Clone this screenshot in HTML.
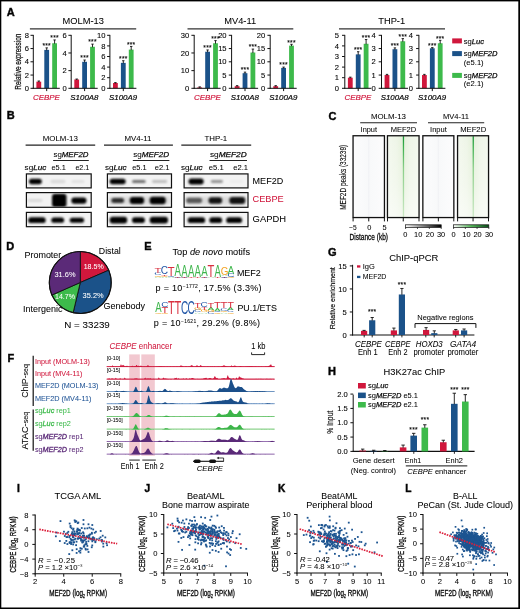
<!DOCTYPE html>
<html><head><meta charset="utf-8"><style>
html,body{margin:0;padding:0;background:#fff;}
body{width:520px;height:609px;overflow:hidden;position:relative;}
svg{position:absolute;left:0;top:0;font-family:"Liberation Sans",sans-serif;filter:blur(0.3px);}
</style></head><body>
<svg width="520" height="609" viewBox="0 0 520 609">
<defs>
<filter id="b1" x="-50%" y="-50%" width="200%" height="200%"><feGaussianBlur stdDeviation="0.9"/></filter>
<filter id="b2" x="-50%" y="-50%" width="200%" height="200%"><feGaussianBlur stdDeviation="1.4"/></filter>
</defs>
<rect x="0" y="0" width="520" height="609" fill="#fff"/>
<text x="6.80" y="16.30" font-size="11" stroke="#111" stroke-width="0.45" font-weight="bold">A</text>
<text stroke="#111" stroke-width="0.25" transform="translate(21.00,61.70) rotate(-90)" x="0" y="0" font-size="8.4" text-anchor="middle" fill="#111" textLength="56.00" lengthAdjust="spacingAndGlyphs">Relative expression</text>
<text x="83.20" y="23.70" font-size="9.3" stroke="#111" stroke-width="0.05" text-anchor="middle">MOLM-13</text>
<line x1="29.90" y1="28.90" x2="136.20" y2="28.90" stroke="#333" stroke-width="1.1" />
<rect x="36.40" y="81.67" width="4.80" height="6.62" fill="#d0173c" />
<line x1="38.80" y1="81.01" x2="38.80" y2="82.17" stroke="#111" stroke-width="0.9" />
<line x1="37.60" y1="81.01" x2="40.00" y2="81.01" stroke="#111" stroke-width="0.9" />
<rect x="44.30" y="49.88" width="4.80" height="38.42" fill="#1b5289" />
<line x1="46.70" y1="47.89" x2="46.70" y2="50.38" stroke="#111" stroke-width="0.9" />
<line x1="45.50" y1="47.89" x2="47.90" y2="47.89" stroke="#111" stroke-width="0.9" />
<text x="46.70" y="48.19" font-size="6.6" stroke="#111" stroke-width="0.12" text-anchor="middle" letter-spacing="0.25">***</text>
<rect x="52.20" y="43.25" width="4.80" height="45.05" fill="#3dba4b" />
<line x1="54.60" y1="39.94" x2="54.60" y2="43.75" stroke="#111" stroke-width="0.9" />
<line x1="53.40" y1="39.94" x2="55.80" y2="39.94" stroke="#111" stroke-width="0.9" />
<text x="54.60" y="40.24" font-size="6.6" stroke="#111" stroke-width="0.12" text-anchor="middle" letter-spacing="0.25">***</text>
<line x1="33.30" y1="34.90" x2="33.30" y2="88.80" stroke="#111" stroke-width="1.0" />
<line x1="32.80" y1="88.30" x2="59.80" y2="88.30" stroke="#111" stroke-width="1.0" />
<line x1="46.70" y1="88.30" x2="46.70" y2="91.10" stroke="#111" stroke-width="1.0" />
<line x1="30.50" y1="88.30" x2="33.30" y2="88.30" stroke="#111" stroke-width="1.0" />
<text x="28.90" y="90.95" font-size="7.6" stroke="#111" stroke-width="0.1" text-anchor="end">0</text>
<line x1="30.50" y1="75.05" x2="33.30" y2="75.05" stroke="#111" stroke-width="1.0" />
<text x="28.90" y="77.70" font-size="7.6" stroke="#111" stroke-width="0.1" text-anchor="end">2</text>
<line x1="30.50" y1="61.80" x2="33.30" y2="61.80" stroke="#111" stroke-width="1.0" />
<text x="28.90" y="64.45" font-size="7.6" stroke="#111" stroke-width="0.1" text-anchor="end">4</text>
<line x1="30.50" y1="48.55" x2="33.30" y2="48.55" stroke="#111" stroke-width="1.0" />
<text x="28.90" y="51.20" font-size="7.6" stroke="#111" stroke-width="0.1" text-anchor="end">6</text>
<line x1="30.50" y1="35.30" x2="33.30" y2="35.30" stroke="#111" stroke-width="1.0" />
<text x="28.90" y="37.95" font-size="7.6" stroke="#111" stroke-width="0.1" text-anchor="end">8</text>
<text x="46.50" y="99.70" font-size="7.9" fill="#d0173c" stroke="#d0173c" stroke-width="0.2" text-anchor="middle" font-style="italic">CEBPE</text>
<rect x="74.30" y="79.47" width="4.80" height="8.83" fill="#d0173c" />
<line x1="76.70" y1="79.02" x2="76.70" y2="79.97" stroke="#111" stroke-width="0.9" />
<line x1="75.50" y1="79.02" x2="77.90" y2="79.02" stroke="#111" stroke-width="0.9" />
<rect x="82.20" y="61.80" width="4.80" height="26.50" fill="#1b5289" />
<line x1="84.60" y1="60.03" x2="84.60" y2="62.30" stroke="#111" stroke-width="0.9" />
<line x1="83.40" y1="60.03" x2="85.80" y2="60.03" stroke="#111" stroke-width="0.9" />
<text x="84.60" y="60.33" font-size="6.6" stroke="#111" stroke-width="0.12" text-anchor="middle" letter-spacing="0.25">***</text>
<rect x="90.10" y="46.78" width="4.80" height="41.52" fill="#3dba4b" />
<line x1="92.50" y1="44.13" x2="92.50" y2="47.28" stroke="#111" stroke-width="0.9" />
<line x1="91.30" y1="44.13" x2="93.70" y2="44.13" stroke="#111" stroke-width="0.9" />
<text x="92.50" y="44.43" font-size="6.6" stroke="#111" stroke-width="0.12" text-anchor="middle" letter-spacing="0.25">***</text>
<line x1="71.20" y1="34.90" x2="71.20" y2="88.80" stroke="#111" stroke-width="1.0" />
<line x1="70.70" y1="88.30" x2="97.70" y2="88.30" stroke="#111" stroke-width="1.0" />
<line x1="84.60" y1="88.30" x2="84.60" y2="91.10" stroke="#111" stroke-width="1.0" />
<line x1="68.40" y1="88.30" x2="71.20" y2="88.30" stroke="#111" stroke-width="1.0" />
<text x="66.80" y="90.95" font-size="7.6" stroke="#111" stroke-width="0.1" text-anchor="end">0</text>
<line x1="68.40" y1="70.63" x2="71.20" y2="70.63" stroke="#111" stroke-width="1.0" />
<text x="66.80" y="73.28" font-size="7.6" stroke="#111" stroke-width="0.1" text-anchor="end">2</text>
<line x1="68.40" y1="52.97" x2="71.20" y2="52.97" stroke="#111" stroke-width="1.0" />
<text x="66.80" y="55.62" font-size="7.6" stroke="#111" stroke-width="0.1" text-anchor="end">4</text>
<line x1="68.40" y1="35.30" x2="71.20" y2="35.30" stroke="#111" stroke-width="1.0" />
<text x="66.80" y="37.95" font-size="7.6" stroke="#111" stroke-width="0.1" text-anchor="end">6</text>
<text x="84.40" y="99.70" font-size="7.9" stroke="#111" stroke-width="0.2" text-anchor="middle" font-style="italic">S100A8</text>
<rect x="113.00" y="83.00" width="4.80" height="5.30" fill="#d0173c" />
<line x1="115.40" y1="82.58" x2="115.40" y2="83.50" stroke="#111" stroke-width="0.9" />
<line x1="114.20" y1="82.58" x2="116.60" y2="82.58" stroke="#111" stroke-width="0.9" />
<rect x="120.90" y="62.86" width="4.80" height="25.44" fill="#1b5289" />
<line x1="123.30" y1="60.74" x2="123.30" y2="63.36" stroke="#111" stroke-width="0.9" />
<line x1="122.10" y1="60.74" x2="124.50" y2="60.74" stroke="#111" stroke-width="0.9" />
<text x="123.30" y="61.04" font-size="6.6" stroke="#111" stroke-width="0.12" text-anchor="middle" letter-spacing="0.25">***</text>
<rect x="128.80" y="49.61" width="4.80" height="38.69" fill="#3dba4b" />
<line x1="131.20" y1="46.43" x2="131.20" y2="50.11" stroke="#111" stroke-width="0.9" />
<line x1="130.00" y1="46.43" x2="132.40" y2="46.43" stroke="#111" stroke-width="0.9" />
<text x="131.20" y="46.73" font-size="6.6" stroke="#111" stroke-width="0.12" text-anchor="middle" letter-spacing="0.25">***</text>
<line x1="109.90" y1="34.90" x2="109.90" y2="88.80" stroke="#111" stroke-width="1.0" />
<line x1="109.40" y1="88.30" x2="136.40" y2="88.30" stroke="#111" stroke-width="1.0" />
<line x1="123.30" y1="88.30" x2="123.30" y2="91.10" stroke="#111" stroke-width="1.0" />
<line x1="107.10" y1="88.30" x2="109.90" y2="88.30" stroke="#111" stroke-width="1.0" />
<text x="105.50" y="90.95" font-size="7.6" stroke="#111" stroke-width="0.1" text-anchor="end">0</text>
<line x1="107.10" y1="77.70" x2="109.90" y2="77.70" stroke="#111" stroke-width="1.0" />
<text x="105.50" y="80.35" font-size="7.6" stroke="#111" stroke-width="0.1" text-anchor="end">2</text>
<line x1="107.10" y1="67.10" x2="109.90" y2="67.10" stroke="#111" stroke-width="1.0" />
<text x="105.50" y="69.75" font-size="7.6" stroke="#111" stroke-width="0.1" text-anchor="end">4</text>
<line x1="107.10" y1="56.50" x2="109.90" y2="56.50" stroke="#111" stroke-width="1.0" />
<text x="105.50" y="59.15" font-size="7.6" stroke="#111" stroke-width="0.1" text-anchor="end">6</text>
<line x1="107.10" y1="45.90" x2="109.90" y2="45.90" stroke="#111" stroke-width="1.0" />
<text x="105.50" y="48.55" font-size="7.6" stroke="#111" stroke-width="0.1" text-anchor="end">8</text>
<line x1="107.10" y1="35.30" x2="109.90" y2="35.30" stroke="#111" stroke-width="1.0" />
<text x="105.50" y="37.95" font-size="7.6" stroke="#111" stroke-width="0.1" text-anchor="end">10</text>
<text x="123.10" y="99.70" font-size="7.9" stroke="#111" stroke-width="0.2" text-anchor="middle" font-style="italic">S100A9</text>
<text x="240.20" y="23.70" font-size="9.3" stroke="#111" stroke-width="0.05" text-anchor="middle">MV4-11</text>
<line x1="187.50" y1="28.90" x2="293.30" y2="28.90" stroke="#333" stroke-width="1.1" />
<rect x="197.30" y="87.42" width="4.80" height="0.88" fill="#d0173c" />
<line x1="199.70" y1="86.89" x2="199.70" y2="87.92" stroke="#111" stroke-width="0.9" />
<line x1="198.50" y1="86.89" x2="200.90" y2="86.89" stroke="#111" stroke-width="0.9" />
<rect x="205.20" y="51.73" width="4.80" height="36.57" fill="#1b5289" />
<line x1="207.60" y1="49.96" x2="207.60" y2="52.23" stroke="#111" stroke-width="0.9" />
<line x1="206.40" y1="49.96" x2="208.80" y2="49.96" stroke="#111" stroke-width="0.9" />
<text x="207.60" y="50.26" font-size="6.6" stroke="#111" stroke-width="0.12" text-anchor="middle" letter-spacing="0.25">***</text>
<rect x="213.10" y="43.25" width="4.80" height="45.05" fill="#3dba4b" />
<line x1="215.50" y1="40.60" x2="215.50" y2="43.75" stroke="#111" stroke-width="0.9" />
<line x1="214.30" y1="40.60" x2="216.70" y2="40.60" stroke="#111" stroke-width="0.9" />
<text x="215.50" y="40.90" font-size="6.6" stroke="#111" stroke-width="0.12" text-anchor="middle" letter-spacing="0.25">***</text>
<line x1="194.20" y1="34.90" x2="194.20" y2="88.80" stroke="#111" stroke-width="1.0" />
<line x1="193.70" y1="88.30" x2="220.70" y2="88.30" stroke="#111" stroke-width="1.0" />
<line x1="207.60" y1="88.30" x2="207.60" y2="91.10" stroke="#111" stroke-width="1.0" />
<line x1="191.40" y1="88.30" x2="194.20" y2="88.30" stroke="#111" stroke-width="1.0" />
<text x="189.20" y="90.95" font-size="7.6" stroke="#111" stroke-width="0.1" text-anchor="end">0</text>
<line x1="191.40" y1="70.63" x2="194.20" y2="70.63" stroke="#111" stroke-width="1.0" />
<text x="189.20" y="73.28" font-size="7.6" stroke="#111" stroke-width="0.1" text-anchor="end">10</text>
<line x1="191.40" y1="52.97" x2="194.20" y2="52.97" stroke="#111" stroke-width="1.0" />
<text x="189.20" y="55.62" font-size="7.6" stroke="#111" stroke-width="0.1" text-anchor="end">20</text>
<line x1="191.40" y1="35.30" x2="194.20" y2="35.30" stroke="#111" stroke-width="1.0" />
<text x="189.20" y="37.95" font-size="7.6" stroke="#111" stroke-width="0.1" text-anchor="end">30</text>
<text x="207.40" y="99.70" font-size="7.9" fill="#d0173c" stroke="#d0173c" stroke-width="0.2" text-anchor="middle" font-style="italic">CEBPE</text>
<rect x="234.70" y="86.18" width="4.80" height="2.12" fill="#d0173c" />
<line x1="237.10" y1="85.65" x2="237.10" y2="86.68" stroke="#111" stroke-width="0.9" />
<line x1="235.90" y1="85.65" x2="238.30" y2="85.65" stroke="#111" stroke-width="0.9" />
<rect x="242.60" y="73.19" width="4.80" height="15.11" fill="#1b5289" />
<line x1="245.00" y1="72.13" x2="245.00" y2="73.69" stroke="#111" stroke-width="0.9" />
<line x1="243.80" y1="72.13" x2="246.20" y2="72.13" stroke="#111" stroke-width="0.9" />
<text x="245.00" y="72.43" font-size="6.6" stroke="#111" stroke-width="0.12" text-anchor="middle" letter-spacing="0.25">***</text>
<rect x="250.50" y="52.52" width="4.80" height="35.78" fill="#3dba4b" />
<line x1="252.90" y1="49.08" x2="252.90" y2="53.02" stroke="#111" stroke-width="0.9" />
<line x1="251.70" y1="49.08" x2="254.10" y2="49.08" stroke="#111" stroke-width="0.9" />
<text x="252.90" y="49.38" font-size="6.6" stroke="#111" stroke-width="0.12" text-anchor="middle" letter-spacing="0.25">***</text>
<line x1="231.60" y1="34.90" x2="231.60" y2="88.80" stroke="#111" stroke-width="1.0" />
<line x1="231.10" y1="88.30" x2="258.10" y2="88.30" stroke="#111" stroke-width="1.0" />
<line x1="245.00" y1="88.30" x2="245.00" y2="91.10" stroke="#111" stroke-width="1.0" />
<line x1="228.80" y1="88.30" x2="231.60" y2="88.30" stroke="#111" stroke-width="1.0" />
<text x="226.60" y="90.95" font-size="7.6" stroke="#111" stroke-width="0.1" text-anchor="end">0</text>
<line x1="228.80" y1="75.05" x2="231.60" y2="75.05" stroke="#111" stroke-width="1.0" />
<text x="226.60" y="77.70" font-size="7.6" stroke="#111" stroke-width="0.1" text-anchor="end">5</text>
<line x1="228.80" y1="61.80" x2="231.60" y2="61.80" stroke="#111" stroke-width="1.0" />
<text x="226.60" y="64.45" font-size="7.6" stroke="#111" stroke-width="0.1" text-anchor="end">10</text>
<line x1="228.80" y1="48.55" x2="231.60" y2="48.55" stroke="#111" stroke-width="1.0" />
<text x="226.60" y="51.20" font-size="7.6" stroke="#111" stroke-width="0.1" text-anchor="end">15</text>
<line x1="228.80" y1="35.30" x2="231.60" y2="35.30" stroke="#111" stroke-width="1.0" />
<text x="226.60" y="37.95" font-size="7.6" stroke="#111" stroke-width="0.1" text-anchor="end">20</text>
<text x="244.80" y="99.70" font-size="7.9" stroke="#111" stroke-width="0.2" text-anchor="middle" font-style="italic">S100A8</text>
<rect x="273.30" y="86.18" width="4.80" height="2.12" fill="#d0173c" />
<line x1="275.70" y1="85.65" x2="275.70" y2="86.68" stroke="#111" stroke-width="0.9" />
<line x1="274.50" y1="85.65" x2="276.90" y2="85.65" stroke="#111" stroke-width="0.9" />
<rect x="281.20" y="67.89" width="4.80" height="20.41" fill="#1b5289" />
<line x1="283.60" y1="67.10" x2="283.60" y2="68.39" stroke="#111" stroke-width="0.9" />
<line x1="282.40" y1="67.10" x2="284.80" y2="67.10" stroke="#111" stroke-width="0.9" />
<text x="283.60" y="67.40" font-size="6.6" stroke="#111" stroke-width="0.12" text-anchor="middle" letter-spacing="0.25">***</text>
<rect x="289.10" y="45.63" width="4.80" height="42.66" fill="#3dba4b" />
<line x1="291.50" y1="44.31" x2="291.50" y2="46.13" stroke="#111" stroke-width="0.9" />
<line x1="290.30" y1="44.31" x2="292.70" y2="44.31" stroke="#111" stroke-width="0.9" />
<text x="291.50" y="44.61" font-size="6.6" stroke="#111" stroke-width="0.12" text-anchor="middle" letter-spacing="0.25">***</text>
<line x1="270.20" y1="34.90" x2="270.20" y2="88.80" stroke="#111" stroke-width="1.0" />
<line x1="269.70" y1="88.30" x2="296.70" y2="88.30" stroke="#111" stroke-width="1.0" />
<line x1="283.60" y1="88.30" x2="283.60" y2="91.10" stroke="#111" stroke-width="1.0" />
<line x1="267.40" y1="88.30" x2="270.20" y2="88.30" stroke="#111" stroke-width="1.0" />
<text x="265.20" y="90.95" font-size="7.6" stroke="#111" stroke-width="0.1" text-anchor="end">0</text>
<line x1="267.40" y1="75.05" x2="270.20" y2="75.05" stroke="#111" stroke-width="1.0" />
<text x="265.20" y="77.70" font-size="7.6" stroke="#111" stroke-width="0.1" text-anchor="end">5</text>
<line x1="267.40" y1="61.80" x2="270.20" y2="61.80" stroke="#111" stroke-width="1.0" />
<text x="265.20" y="64.45" font-size="7.6" stroke="#111" stroke-width="0.1" text-anchor="end">10</text>
<line x1="267.40" y1="48.55" x2="270.20" y2="48.55" stroke="#111" stroke-width="1.0" />
<text x="265.20" y="51.20" font-size="7.6" stroke="#111" stroke-width="0.1" text-anchor="end">15</text>
<line x1="267.40" y1="35.30" x2="270.20" y2="35.30" stroke="#111" stroke-width="1.0" />
<text x="265.20" y="37.95" font-size="7.6" stroke="#111" stroke-width="0.1" text-anchor="end">20</text>
<text x="283.40" y="99.70" font-size="7.9" stroke="#111" stroke-width="0.2" text-anchor="middle" font-style="italic">S100A9</text>
<text x="391.70" y="23.70" font-size="9.3" stroke="#111" stroke-width="0.05" text-anchor="middle">THP-1</text>
<line x1="339.00" y1="28.90" x2="445.00" y2="28.90" stroke="#333" stroke-width="1.1" />
<rect x="347.90" y="77.70" width="4.80" height="10.60" fill="#d0173c" />
<line x1="350.30" y1="77.17" x2="350.30" y2="78.20" stroke="#111" stroke-width="0.9" />
<line x1="349.10" y1="77.17" x2="351.50" y2="77.17" stroke="#111" stroke-width="0.9" />
<rect x="355.80" y="54.38" width="4.80" height="33.92" fill="#1b5289" />
<line x1="358.20" y1="51.73" x2="358.20" y2="54.88" stroke="#111" stroke-width="0.9" />
<line x1="357.00" y1="51.73" x2="359.40" y2="51.73" stroke="#111" stroke-width="0.9" />
<text x="358.20" y="52.03" font-size="6.6" stroke="#111" stroke-width="0.12" text-anchor="middle" letter-spacing="0.25">***</text>
<rect x="363.70" y="43.78" width="4.80" height="44.52" fill="#3dba4b" />
<line x1="366.10" y1="39.54" x2="366.10" y2="44.28" stroke="#111" stroke-width="0.9" />
<line x1="364.90" y1="39.54" x2="367.30" y2="39.54" stroke="#111" stroke-width="0.9" />
<text x="366.10" y="39.84" font-size="6.6" stroke="#111" stroke-width="0.12" text-anchor="middle" letter-spacing="0.25">***</text>
<line x1="344.80" y1="34.90" x2="344.80" y2="88.80" stroke="#111" stroke-width="1.0" />
<line x1="344.30" y1="88.30" x2="371.30" y2="88.30" stroke="#111" stroke-width="1.0" />
<line x1="358.20" y1="88.30" x2="358.20" y2="91.10" stroke="#111" stroke-width="1.0" />
<line x1="342.00" y1="88.30" x2="344.80" y2="88.30" stroke="#111" stroke-width="1.0" />
<text x="339.00" y="90.95" font-size="7.6" stroke="#111" stroke-width="0.1" text-anchor="end">0</text>
<line x1="342.00" y1="77.70" x2="344.80" y2="77.70" stroke="#111" stroke-width="1.0" />
<text x="339.00" y="80.35" font-size="7.6" stroke="#111" stroke-width="0.1" text-anchor="end">1</text>
<line x1="342.00" y1="67.10" x2="344.80" y2="67.10" stroke="#111" stroke-width="1.0" />
<text x="339.00" y="69.75" font-size="7.6" stroke="#111" stroke-width="0.1" text-anchor="end">2</text>
<line x1="342.00" y1="56.50" x2="344.80" y2="56.50" stroke="#111" stroke-width="1.0" />
<text x="339.00" y="59.15" font-size="7.6" stroke="#111" stroke-width="0.1" text-anchor="end">3</text>
<line x1="342.00" y1="45.90" x2="344.80" y2="45.90" stroke="#111" stroke-width="1.0" />
<text x="339.00" y="48.55" font-size="7.6" stroke="#111" stroke-width="0.1" text-anchor="end">4</text>
<line x1="342.00" y1="35.30" x2="344.80" y2="35.30" stroke="#111" stroke-width="1.0" />
<text x="339.00" y="37.95" font-size="7.6" stroke="#111" stroke-width="0.1" text-anchor="end">5</text>
<text x="358.00" y="99.70" font-size="7.9" fill="#d0173c" stroke="#d0173c" stroke-width="0.2" text-anchor="middle" font-style="italic">CEBPE</text>
<rect x="384.60" y="75.05" width="4.80" height="13.25" fill="#d0173c" />
<line x1="387.00" y1="74.39" x2="387.00" y2="75.55" stroke="#111" stroke-width="0.9" />
<line x1="385.80" y1="74.39" x2="388.20" y2="74.39" stroke="#111" stroke-width="0.9" />
<rect x="392.50" y="49.21" width="4.80" height="39.09" fill="#1b5289" />
<line x1="394.90" y1="47.89" x2="394.90" y2="49.71" stroke="#111" stroke-width="0.9" />
<line x1="393.70" y1="47.89" x2="396.10" y2="47.89" stroke="#111" stroke-width="0.9" />
<text x="394.90" y="48.19" font-size="6.6" stroke="#111" stroke-width="0.12" text-anchor="middle" letter-spacing="0.25">***</text>
<rect x="400.40" y="41.26" width="4.80" height="47.04" fill="#3dba4b" />
<line x1="402.80" y1="38.61" x2="402.80" y2="41.76" stroke="#111" stroke-width="0.9" />
<line x1="401.60" y1="38.61" x2="404.00" y2="38.61" stroke="#111" stroke-width="0.9" />
<text x="402.80" y="38.91" font-size="6.6" stroke="#111" stroke-width="0.12" text-anchor="middle" letter-spacing="0.25">***</text>
<line x1="381.50" y1="34.90" x2="381.50" y2="88.80" stroke="#111" stroke-width="1.0" />
<line x1="381.00" y1="88.30" x2="408.00" y2="88.30" stroke="#111" stroke-width="1.0" />
<line x1="394.90" y1="88.30" x2="394.90" y2="91.10" stroke="#111" stroke-width="1.0" />
<line x1="378.70" y1="88.30" x2="381.50" y2="88.30" stroke="#111" stroke-width="1.0" />
<text x="375.70" y="90.95" font-size="7.6" stroke="#111" stroke-width="0.1" text-anchor="end">0</text>
<line x1="378.70" y1="75.05" x2="381.50" y2="75.05" stroke="#111" stroke-width="1.0" />
<text x="375.70" y="77.70" font-size="7.6" stroke="#111" stroke-width="0.1" text-anchor="end">1</text>
<line x1="378.70" y1="61.80" x2="381.50" y2="61.80" stroke="#111" stroke-width="1.0" />
<text x="375.70" y="64.45" font-size="7.6" stroke="#111" stroke-width="0.1" text-anchor="end">2</text>
<line x1="378.70" y1="48.55" x2="381.50" y2="48.55" stroke="#111" stroke-width="1.0" />
<text x="375.70" y="51.20" font-size="7.6" stroke="#111" stroke-width="0.1" text-anchor="end">3</text>
<line x1="378.70" y1="35.30" x2="381.50" y2="35.30" stroke="#111" stroke-width="1.0" />
<text x="375.70" y="37.95" font-size="7.6" stroke="#111" stroke-width="0.1" text-anchor="end">4</text>
<text x="394.70" y="99.70" font-size="7.9" stroke="#111" stroke-width="0.2" text-anchor="middle" font-style="italic">S100A8</text>
<rect x="422.00" y="75.05" width="4.80" height="13.25" fill="#d0173c" />
<line x1="424.40" y1="74.39" x2="424.40" y2="75.55" stroke="#111" stroke-width="0.9" />
<line x1="423.20" y1="74.39" x2="425.60" y2="74.39" stroke="#111" stroke-width="0.9" />
<rect x="429.90" y="48.28" width="4.80" height="40.02" fill="#1b5289" />
<line x1="432.30" y1="47.62" x2="432.30" y2="48.78" stroke="#111" stroke-width="0.9" />
<line x1="431.10" y1="47.62" x2="433.50" y2="47.62" stroke="#111" stroke-width="0.9" />
<text x="432.30" y="47.92" font-size="6.6" stroke="#111" stroke-width="0.12" text-anchor="middle" letter-spacing="0.25">***</text>
<rect x="437.80" y="43.25" width="4.80" height="45.05" fill="#3dba4b" />
<line x1="440.20" y1="40.33" x2="440.20" y2="43.75" stroke="#111" stroke-width="0.9" />
<line x1="439.00" y1="40.33" x2="441.40" y2="40.33" stroke="#111" stroke-width="0.9" />
<text x="440.20" y="40.63" font-size="6.6" stroke="#111" stroke-width="0.12" text-anchor="middle" letter-spacing="0.25">***</text>
<line x1="418.90" y1="34.90" x2="418.90" y2="88.80" stroke="#111" stroke-width="1.0" />
<line x1="418.40" y1="88.30" x2="445.40" y2="88.30" stroke="#111" stroke-width="1.0" />
<line x1="432.30" y1="88.30" x2="432.30" y2="91.10" stroke="#111" stroke-width="1.0" />
<line x1="416.10" y1="88.30" x2="418.90" y2="88.30" stroke="#111" stroke-width="1.0" />
<text x="413.10" y="90.95" font-size="7.6" stroke="#111" stroke-width="0.1" text-anchor="end">0</text>
<line x1="416.10" y1="75.05" x2="418.90" y2="75.05" stroke="#111" stroke-width="1.0" />
<text x="413.10" y="77.70" font-size="7.6" stroke="#111" stroke-width="0.1" text-anchor="end">1</text>
<line x1="416.10" y1="61.80" x2="418.90" y2="61.80" stroke="#111" stroke-width="1.0" />
<text x="413.10" y="64.45" font-size="7.6" stroke="#111" stroke-width="0.1" text-anchor="end">2</text>
<line x1="416.10" y1="48.55" x2="418.90" y2="48.55" stroke="#111" stroke-width="1.0" />
<text x="413.10" y="51.20" font-size="7.6" stroke="#111" stroke-width="0.1" text-anchor="end">3</text>
<line x1="416.10" y1="35.30" x2="418.90" y2="35.30" stroke="#111" stroke-width="1.0" />
<text x="413.10" y="37.95" font-size="7.6" stroke="#111" stroke-width="0.1" text-anchor="end">4</text>
<text x="432.10" y="99.70" font-size="7.9" stroke="#111" stroke-width="0.2" text-anchor="middle" font-style="italic">S100A9</text>
<rect x="452.20" y="38.40" width="9.70" height="5.00" fill="#d0173c" />
<rect x="452.20" y="51.10" width="9.70" height="5.00" fill="#1b5289" />
<rect x="452.20" y="72.90" width="9.70" height="5.00" fill="#3dba4b" />
<text x="463.80" y="43.60" font-size="7.6" stroke="#111" stroke-width="0.05"><tspan>sg</tspan><tspan font-style="italic" stroke-width="0.25">Luc</tspan></text>
<text x="463.80" y="56.20" font-size="7.6" stroke="#111" stroke-width="0.05"><tspan>sg</tspan><tspan font-style="italic" stroke-width="0.25">MEF2D</tspan></text>
<text x="463.80" y="64.80" font-size="7.6" stroke="#111" stroke-width="0.05">(e5.1)</text>
<text x="463.80" y="77.90" font-size="7.6" stroke="#111" stroke-width="0.05"><tspan>sg</tspan><tspan font-style="italic" stroke-width="0.25">MEF2D</tspan></text>
<text x="463.80" y="86.40" font-size="7.6" stroke="#111" stroke-width="0.05">(e2.1)</text>
<text x="6.70" y="119.40" font-size="11" stroke="#111" stroke-width="0.45" font-weight="bold">B</text>
<text x="60.30" y="141.40" font-size="7.9" stroke="#111" stroke-width="0.05" text-anchor="middle">MOLM-13</text>
<line x1="25.60" y1="145.10" x2="95.20" y2="145.10" stroke="#222" stroke-width="1.1" />
<text x="138.00" y="141.40" font-size="7.9" stroke="#111" stroke-width="0.05" text-anchor="middle">MV4-11</text>
<line x1="104.00" y1="145.10" x2="172.90" y2="145.10" stroke="#222" stroke-width="1.1" />
<text x="215.80" y="141.40" font-size="7.9" stroke="#111" stroke-width="0.05" text-anchor="middle">THP-1</text>
<line x1="181.30" y1="145.10" x2="251.20" y2="145.10" stroke="#222" stroke-width="1.1" />
<text x="53.50" y="157.10" font-size="7.9" stroke="#111" stroke-width="0.05" textLength="35.00" lengthAdjust="spacingAndGlyphs"><tspan>sg</tspan><tspan font-style="italic" stroke-width="0.25">MEF2D</tspan></text>
<line x1="53.10" y1="160.50" x2="88.80" y2="160.50" stroke="#222" stroke-width="1.0" />
<text x="133.20" y="157.10" font-size="7.9" stroke="#111" stroke-width="0.05" textLength="35.90" lengthAdjust="spacingAndGlyphs"><tspan>sg</tspan><tspan font-style="italic" stroke-width="0.25">MEF2D</tspan></text>
<line x1="132.80" y1="160.50" x2="169.40" y2="160.50" stroke="#222" stroke-width="1.0" />
<text x="209.90" y="157.10" font-size="7.9" stroke="#111" stroke-width="0.05" textLength="36.80" lengthAdjust="spacingAndGlyphs"><tspan>sg</tspan><tspan font-style="italic" stroke-width="0.25">MEF2D</tspan></text>
<line x1="209.50" y1="160.50" x2="247.00" y2="160.50" stroke="#222" stroke-width="1.0" />
<text x="24.60" y="170.10" font-size="7.6" stroke="#111" stroke-width="0.05" textLength="21.60" lengthAdjust="spacingAndGlyphs"><tspan>sg</tspan><tspan font-style="italic" stroke-width="0.25">Luc</tspan></text>
<text x="51.50" y="170.10" font-size="7.6" stroke="#111" stroke-width="0.05" textLength="14.30" lengthAdjust="spacingAndGlyphs">e5.1</text>
<text x="75.40" y="170.10" font-size="7.6" stroke="#111" stroke-width="0.05" textLength="13.80" lengthAdjust="spacingAndGlyphs">e2.1</text>
<text x="104.90" y="170.10" font-size="7.6" stroke="#111" stroke-width="0.05" textLength="21.60" lengthAdjust="spacingAndGlyphs"><tspan>sg</tspan><tspan font-style="italic" stroke-width="0.25">Luc</tspan></text>
<text x="132.20" y="170.10" font-size="7.6" stroke="#111" stroke-width="0.05" textLength="14.40" lengthAdjust="spacingAndGlyphs">e5.1</text>
<text x="154.70" y="170.10" font-size="7.6" stroke="#111" stroke-width="0.05" textLength="14.70" lengthAdjust="spacingAndGlyphs">e2.1</text>
<text x="180.90" y="170.10" font-size="7.6" stroke="#111" stroke-width="0.05" textLength="21.60" lengthAdjust="spacingAndGlyphs"><tspan>sg</tspan><tspan font-style="italic" stroke-width="0.25">Luc</tspan></text>
<text x="208.80" y="170.10" font-size="7.6" stroke="#111" stroke-width="0.05" textLength="14.90" lengthAdjust="spacingAndGlyphs">e5.1</text>
<text x="233.20" y="170.10" font-size="7.6" stroke="#111" stroke-width="0.05" textLength="14.80" lengthAdjust="spacingAndGlyphs">e2.1</text>
<rect x="26.40" y="173.90" width="64.80" height="14.00" fill="#f3f3f3" stroke="#111" stroke-width="1.2"/>
<clipPath id="cb00"><rect x="27.00" y="174.50" width="63.60" height="12.80"/></clipPath>
<g clip-path="url(#cb00)">
<rect x="29.00" y="178.80" width="12.80" height="5.40" rx="2.70" fill="#000" opacity="1.0" filter="url(#b1)"/>
<rect x="50.50" y="179.75" width="15.00" height="3.50" rx="1.75" fill="#000" opacity="0.1" filter="url(#b1)"/>
<rect x="71.50" y="180.00" width="13.00" height="3.00" rx="1.50" fill="#000" opacity="0.07" filter="url(#b1)"/>
</g>
<rect x="26.40" y="192.60" width="64.80" height="14.70" fill="#f3f3f3" stroke="#111" stroke-width="1.2"/>
<clipPath id="cb01"><rect x="27.00" y="193.20" width="63.60" height="13.50"/></clipPath>
<g clip-path="url(#cb01)">
<rect x="27.50" y="199.05" width="15.00" height="3.00" rx="1.50" fill="#000" opacity="0.1" filter="url(#b1)"/>
<rect x="52.00" y="193.80" width="14.50" height="13.50" rx="3.00" fill="#000" opacity="1.0" filter="url(#b1)"/>
<rect x="71.30" y="197.45" width="15.20" height="6.20" rx="3.00" fill="#000" opacity="1.0" filter="url(#b1)"/>
</g>
<rect x="26.40" y="212.40" width="64.80" height="14.30" fill="#f3f3f3" stroke="#111" stroke-width="1.2"/>
<clipPath id="cb02"><rect x="27.00" y="213.00" width="63.60" height="13.10"/></clipPath>
<g clip-path="url(#cb02)">
<rect x="28.20" y="217.25" width="17.50" height="5.80" rx="2.90" fill="#000" opacity="1.0" filter="url(#b1)"/>
<rect x="51.30" y="217.45" width="12.80" height="5.40" rx="2.70" fill="#000" opacity="1.0" filter="url(#b1)"/>
<rect x="69.70" y="217.65" width="14.40" height="5.00" rx="2.50" fill="#000" opacity="1.0" filter="url(#b1)"/>
</g>
<rect x="107.40" y="173.90" width="64.10" height="14.00" fill="#f3f3f3" stroke="#111" stroke-width="1.2"/>
<clipPath id="cb10"><rect x="108.00" y="174.50" width="62.90" height="12.80"/></clipPath>
<g clip-path="url(#cb10)">
<rect x="109.70" y="178.70" width="16.00" height="5.60" rx="2.80" fill="#000" opacity="1.0" filter="url(#b1)"/>
<rect x="132.00" y="179.90" width="13.70" height="3.20" rx="1.60" fill="#000" opacity="0.55" filter="url(#b1)"/>
<rect x="152.00" y="180.10" width="15.20" height="2.80" rx="1.40" fill="#000" opacity="0.22" filter="url(#b1)"/>
</g>
<rect x="107.40" y="192.60" width="64.10" height="14.70" fill="#f3f3f3" stroke="#111" stroke-width="1.2"/>
<clipPath id="cb11"><rect x="108.00" y="193.20" width="62.90" height="13.50"/></clipPath>
<g clip-path="url(#cb11)">
<rect x="108.80" y="196.55" width="61.30" height="8" fill="#000" opacity="0.10" filter="url(#b2)"/>
<rect x="111.30" y="198.05" width="12.80" height="5.00" rx="2.50" fill="#000" opacity="0.8" filter="url(#b1)"/>
<rect x="129.70" y="197.05" width="14.40" height="7.00" rx="3.00" fill="#000" opacity="1.0" filter="url(#b1)"/>
<rect x="149.70" y="196.80" width="16.00" height="7.50" rx="3.00" fill="#000" opacity="1.0" filter="url(#b1)"/>
</g>
<rect x="107.40" y="212.40" width="64.10" height="14.30" fill="#f3f3f3" stroke="#111" stroke-width="1.2"/>
<clipPath id="cb12"><rect x="108.00" y="213.00" width="62.90" height="13.10"/></clipPath>
<g clip-path="url(#cb12)">
<rect x="109.70" y="216.75" width="17.50" height="6.80" rx="3.00" fill="#000" opacity="1.0" filter="url(#b1)"/>
<rect x="132.00" y="217.35" width="12.90" height="5.60" rx="2.80" fill="#000" opacity="1.0" filter="url(#b1)"/>
<rect x="149.70" y="216.75" width="18.30" height="6.80" rx="3.00" fill="#000" opacity="1.0" filter="url(#b1)"/>
</g>
<rect x="184.10" y="173.90" width="63.90" height="14.00" fill="#f3f3f3" stroke="#111" stroke-width="1.2"/>
<clipPath id="cb20"><rect x="184.70" y="174.50" width="62.70" height="12.80"/></clipPath>
<g clip-path="url(#cb20)">
<rect x="188.50" y="178.60" width="15.20" height="5.80" rx="2.90" fill="#000" opacity="1.0" filter="url(#b1)"/>
<rect x="210.80" y="180.10" width="12.10" height="2.80" rx="1.40" fill="#000" opacity="0.4" filter="url(#b1)"/>
<rect x="229.50" y="180.50" width="14.00" height="2.00" rx="1.00" fill="#000" opacity="0.04" filter="url(#b1)"/>
</g>
<rect x="184.10" y="192.60" width="63.90" height="14.70" fill="#f3f3f3" stroke="#111" stroke-width="1.2"/>
<clipPath id="cb21"><rect x="184.70" y="193.20" width="62.70" height="13.50"/></clipPath>
<g clip-path="url(#cb21)">
<rect x="185.50" y="196.55" width="61.10" height="8" fill="#000" opacity="0.10" filter="url(#b2)"/>
<rect x="186.20" y="197.80" width="15.90" height="5.50" rx="2.75" fill="#000" opacity="0.6" filter="url(#b1)"/>
<rect x="208.50" y="197.30" width="13.60" height="6.50" rx="3.00" fill="#000" opacity="0.92" filter="url(#b1)"/>
<rect x="229.30" y="197.05" width="15.90" height="7.00" rx="3.00" fill="#000" opacity="0.92" filter="url(#b1)"/>
</g>
<rect x="184.10" y="212.40" width="63.90" height="14.30" fill="#f3f3f3" stroke="#111" stroke-width="1.2"/>
<clipPath id="cb22"><rect x="184.70" y="213.00" width="62.70" height="13.10"/></clipPath>
<g clip-path="url(#cb22)">
<rect x="187.70" y="217.25" width="17.50" height="5.80" rx="2.90" fill="#000" opacity="1.0" filter="url(#b1)"/>
<rect x="209.30" y="217.25" width="12.80" height="5.80" rx="2.90" fill="#000" opacity="1.0" filter="url(#b1)"/>
<rect x="226.20" y="217.25" width="15.90" height="5.80" rx="2.90" fill="#000" opacity="1.0" filter="url(#b1)"/>
</g>
<text x="252.60" y="184.10" font-size="9.1" stroke="#111" stroke-width="0.05" textLength="30.60" lengthAdjust="spacingAndGlyphs">MEF2D</text>
<text x="252.60" y="202.10" font-size="9.1" fill="#d0173c" stroke="#d0173c" stroke-width="0.05" textLength="31.10" lengthAdjust="spacingAndGlyphs">CEBPE</text>
<text x="252.60" y="222.20" font-size="9.1" stroke="#111" stroke-width="0.05" textLength="33.40" lengthAdjust="spacingAndGlyphs">GAPDH</text>
<text x="328.40" y="119.50" font-size="11" stroke="#111" stroke-width="0.45" font-weight="bold">C</text>
<text x="388.40" y="118.80" font-size="7.9" stroke="#111" stroke-width="0.05" text-anchor="middle" textLength="35.00" lengthAdjust="spacingAndGlyphs">MOLM-13</text>
<line x1="360.20" y1="122.80" x2="417.00" y2="122.80" stroke="#222" stroke-width="1.1" />
<text x="455.90" y="118.80" font-size="7.9" stroke="#111" stroke-width="0.05" text-anchor="middle" textLength="26.00" lengthAdjust="spacingAndGlyphs">MV4-11</text>
<line x1="428.00" y1="122.80" x2="484.20" y2="122.80" stroke="#222" stroke-width="1.1" />
<text x="368.80" y="131.60" font-size="7.6" stroke="#111" stroke-width="0.05" text-anchor="middle" textLength="16.40" lengthAdjust="spacingAndGlyphs">Input</text>
<text x="403.50" y="131.60" font-size="7.6" stroke="#111" stroke-width="0.05" text-anchor="middle" textLength="25.50" lengthAdjust="spacingAndGlyphs">MEF2D</text>
<text x="438.40" y="131.60" font-size="7.6" stroke="#111" stroke-width="0.05" text-anchor="middle" textLength="16.70" lengthAdjust="spacingAndGlyphs">Input</text>
<text x="473.20" y="131.60" font-size="7.6" stroke="#111" stroke-width="0.05" text-anchor="middle" textLength="26.00" lengthAdjust="spacingAndGlyphs">MEF2D</text>
<linearGradient id="ginp" x1="0" x2="1" y1="0" y2="0"><stop offset="0" stop-color="#fcfcfd"/><stop offset="0.46" stop-color="#f8f9fa"/><stop offset="0.5" stop-color="#f1f2f5"/><stop offset="0.54" stop-color="#f8f9fa"/><stop offset="1" stop-color="#fcfcfd"/></linearGradient>
<linearGradient id="gme" x1="0" x2="1" y1="0" y2="0"><stop offset="0" stop-color="#f3f8ee"/><stop offset="0.3" stop-color="#eef5e7"/><stop offset="0.45" stop-color="#e6f1dc"/><stop offset="0.55" stop-color="#e6f1dc"/><stop offset="0.7" stop-color="#eef5e7"/><stop offset="1" stop-color="#f3f8ee"/></linearGradient>
<linearGradient id="gmev" x1="0" x2="0" y1="0" y2="1"><stop offset="0" stop-color="#fff" stop-opacity="0"/><stop offset="0.6" stop-color="#fff" stop-opacity="0.25"/><stop offset="1" stop-color="#fff" stop-opacity="0.55"/></linearGradient>
<linearGradient id="gline" x1="0" x2="0" y1="0" y2="1"><stop offset="0" stop-color="#1a9638"/><stop offset="0.12" stop-color="#3aae4c"/><stop offset="0.4" stop-color="#8ccf8a"/><stop offset="1" stop-color="#cbe8c4"/></linearGradient>
<rect x="353.05" y="135.75" width="31.40" height="81.80" fill="url(#ginp)"/>
<rect x="353.05" y="135.75" width="31.40" height="81.80" fill="none" stroke="#111" stroke-width="1.3"/>
<line x1="353.10" y1="217.60" x2="353.10" y2="221.40" stroke="#111" stroke-width="1.0" />
<line x1="368.75" y1="217.60" x2="368.75" y2="221.40" stroke="#111" stroke-width="1.0" />
<line x1="384.40" y1="217.60" x2="384.40" y2="221.40" stroke="#111" stroke-width="1.0" />
<rect x="387.45" y="135.75" width="31.60" height="81.80" fill="url(#gme)"/>
<rect x="387.90" y="136.20" width="30.70" height="80.90" fill="url(#gmev)"/>
<rect x="402.80" y="136.20" width="1.3" height="80.90" fill="url(#gline)"/>
<rect x="387.45" y="135.75" width="31.60" height="81.80" fill="none" stroke="#111" stroke-width="1.3"/>
<line x1="387.50" y1="217.60" x2="387.50" y2="221.40" stroke="#111" stroke-width="1.0" />
<line x1="403.25" y1="217.60" x2="403.25" y2="221.40" stroke="#111" stroke-width="1.0" />
<line x1="419.00" y1="217.60" x2="419.00" y2="221.40" stroke="#111" stroke-width="1.0" />
<rect x="422.85" y="135.75" width="31.00" height="81.80" fill="url(#ginp)"/>
<rect x="422.85" y="135.75" width="31.00" height="81.80" fill="none" stroke="#111" stroke-width="1.3"/>
<line x1="422.90" y1="217.60" x2="422.90" y2="221.40" stroke="#111" stroke-width="1.0" />
<line x1="438.35" y1="217.60" x2="438.35" y2="221.40" stroke="#111" stroke-width="1.0" />
<line x1="453.80" y1="217.60" x2="453.80" y2="221.40" stroke="#111" stroke-width="1.0" />
<rect x="457.55" y="135.75" width="31.00" height="81.80" fill="url(#gme)"/>
<rect x="458.00" y="136.20" width="30.10" height="80.90" fill="url(#gmev)"/>
<rect x="472.60" y="136.20" width="1.3" height="80.90" fill="url(#gline)"/>
<rect x="457.55" y="135.75" width="31.00" height="81.80" fill="none" stroke="#111" stroke-width="1.3"/>
<line x1="457.60" y1="217.60" x2="457.60" y2="221.40" stroke="#111" stroke-width="1.0" />
<line x1="473.05" y1="217.60" x2="473.05" y2="221.40" stroke="#111" stroke-width="1.0" />
<line x1="488.50" y1="217.60" x2="488.50" y2="221.40" stroke="#111" stroke-width="1.0" />
<text x="352.90" y="229.70" font-size="7.4" stroke="#111" stroke-width="0.05" text-anchor="middle" textLength="7.60" lengthAdjust="spacingAndGlyphs">−5</text>
<text x="369.20" y="229.70" font-size="7.4" stroke="#111" stroke-width="0.05" text-anchor="middle">0</text>
<text x="384.60" y="229.70" font-size="7.4" stroke="#111" stroke-width="0.05" text-anchor="middle">5</text>
<text x="349.60" y="240.30" font-size="8.8" stroke="#111" stroke-width="0.3" textLength="38.40" lengthAdjust="spacingAndGlyphs">Distance (kb)</text>
<text stroke="#111" stroke-width="0.15" transform="translate(346.30,177.30) rotate(-90)" x="0" y="0" font-size="8.3" text-anchor="middle" fill="#111" textLength="65.00" lengthAdjust="spacingAndGlyphs">MEF2D peaks (33239)</text>
<linearGradient id="cbg" x1="0" x2="1"><stop offset="0" stop-color="#fff"/><stop offset="1" stop-color="#000"/></linearGradient>
<linearGradient id="cbgr" x1="0" x2="1"><stop offset="0" stop-color="#fff"/><stop offset="0.5" stop-color="#56b95a"/><stop offset="1" stop-color="#0b4d1a"/></linearGradient>
<rect x="405.60" y="224.8" width="35.60" height="2.6" fill="url(#cbg)" stroke="#111" stroke-width="0.7"/>
<line x1="405.60" y1="227.30" x2="405.60" y2="229.00" stroke="#111" stroke-width="0.7" />
<line x1="417.47" y1="227.30" x2="417.47" y2="229.00" stroke="#111" stroke-width="0.7" />
<line x1="429.33" y1="227.30" x2="429.33" y2="229.00" stroke="#111" stroke-width="0.7" />
<line x1="441.20" y1="227.30" x2="441.20" y2="229.00" stroke="#111" stroke-width="0.7" />
<rect x="453.60" y="224.8" width="35.20" height="2.6" fill="url(#cbgr)" stroke="#111" stroke-width="0.7"/>
<line x1="453.60" y1="227.30" x2="453.60" y2="229.00" stroke="#111" stroke-width="0.7" />
<line x1="465.33" y1="227.30" x2="465.33" y2="229.00" stroke="#111" stroke-width="0.7" />
<line x1="477.07" y1="227.30" x2="477.07" y2="229.00" stroke="#111" stroke-width="0.7" />
<line x1="488.80" y1="227.30" x2="488.80" y2="229.00" stroke="#111" stroke-width="0.7" />
<text x="405.40" y="237.30" font-size="7.4" stroke="#111" stroke-width="0.05" text-anchor="middle">0</text>
<text x="418.20" y="237.30" font-size="7.4" stroke="#111" stroke-width="0.05" text-anchor="middle">10</text>
<text x="429.90" y="237.30" font-size="7.4" stroke="#111" stroke-width="0.05" text-anchor="middle">20</text>
<text x="441.10" y="237.30" font-size="7.4" stroke="#111" stroke-width="0.05" text-anchor="middle">30</text>
<text x="453.50" y="237.30" font-size="7.4" stroke="#111" stroke-width="0.05" text-anchor="middle">0</text>
<text x="466.40" y="237.30" font-size="7.4" stroke="#111" stroke-width="0.05" text-anchor="middle">10</text>
<text x="477.60" y="237.30" font-size="7.4" stroke="#111" stroke-width="0.05" text-anchor="middle">20</text>
<text x="489.00" y="237.30" font-size="7.4" stroke="#111" stroke-width="0.05" text-anchor="middle">30</text>
<text x="6.30" y="249.60" font-size="11" stroke="#111" stroke-width="0.45" font-weight="bold">D</text>
<path d="M80.30,282.50 L80.30,251.50 A31.0,31.0 0 0 1 108.75,270.19 Z" fill="#d0173c" stroke="#111" stroke-width="0.9" stroke-linejoin="round"/>
<path d="M80.30,282.50 L108.75,270.19 A31.0,31.0 0 0 1 73.16,312.67 Z" fill="#1b5289" stroke="#111" stroke-width="0.9" stroke-linejoin="round"/>
<path d="M80.30,282.50 L73.16,312.67 A31.0,31.0 0 0 1 51.93,294.99 Z" fill="#3dba4b" stroke="#111" stroke-width="0.9" stroke-linejoin="round"/>
<path d="M80.30,282.50 L51.93,294.99 A31.0,31.0 0 0 1 80.30,251.50 Z" fill="#5b2a78" stroke="#111" stroke-width="0.9" stroke-linejoin="round"/>
<circle cx="80.3" cy="282.5" r="31.0" fill="none" stroke="#111" stroke-width="1.1"/>
<text x="93.70" y="269.30" font-size="7.6" fill="#fff" stroke="#fff" stroke-width="0.05" text-anchor="middle" textLength="20.00" lengthAdjust="spacingAndGlyphs">18.5%</text>
<text x="65.00" y="276.80" font-size="7.6" fill="#fff" stroke="#fff" stroke-width="0.05" text-anchor="middle" textLength="21.00" lengthAdjust="spacingAndGlyphs">31.6%</text>
<text x="65.00" y="298.80" font-size="7.6" fill="#fff" stroke="#fff" stroke-width="0.05" text-anchor="middle" textLength="20.00" lengthAdjust="spacingAndGlyphs">14.7%</text>
<text x="93.10" y="297.60" font-size="7.6" fill="#fff" stroke="#fff" stroke-width="0.05" text-anchor="middle" textLength="21.00" lengthAdjust="spacingAndGlyphs">35.2%</text>
<text x="98.80" y="253.80" font-size="8.6" stroke="#111" stroke-width="0.05" textLength="22.00" lengthAdjust="spacingAndGlyphs">Distal</text>
<text x="24.50" y="257.60" font-size="8.6" stroke="#111" stroke-width="0.05" textLength="36.80" lengthAdjust="spacingAndGlyphs">Promoter</text>
<text x="23.00" y="312.00" font-size="8.6" stroke="#111" stroke-width="0.05" textLength="39.50" lengthAdjust="spacingAndGlyphs">Intergenic</text>
<text x="103.50" y="309.10" font-size="8.6" stroke="#111" stroke-width="0.05" textLength="41.60" lengthAdjust="spacingAndGlyphs">Genebody</text>
<text x="64.30" y="328.20" font-size="8.9" stroke="#111" stroke-width="0.05" textLength="45.50" lengthAdjust="spacingAndGlyphs">N = 33239</text>
<text x="144.20" y="250.10" font-size="11" stroke="#111" stroke-width="0.45" font-weight="bold">E</text>
<text x="172.50" y="254.90" font-size="8.8" stroke="#111" stroke-width="0.05" textLength="77.50" lengthAdjust="spacingAndGlyphs"><tspan>Top </tspan><tspan font-style="italic">de novo</tspan><tspan> motifs</tspan></text>
<text transform="translate(154.63,278.30) scale(0.967,0.186)" x="0" y="0" font-size="10" fill="#3cb54a">A</text>
<text transform="translate(154.14,277.00) scale(0.982,0.216)" x="0" y="0" font-size="10" fill="#f3a221">G</text>
<text transform="translate(154.13,275.46) scale(1.013,0.288)" x="0" y="0" font-size="10" fill="#2156a6">C</text>
<text transform="translate(154.41,273.44) scale(1.120,0.779)" x="0" y="0" font-size="10" fill="#d8303f">T</text>
<text transform="translate(161.28,278.30) scale(0.967,0.186)" x="0" y="0" font-size="10" fill="#3cb54a">A</text>
<text transform="translate(160.79,277.00) scale(0.982,0.180)" x="0" y="0" font-size="10" fill="#f3a221">G</text>
<text transform="translate(161.06,275.74) scale(1.120,0.186)" x="0" y="0" font-size="10" fill="#d8303f">T</text>
<text transform="translate(160.78,274.35) scale(1.013,1.082)" x="0" y="0" font-size="10" fill="#2156a6">C</text>
<text transform="translate(167.93,278.30) scale(0.967,0.148)" x="0" y="0" font-size="10" fill="#3cb54a">A</text>
<text transform="translate(167.43,277.26) scale(1.013,0.180)" x="0" y="0" font-size="10" fill="#2156a6">C</text>
<text transform="translate(167.71,276.00) scale(1.120,1.336)" x="0" y="0" font-size="10" fill="#d8303f">T</text>
<text transform="translate(174.08,278.29) scale(1.013,0.090)" x="0" y="0" font-size="10" fill="#2156a6">C</text>
<text transform="translate(174.36,277.66) scale(1.120,0.186)" x="0" y="0" font-size="10" fill="#d8303f">T</text>
<text transform="translate(174.58,276.38) scale(0.967,1.577)" x="0" y="0" font-size="10" fill="#3cb54a">A</text>
<text transform="translate(180.73,278.29) scale(1.013,0.090)" x="0" y="0" font-size="10" fill="#2156a6">C</text>
<text transform="translate(181.01,277.66) scale(1.120,0.148)" x="0" y="0" font-size="10" fill="#d8303f">T</text>
<text transform="translate(181.23,276.64) scale(0.967,1.614)" x="0" y="0" font-size="10" fill="#3cb54a">A</text>
<text transform="translate(187.66,278.30) scale(1.120,0.186)" x="0" y="0" font-size="10" fill="#d8303f">T</text>
<text transform="translate(187.88,277.02) scale(0.967,1.632)" x="0" y="0" font-size="10" fill="#3cb54a">A</text>
<text transform="translate(194.31,278.30) scale(1.120,0.186)" x="0" y="0" font-size="10" fill="#d8303f">T</text>
<text transform="translate(194.53,277.02) scale(0.967,1.632)" x="0" y="0" font-size="10" fill="#3cb54a">A</text>
<text transform="translate(200.68,278.29) scale(1.013,0.090)" x="0" y="0" font-size="10" fill="#2156a6">C</text>
<text transform="translate(200.96,277.66) scale(1.120,0.223)" x="0" y="0" font-size="10" fill="#d8303f">T</text>
<text transform="translate(201.18,276.12) scale(0.967,1.521)" x="0" y="0" font-size="10" fill="#3cb54a">A</text>
<text transform="translate(207.83,278.30) scale(0.967,0.148)" x="0" y="0" font-size="10" fill="#3cb54a">A</text>
<text transform="translate(207.61,277.28) scale(1.120,1.670)" x="0" y="0" font-size="10" fill="#d8303f">T</text>
<text transform="translate(214.26,278.30) scale(1.120,0.148)" x="0" y="0" font-size="10" fill="#d8303f">T</text>
<text transform="translate(214.48,277.28) scale(0.967,1.670)" x="0" y="0" font-size="10" fill="#3cb54a">A</text>
<text transform="translate(220.91,278.30) scale(1.120,0.111)" x="0" y="0" font-size="10" fill="#d8303f">T</text>
<text transform="translate(220.63,277.51) scale(1.013,0.216)" x="0" y="0" font-size="10" fill="#2156a6">C</text>
<text transform="translate(221.13,276.00) scale(0.967,0.186)" x="0" y="0" font-size="10" fill="#3cb54a">A</text>
<text transform="translate(220.64,274.61) scale(0.982,1.082)" x="0" y="0" font-size="10" fill="#f3a221">G</text>
<text transform="translate(227.29,278.29) scale(0.982,0.144)" x="0" y="0" font-size="10" fill="#f3a221">G</text>
<text transform="translate(227.28,277.23) scale(1.013,0.451)" x="0" y="0" font-size="10" fill="#2156a6">C</text>
<text transform="translate(227.78,274.08) scale(0.967,1.020)" x="0" y="0" font-size="10" fill="#3cb54a">A</text>
<text x="236.90" y="275.60" font-size="9.4" stroke="#111" stroke-width="0.05" textLength="23.90" lengthAdjust="spacingAndGlyphs">MEF2</text>
<text x="155.60" y="291.30" font-size="9.0" stroke="#111" stroke-width="0.05" textLength="106.00" lengthAdjust="spacing"><tspan>p = 10</tspan><tspan font-size="5" dy="-3">−1772</tspan><tspan dy="3">, 17.5% (3.3%)</tspan></text>
<text transform="translate(154.65,313.78) scale(0.970,0.187)" x="0" y="0" font-size="10" fill="#f3a221">G</text>
<text transform="translate(155.13,312.47) scale(0.955,1.446)" x="0" y="0" font-size="10" fill="#3cb54a">A</text>
<text transform="translate(161.21,313.79) scale(0.970,0.150)" x="0" y="0" font-size="10" fill="#f3a221">G</text>
<text transform="translate(161.48,312.74) scale(1.106,0.867)" x="0" y="0" font-size="10" fill="#d8303f">T</text>
<text transform="translate(161.20,306.68) scale(1.001,0.693)" x="0" y="0" font-size="10" fill="#2156a6">C</text>
<text transform="translate(168.04,313.80) scale(1.106,1.793)" x="0" y="0" font-size="10" fill="#d8303f">T</text>
<text transform="translate(174.61,313.80) scale(1.106,1.793)" x="0" y="0" font-size="10" fill="#d8303f">T</text>
<text transform="translate(180.90,313.62) scale(1.001,1.780)" x="0" y="0" font-size="10" fill="#2156a6">C</text>
<text transform="translate(187.46,313.62) scale(1.001,1.780)" x="0" y="0" font-size="10" fill="#2156a6">C</text>
<text transform="translate(194.53,313.80) scale(0.955,0.231)" x="0" y="0" font-size="10" fill="#3cb54a">A</text>
<text transform="translate(194.03,312.18) scale(1.001,0.281)" x="0" y="0" font-size="10" fill="#2156a6">C</text>
<text transform="translate(194.05,310.18) scale(0.970,0.337)" x="0" y="0" font-size="10" fill="#f3a221">G</text>
<text transform="translate(194.31,307.81) scale(1.106,0.810)" x="0" y="0" font-size="10" fill="#d8303f">T</text>
<text transform="translate(201.10,313.80) scale(0.955,0.231)" x="0" y="0" font-size="10" fill="#3cb54a">A</text>
<text transform="translate(200.61,312.17) scale(0.970,0.375)" x="0" y="0" font-size="10" fill="#f3a221">G</text>
<text transform="translate(200.88,309.54) scale(1.106,0.289)" x="0" y="0" font-size="10" fill="#d8303f">T</text>
<text transform="translate(200.60,307.47) scale(1.001,0.749)" x="0" y="0" font-size="10" fill="#2156a6">C</text>
<text transform="translate(207.16,313.77) scale(1.001,0.281)" x="0" y="0" font-size="10" fill="#2156a6">C</text>
<text transform="translate(207.18,311.78) scale(0.970,0.281)" x="0" y="0" font-size="10" fill="#f3a221">G</text>
<text transform="translate(207.66,309.81) scale(0.955,0.289)" x="0" y="0" font-size="10" fill="#3cb54a">A</text>
<text transform="translate(207.44,307.81) scale(1.106,0.810)" x="0" y="0" font-size="10" fill="#d8303f">T</text>
<text transform="translate(213.75,313.78) scale(0.970,0.225)" x="0" y="0" font-size="10" fill="#f3a221">G</text>
<text transform="translate(213.73,312.18) scale(1.001,0.225)" x="0" y="0" font-size="10" fill="#2156a6">C</text>
<text transform="translate(214.23,310.61) scale(0.955,0.386)" x="0" y="0" font-size="10" fill="#3cb54a">A</text>
<text transform="translate(214.01,307.95) scale(1.106,0.867)" x="0" y="0" font-size="10" fill="#d8303f">T</text>
<text transform="translate(220.80,313.80) scale(0.955,0.193)" x="0" y="0" font-size="10" fill="#3cb54a">A</text>
<text transform="translate(220.31,312.45) scale(0.970,0.225)" x="0" y="0" font-size="10" fill="#f3a221">G</text>
<text transform="translate(220.30,310.84) scale(1.001,0.375)" x="0" y="0" font-size="10" fill="#2156a6">C</text>
<text transform="translate(220.58,308.21) scale(1.106,0.964)" x="0" y="0" font-size="10" fill="#d8303f">T</text>
<text transform="translate(226.88,313.78) scale(0.970,0.187)" x="0" y="0" font-size="10" fill="#f3a221">G</text>
<text transform="translate(226.86,312.44) scale(1.001,0.281)" x="0" y="0" font-size="10" fill="#2156a6">C</text>
<text transform="translate(227.36,310.48) scale(0.955,0.289)" x="0" y="0" font-size="10" fill="#3cb54a">A</text>
<text transform="translate(227.14,308.48) scale(1.106,0.964)" x="0" y="0" font-size="10" fill="#d8303f">T</text>
<text x="237.40" y="311.00" font-size="9.4" stroke="#111" stroke-width="0.05" textLength="39.50" lengthAdjust="spacingAndGlyphs">PU.1/ETS</text>
<text x="153.80" y="326.30" font-size="9.0" stroke="#111" stroke-width="0.05" textLength="106.20" lengthAdjust="spacing"><tspan>p = 10</tspan><tspan font-size="5" dy="-3">−1621</tspan><tspan dy="3">, 29.2% (9.8%)</tspan></text>
<text x="7.40" y="362.10" font-size="11" stroke="#111" stroke-width="0.45" font-weight="bold">F</text>
<rect x="129.20" y="354.40" width="10.60" height="101.40" fill="#f2c8d0" />
<rect x="141.30" y="354.40" width="13.50" height="101.40" fill="#f2c8d0" />
<text x="109.60" y="349.30" font-size="8.6" fill="#d0173c" stroke="#d0173c" stroke-width="0.05" textLength="62.50" lengthAdjust="spacingAndGlyphs"><tspan font-style="italic">CEBPE</tspan><tspan> enhancer</tspan></text>
<text x="251.20" y="349.30" font-size="8.2" stroke="#111" stroke-width="0.05" textLength="14.20" lengthAdjust="spacingAndGlyphs">1 kb</text>
<path d="M251.6,352.4 L251.6,354.6 L264.6,354.6 L264.6,352.4" fill="none" stroke="#111" stroke-width="0.9"/>
<line x1="33.20" y1="355.70" x2="33.20" y2="405.90" stroke="#111" stroke-width="1.2" />
<line x1="33.20" y1="409.50" x2="33.20" y2="450.80" stroke="#111" stroke-width="1.2" />
<text stroke="#111" stroke-width="0.1" transform="translate(28.30,381.00) rotate(-90)" x="0" y="0" font-size="8.6" text-anchor="middle" fill="#111" textLength="33.50" lengthAdjust="spacingAndGlyphs">ChIP-<tspan font-size="6.8">seq</tspan></text>
<text stroke="#111" stroke-width="0.1" transform="translate(28.30,430.60) rotate(-90)" x="0" y="0" font-size="8.6" text-anchor="middle" fill="#111" textLength="38.00" lengthAdjust="spacingAndGlyphs">ATAC-<tspan font-size="6.8">seq</tspan></text>
<text x="34.90" y="363.70" font-size="7.6" fill="#d0173c" stroke="#d0173c" stroke-width="0.05" textLength="55.10" lengthAdjust="spacingAndGlyphs"><tspan>Input (MOLM-13)</tspan></text>
<text x="34.90" y="376.30" font-size="7.6" fill="#d0173c" stroke="#d0173c" stroke-width="0.05" textLength="47.40" lengthAdjust="spacingAndGlyphs"><tspan>Input (MV4-11)</tspan></text>
<text x="34.90" y="388.00" font-size="7.6" fill="#215596" stroke="#215596" stroke-width="0.05" textLength="63.50" lengthAdjust="spacingAndGlyphs"><tspan>MEF2D (MOLM-13)</tspan></text>
<text x="34.90" y="400.60" font-size="7.6" fill="#215596" stroke="#215596" stroke-width="0.05" textLength="56.50" lengthAdjust="spacingAndGlyphs"><tspan>MEF2D (MV4-11)</tspan></text>
<text x="34.90" y="413.30" font-size="7.6" fill="#3dba4b" stroke="#3dba4b" stroke-width="0.05" textLength="36.00" lengthAdjust="spacingAndGlyphs"><tspan>sg</tspan><tspan font-style="italic" stroke-width="0.3">Luc</tspan><tspan> rep1</tspan></text>
<text x="34.90" y="426.40" font-size="7.6" fill="#3dba4b" stroke="#3dba4b" stroke-width="0.05" textLength="36.00" lengthAdjust="spacingAndGlyphs"><tspan>sg</tspan><tspan font-style="italic" stroke-width="0.3">Luc</tspan><tspan> rep2</tspan></text>
<text x="34.90" y="439.20" font-size="7.6" fill="#5b2a78" stroke="#5b2a78" stroke-width="0.05" textLength="48.60" lengthAdjust="spacingAndGlyphs"><tspan>sg</tspan><tspan font-style="italic" stroke-width="0.3">MEF2D</tspan><tspan> rep1</tspan></text>
<text x="34.90" y="451.90" font-size="7.6" fill="#5b2a78" stroke="#5b2a78" stroke-width="0.05" textLength="48.60" lengthAdjust="spacingAndGlyphs"><tspan>sg</tspan><tspan font-style="italic" stroke-width="0.3">MEF2D</tspan><tspan> rep2</tspan></text>
<text x="106.70" y="359.80" font-size="5.6" stroke="#111" stroke-width="0.05" textLength="13.50" lengthAdjust="spacingAndGlyphs">[0-10]</text>
<line x1="106.70" y1="366.60" x2="274.60" y2="366.60" stroke="#d0173c" stroke-width="0.9" />
<path d="M106.70,367.00 L106.70,366.68 L107.20,366.61 L107.70,366.67 L108.20,366.72 L108.70,366.66 L109.21,366.74 L109.71,366.74 L110.21,366.40 L110.71,366.60 L111.21,366.65 L111.71,366.59 L112.21,365.78 L112.71,365.19 L113.22,366.07 L113.72,366.61 L114.22,366.67 L114.72,366.68 L115.22,366.52 L115.72,366.60 L116.22,366.62 L116.72,366.59 L117.23,366.61 L117.73,366.63 L118.23,366.62 L118.73,366.60 L119.23,366.74 L119.73,366.50 L120.23,365.71 L120.73,364.61 L121.23,364.44 L121.74,365.76 L122.24,365.20 L122.74,365.23 L123.24,365.57 L123.74,364.83 L124.24,365.67 L124.74,366.22 L125.24,366.37 L125.75,366.47 L126.25,366.35 L126.75,365.79 L127.25,365.69 L127.75,366.40 L128.25,366.59 L128.75,366.73 L129.25,366.64 L129.75,366.63 L130.26,366.60 L130.76,366.73 L131.26,366.60 L131.76,365.94 L132.26,365.45 L132.76,366.22 L133.26,366.51 L133.76,366.40 L134.27,366.31 L134.77,366.20 L135.27,366.18 L135.77,365.90 L136.27,365.11 L136.77,364.93 L137.27,365.82 L137.77,366.04 L138.28,365.38 L138.78,366.05 L139.28,366.30 L139.78,365.96 L140.28,365.99 L140.78,365.62 L141.28,365.65 L141.78,366.09 L142.28,366.68 L142.79,366.46 L143.29,366.69 L143.79,366.59 L144.29,366.62 L144.79,366.62 L145.29,366.64 L145.79,366.47 L146.29,366.48 L146.80,366.28 L147.30,365.83 L147.80,364.96 L148.30,365.27 L148.80,366.07 L149.30,366.28 L149.80,366.45 L150.30,366.45 L150.81,366.59 L151.31,366.57 L151.81,366.63 L152.31,366.65 L152.81,366.73 L153.31,366.60 L153.81,366.64 L154.31,366.63 L154.81,366.67 L155.32,366.71 L155.82,366.70 L156.32,366.43 L156.82,366.53 L157.32,366.49 L157.82,366.39 L158.32,366.42 L158.82,366.31 L159.33,366.24 L159.83,366.29 L160.33,366.31 L160.83,366.35 L161.33,366.30 L161.83,366.35 L162.33,366.45 L162.83,366.58 L163.33,366.52 L163.84,366.57 L164.34,366.57 L164.84,366.50 L165.34,366.70 L165.84,366.65 L166.34,366.70 L166.84,366.60 L167.34,366.71 L167.85,366.31 L168.35,366.64 L168.85,366.70 L169.35,366.74 L169.85,366.52 L170.35,366.34 L170.85,366.68 L171.35,366.66 L171.86,366.66 L172.36,366.63 L172.86,366.41 L173.36,366.51 L173.86,366.75 L174.36,366.39 L174.86,366.71 L175.36,366.65 L175.86,366.66 L176.37,366.69 L176.87,366.30 L177.37,366.61 L177.87,366.73 L178.37,366.66 L178.87,366.69 L179.37,366.61 L179.87,366.40 L180.38,365.43 L180.88,365.50 L181.38,365.69 L181.88,365.41 L182.38,366.07 L182.88,366.62 L183.38,366.70 L183.88,366.62 L184.39,366.74 L184.89,366.67 L185.39,366.51 L185.89,366.35 L186.39,366.35 L186.89,366.70 L187.39,366.68 L187.89,366.67 L188.39,366.62 L188.90,366.61 L189.40,366.27 L189.90,366.65 L190.40,366.21 L190.90,365.36 L191.40,365.13 L191.90,365.22 L192.40,365.32 L192.91,366.20 L193.41,366.52 L193.91,366.44 L194.41,366.64 L194.91,366.40 L195.41,366.50 L195.91,366.31 L196.41,365.68 L196.91,365.04 L197.42,365.53 L197.92,365.98 L198.42,366.33 L198.92,366.36 L199.42,366.17 L199.92,365.84 L200.42,365.26 L200.92,364.97 L201.43,365.73 L201.93,366.32 L202.43,366.40 L202.93,366.50 L203.43,366.58 L203.93,366.62 L204.43,366.54 L204.93,366.62 L205.44,366.66 L205.94,366.46 L206.44,366.71 L206.94,366.65 L207.44,366.62 L207.94,366.32 L208.44,366.64 L208.94,366.61 L209.44,366.70 L209.95,366.72 L210.45,366.31 L210.95,366.71 L211.45,366.62 L211.95,366.63 L212.45,366.36 L212.95,366.69 L213.45,366.74 L213.96,366.65 L214.46,366.27 L214.96,366.67 L215.46,366.67 L215.96,366.66 L216.46,366.70 L216.96,366.67 L217.46,366.47 L217.97,366.66 L218.47,366.62 L218.97,366.28 L219.47,366.73 L219.97,366.65 L220.47,366.63 L220.97,366.52 L221.47,366.17 L221.97,366.17 L222.48,366.01 L222.98,365.69 L223.48,365.52 L223.98,365.29 L224.48,365.48 L224.98,365.68 L225.48,365.93 L225.98,366.17 L226.49,366.31 L226.99,366.55 L227.49,366.56 L227.99,366.60 L228.49,366.60 L228.99,366.64 L229.49,366.63 L229.99,366.36 L230.49,366.40 L231.00,365.68 L231.50,365.28 L232.00,365.97 L232.50,366.25 L233.00,366.12 L233.50,365.90 L234.00,365.65 L234.50,365.65 L235.01,365.37 L235.51,365.99 L236.01,366.28 L236.51,366.49 L237.01,366.45 L237.51,366.67 L238.01,366.65 L238.51,366.60 L239.02,366.60 L239.52,366.28 L240.02,366.27 L240.52,365.88 L241.02,366.05 L241.52,366.53 L242.02,366.42 L242.52,366.60 L243.02,366.66 L243.53,366.55 L244.03,366.63 L244.53,366.67 L245.03,366.55 L245.53,366.55 L246.03,366.62 L246.53,366.54 L247.03,366.18 L247.54,366.36 L248.04,366.45 L248.54,366.35 L249.04,365.89 L249.54,366.28 L250.04,366.24 L250.54,366.21 L251.04,366.08 L251.55,366.33 L252.05,366.36 L252.55,366.25 L253.05,366.50 L253.55,366.38 L254.05,366.56 L254.55,366.56 L255.05,366.55 L255.55,366.35 L256.06,366.71 L256.56,366.62 L257.06,366.56 L257.56,366.64 L258.06,366.66 L258.56,366.37 L259.06,366.71 L259.56,366.61 L260.07,366.73 L260.57,366.71 L261.07,366.44 L261.57,366.48 L262.07,366.74 L262.57,366.67 L263.07,366.69 L263.57,366.72 L264.07,366.64 L264.58,366.71 L265.08,366.63 L265.58,366.36 L266.08,366.53 L266.58,366.60 L267.08,366.57 L267.58,366.51 L268.08,366.25 L268.59,366.01 L269.09,365.74 L269.59,365.46 L270.09,365.16 L270.59,364.39 L271.09,364.23 L271.59,365.49 L272.09,366.30 L272.60,366.49 L273.10,366.55 L273.60,366.68 L274.10,366.56 L274.60,366.64 L274.60,367.00 Z" fill="#d0173c"/>
<text x="106.70" y="372.20" font-size="5.6" stroke="#111" stroke-width="0.05" textLength="13.50" lengthAdjust="spacingAndGlyphs">[0-15]</text>
<line x1="106.70" y1="379.00" x2="274.60" y2="379.00" stroke="#d0173c" stroke-width="0.9" />
<path d="M106.70,379.40 L106.70,379.08 L107.20,378.82 L107.70,379.15 L108.20,379.06 L108.70,378.62 L109.21,378.27 L109.71,378.76 L110.21,378.99 L110.71,378.91 L111.21,378.77 L111.71,378.62 L112.21,378.24 L112.71,378.75 L113.22,378.65 L113.72,378.88 L114.22,379.08 L114.72,379.10 L115.22,378.59 L115.72,377.79 L116.22,378.19 L116.72,378.90 L117.23,379.05 L117.73,378.96 L118.23,379.04 L118.73,379.00 L119.23,379.05 L119.73,378.60 L120.23,378.23 L120.73,378.72 L121.23,378.99 L121.74,379.14 L122.24,379.09 L122.74,379.12 L123.24,379.09 L123.74,379.05 L124.24,378.32 L124.74,377.45 L125.24,378.30 L125.75,379.06 L126.25,379.04 L126.75,379.08 L127.25,379.08 L127.75,379.12 L128.25,378.97 L128.75,379.04 L129.25,379.15 L129.75,379.03 L130.26,379.03 L130.76,379.14 L131.26,379.00 L131.76,378.90 L132.26,379.10 L132.76,379.01 L133.26,379.07 L133.76,378.96 L134.27,378.89 L134.77,378.34 L135.27,378.60 L135.77,378.52 L136.27,378.49 L136.77,378.30 L137.27,378.66 L137.77,378.84 L138.28,379.02 L138.78,378.89 L139.28,379.07 L139.78,379.06 L140.28,379.01 L140.78,379.04 L141.28,379.06 L141.78,379.03 L142.28,379.10 L142.79,379.04 L143.29,379.15 L143.79,379.01 L144.29,378.83 L144.79,378.02 L145.29,377.54 L145.79,378.57 L146.29,378.75 L146.80,378.70 L147.30,378.62 L147.80,378.45 L148.30,378.53 L148.80,378.62 L149.30,378.71 L149.80,378.57 L150.30,378.15 L150.81,378.54 L151.31,379.08 L151.81,378.92 L152.31,379.05 L152.81,379.11 L153.31,378.68 L153.81,378.97 L154.31,379.12 L154.81,379.12 L155.32,379.07 L155.82,379.13 L156.32,379.06 L156.82,379.11 L157.32,379.02 L157.82,379.04 L158.32,378.28 L158.82,377.36 L159.33,378.16 L159.83,378.95 L160.33,379.04 L160.83,379.07 L161.33,378.99 L161.83,379.09 L162.33,378.93 L162.83,378.19 L163.33,377.62 L163.84,378.01 L164.34,378.40 L164.84,378.53 L165.34,378.45 L165.84,378.56 L166.34,378.51 L166.84,378.89 L167.34,378.99 L167.85,378.71 L168.35,379.03 L168.85,379.00 L169.35,379.14 L169.85,379.02 L170.35,379.10 L170.85,379.00 L171.35,379.02 L171.86,379.12 L172.36,379.15 L172.86,379.14 L173.36,379.13 L173.86,378.98 L174.36,378.79 L174.86,377.75 L175.36,377.96 L175.86,378.15 L176.37,377.60 L176.87,378.34 L177.37,378.95 L177.87,378.74 L178.37,378.35 L178.87,378.41 L179.37,378.97 L179.87,379.02 L180.38,379.01 L180.88,379.09 L181.38,379.06 L181.88,378.73 L182.38,379.08 L182.88,378.69 L183.38,378.23 L183.88,378.68 L184.39,379.01 L184.89,379.00 L185.39,378.63 L185.89,378.73 L186.39,378.09 L186.89,378.65 L187.39,379.03 L187.89,379.03 L188.39,379.05 L188.90,378.90 L189.40,378.45 L189.90,378.34 L190.40,378.68 L190.90,378.73 L191.40,378.35 L191.90,378.01 L192.40,378.01 L192.91,378.11 L193.41,378.32 L193.91,378.76 L194.41,378.86 L194.91,379.06 L195.41,379.12 L195.91,379.01 L196.41,379.11 L196.91,379.13 L197.42,378.83 L197.92,379.07 L198.42,379.06 L198.92,379.10 L199.42,379.00 L199.92,379.07 L200.42,379.12 L200.92,379.12 L201.43,379.08 L201.93,378.64 L202.43,379.00 L202.93,378.87 L203.43,378.42 L203.93,378.19 L204.43,378.30 L204.93,378.08 L205.44,378.08 L205.94,377.78 L206.44,377.81 L206.94,378.43 L207.44,378.76 L207.94,378.67 L208.44,378.49 L208.94,378.31 L209.44,378.05 L209.95,378.01 L210.45,378.01 L210.95,378.23 L211.45,378.47 L211.95,378.63 L212.45,378.74 L212.95,378.77 L213.45,378.13 L213.96,377.69 L214.46,376.41 L214.96,376.05 L215.46,377.05 L215.96,377.80 L216.46,378.14 L216.96,377.78 L217.46,378.06 L217.97,378.76 L218.47,378.97 L218.97,379.00 L219.47,378.96 L219.97,379.01 L220.47,379.05 L220.97,379.06 L221.47,378.57 L221.97,378.58 L222.48,378.56 L222.98,378.34 L223.48,378.23 L223.98,378.10 L224.48,378.21 L224.98,378.34 L225.48,378.51 L225.98,378.72 L226.49,378.61 L226.99,377.32 L227.49,375.58 L227.99,375.27 L228.49,376.94 L228.99,377.69 L229.49,377.96 L229.99,378.18 L230.49,378.47 L231.00,378.68 L231.50,378.93 L232.00,378.59 L232.50,378.72 L233.00,378.49 L233.50,378.29 L234.00,378.53 L234.50,379.01 L235.01,378.80 L235.51,378.90 L236.01,378.23 L236.51,377.37 L237.01,378.13 L237.51,378.75 L238.01,378.66 L238.51,377.81 L239.02,376.32 L239.52,376.40 L240.02,377.51 L240.52,377.37 L241.02,377.61 L241.52,377.69 L242.02,378.31 L242.52,378.20 L243.02,378.58 L243.53,378.57 L244.03,379.11 L244.53,379.03 L245.03,379.00 L245.53,379.08 L246.03,378.99 L246.53,379.01 L247.03,379.05 L247.54,379.05 L248.04,379.12 L248.54,379.08 L249.04,379.01 L249.54,379.05 L250.04,379.03 L250.54,379.00 L251.04,379.05 L251.55,379.12 L252.05,378.93 L252.55,379.12 L253.05,379.12 L253.55,379.10 L254.05,379.05 L254.55,379.08 L255.05,379.12 L255.55,379.01 L256.06,378.82 L256.56,378.88 L257.06,379.10 L257.56,379.06 L258.06,379.04 L258.56,378.71 L259.06,379.14 L259.56,379.06 L260.07,378.87 L260.57,379.00 L261.07,378.70 L261.57,379.11 L262.07,379.11 L262.57,379.02 L263.07,379.07 L263.57,379.01 L264.07,379.05 L264.58,379.14 L265.08,379.09 L265.58,379.08 L266.08,379.06 L266.58,378.70 L267.08,378.78 L267.58,379.00 L268.08,379.08 L268.59,379.02 L269.09,379.11 L269.59,379.11 L270.09,378.69 L270.59,379.10 L271.09,379.07 L271.59,379.11 L272.09,379.11 L272.60,379.13 L273.10,379.12 L273.60,379.04 L274.10,379.08 L274.60,379.09 L274.60,379.40 Z" fill="#d0173c"/>
<text x="106.70" y="384.70" font-size="5.6" stroke="#111" stroke-width="0.05" textLength="13.50" lengthAdjust="spacingAndGlyphs">[0-10]</text>
<line x1="106.70" y1="391.50" x2="274.60" y2="391.50" stroke="#8eaed4" stroke-width="1.2" />
<path d="M106.70,391.90 L106.70,391.78 L107.20,391.74 L107.70,391.74 L108.20,391.76 L108.70,391.58 L109.21,391.64 L109.71,391.77 L110.21,391.72 L110.71,391.80 L111.21,391.79 L111.71,391.73 L112.21,391.72 L112.71,391.71 L113.22,391.75 L113.72,391.69 L114.22,391.59 L114.72,391.45 L115.22,391.18 L115.72,390.99 L116.22,390.83 L116.72,390.86 L117.23,391.02 L117.73,391.09 L118.23,391.39 L118.73,391.51 L119.23,391.52 L119.73,391.54 L120.23,391.40 L120.73,391.35 L121.23,391.24 L121.74,391.05 L122.24,390.99 L122.74,390.99 L123.24,390.93 L123.74,390.86 L124.24,391.10 L124.74,391.16 L125.24,391.34 L125.75,391.44 L126.25,391.56 L126.75,391.60 L127.25,391.69 L127.75,391.69 L128.25,391.74 L128.75,391.68 L129.25,391.78 L129.75,391.76 L130.26,391.79 L130.76,391.75 L131.26,391.79 L131.76,391.69 L132.26,391.76 L132.76,391.66 L133.26,391.38 L133.76,390.81 L134.27,389.79 L134.77,388.51 L135.27,387.28 L135.77,386.75 L136.27,387.01 L136.77,388.33 L137.27,389.54 L137.77,390.61 L138.28,390.93 L138.78,391.31 L139.28,391.26 L139.78,391.19 L140.28,391.08 L140.78,391.00 L141.28,390.83 L141.78,390.87 L142.28,391.19 L142.79,391.29 L143.29,391.40 L143.79,391.39 L144.29,391.47 L144.79,391.72 L145.29,391.72 L145.79,391.54 L146.29,391.03 L146.80,390.12 L147.30,388.59 L147.80,386.97 L148.30,385.96 L148.80,386.50 L149.30,387.62 L149.80,389.43 L150.30,390.58 L150.81,391.13 L151.31,391.20 L151.81,391.14 L152.31,391.03 L152.81,390.95 L153.31,390.74 L153.81,391.08 L154.31,391.15 L154.81,391.34 L155.32,391.39 L155.82,391.52 L156.32,391.32 L156.82,391.43 L157.32,391.31 L157.82,391.24 L158.32,391.08 L158.82,391.01 L159.33,390.94 L159.83,390.81 L160.33,390.88 L160.83,390.81 L161.33,391.00 L161.83,391.00 L162.33,390.93 L162.83,390.63 L163.33,390.18 L163.84,389.58 L164.34,389.17 L164.84,388.77 L165.34,388.96 L165.84,389.36 L166.34,389.92 L166.84,390.39 L167.34,390.76 L167.85,390.91 L168.35,390.98 L168.85,390.97 L169.35,390.87 L169.85,390.61 L170.35,390.65 L170.85,390.72 L171.35,391.07 L171.86,390.92 L172.36,391.28 L172.86,391.42 L173.36,391.53 L173.86,391.51 L174.36,391.54 L174.86,391.53 L175.36,391.47 L175.86,391.49 L176.37,391.34 L176.87,391.29 L177.37,391.26 L177.87,391.12 L178.37,391.30 L178.87,391.16 L179.37,391.34 L179.87,391.42 L180.38,391.47 L180.88,391.54 L181.38,391.62 L181.88,391.63 L182.38,391.66 L182.88,391.71 L183.38,391.72 L183.88,391.78 L184.39,391.76 L184.89,391.73 L185.39,391.76 L185.89,391.75 L186.39,391.77 L186.89,391.79 L187.39,391.77 L187.89,391.78 L188.39,391.71 L188.90,391.50 L189.40,391.75 L189.90,391.77 L190.40,391.71 L190.90,391.76 L191.40,391.73 L191.90,391.67 L192.40,391.64 L192.91,391.61 L193.41,391.38 L193.91,391.59 L194.41,391.50 L194.91,391.25 L195.41,391.36 L195.91,391.24 L196.41,391.27 L196.91,391.18 L197.42,391.15 L197.92,391.11 L198.42,391.05 L198.92,390.74 L199.42,390.76 L199.92,390.91 L200.42,390.87 L200.92,390.96 L201.43,391.01 L201.93,391.07 L202.43,391.03 L202.93,390.92 L203.43,391.22 L203.93,391.20 L204.43,391.17 L204.93,391.30 L205.44,391.21 L205.94,390.97 L206.44,391.13 L206.94,390.84 L207.44,390.88 L207.94,390.76 L208.44,390.62 L208.94,390.52 L209.44,390.46 L209.95,390.42 L210.45,390.49 L210.95,390.52 L211.45,390.61 L211.95,390.71 L212.45,390.82 L212.95,390.93 L213.45,391.06 L213.96,391.13 L214.46,391.18 L214.96,391.14 L215.46,391.30 L215.96,391.25 L216.46,391.22 L216.96,390.98 L217.46,390.45 L217.97,390.09 L218.47,389.27 L218.97,388.69 L219.47,388.16 L219.97,387.96 L220.47,388.21 L220.97,388.50 L221.47,388.70 L221.97,388.63 L222.48,388.33 L222.98,387.93 L223.48,387.65 L223.98,387.50 L224.48,387.67 L224.98,387.85 L225.48,388.06 L225.98,388.15 L226.49,388.31 L226.99,388.33 L227.49,388.27 L227.99,388.08 L228.49,387.23 L228.99,385.91 L229.49,383.87 L229.99,381.40 L230.49,379.35 L231.00,378.75 L231.50,379.34 L232.00,380.79 L232.50,382.24 L233.00,383.71 L233.50,384.85 L234.00,386.03 L234.50,387.13 L235.01,387.72 L235.51,388.21 L236.01,388.11 L236.51,387.68 L237.01,387.21 L237.51,386.62 L238.01,386.37 L238.51,386.56 L239.02,386.56 L239.52,386.87 L240.02,387.06 L240.52,387.08 L241.02,386.92 L241.52,387.08 L242.02,387.28 L242.52,387.79 L243.02,388.29 L243.53,388.90 L244.03,389.23 L244.53,389.86 L245.03,390.11 L245.53,390.30 L246.03,390.81 L246.53,391.02 L247.03,391.25 L247.54,391.33 L248.04,391.44 L248.54,391.51 L249.04,391.58 L249.54,391.59 L250.04,391.55 L250.54,391.52 L251.04,391.27 L251.55,391.34 L252.05,391.40 L252.55,391.36 L253.05,391.19 L253.55,391.24 L254.05,391.09 L254.55,391.15 L255.05,391.13 L255.55,391.05 L256.06,391.02 L256.56,391.23 L257.06,391.08 L257.56,391.04 L258.06,391.33 L258.56,391.28 L259.06,391.28 L259.56,391.04 L260.07,390.99 L260.57,391.23 L261.07,391.14 L261.57,391.17 L262.07,391.03 L262.57,391.20 L263.07,391.23 L263.57,391.28 L264.07,391.30 L264.58,391.26 L265.08,391.30 L265.58,391.50 L266.08,391.64 L266.58,391.62 L267.08,391.65 L267.58,391.73 L268.08,391.76 L268.59,391.72 L269.09,391.78 L269.59,391.76 L270.09,391.70 L270.59,391.79 L271.09,391.68 L271.59,391.65 L272.09,391.74 L272.60,391.76 L273.10,391.76 L273.60,391.68 L274.10,391.77 L274.60,391.66 L274.60,391.90 Z" fill="#1b4f8a"/>
<text x="106.70" y="396.90" font-size="5.6" stroke="#111" stroke-width="0.05" textLength="13.50" lengthAdjust="spacingAndGlyphs">[0-15]</text>
<line x1="106.70" y1="403.70" x2="274.60" y2="403.70" stroke="#8eaed4" stroke-width="1.2" />
<path d="M106.70,404.10 L106.70,403.99 L107.20,403.94 L107.70,403.92 L108.20,403.93 L108.70,403.97 L109.21,403.96 L109.71,403.96 L110.21,403.92 L110.71,403.98 L111.21,403.81 L111.71,403.95 L112.21,403.99 L112.71,403.99 L113.22,403.98 L113.72,403.91 L114.22,403.91 L114.72,403.95 L115.22,403.79 L115.72,403.95 L116.22,403.94 L116.72,403.91 L117.23,403.97 L117.73,403.95 L118.23,403.80 L118.73,403.66 L119.23,403.77 L119.73,403.55 L120.23,403.52 L120.73,403.52 L121.23,403.40 L121.74,403.29 L122.24,403.07 L122.74,403.06 L123.24,403.13 L123.74,403.23 L124.24,403.27 L124.74,403.44 L125.24,403.48 L125.75,403.64 L126.25,403.49 L126.75,403.76 L127.25,403.85 L127.75,403.92 L128.25,403.97 L128.75,403.90 L129.25,403.97 L129.75,403.89 L130.26,403.99 L130.76,403.94 L131.26,403.73 L131.76,403.94 L132.26,403.61 L132.76,403.63 L133.26,403.30 L133.76,402.67 L134.27,401.89 L134.77,401.00 L135.27,400.22 L135.77,399.93 L136.27,400.15 L136.77,400.89 L137.27,401.74 L137.77,402.49 L138.28,403.08 L138.78,403.31 L139.28,403.35 L139.78,403.26 L140.28,403.16 L140.78,402.98 L141.28,403.05 L141.78,402.99 L142.28,403.16 L142.79,403.48 L143.29,403.67 L143.79,403.76 L144.29,403.90 L144.79,403.91 L145.29,403.84 L145.79,403.80 L146.29,403.32 L146.80,402.35 L147.30,400.33 L147.80,397.67 L148.30,395.42 L148.80,395.38 L149.30,396.90 L149.80,398.76 L150.30,400.47 L150.81,401.43 L151.31,402.08 L151.81,402.60 L152.31,402.86 L152.81,403.10 L153.31,403.53 L153.81,403.66 L154.31,403.75 L154.81,403.73 L155.32,403.68 L155.82,403.51 L156.32,403.43 L156.82,403.36 L157.32,403.30 L157.82,403.30 L158.32,403.26 L158.82,403.32 L159.33,403.34 L159.83,403.46 L160.33,403.54 L160.83,403.65 L161.33,403.68 L161.83,403.62 L162.33,403.31 L162.83,403.35 L163.33,402.92 L163.84,402.73 L164.34,402.48 L164.84,402.28 L165.34,402.37 L165.84,402.40 L166.34,402.86 L166.84,403.15 L167.34,403.40 L167.85,403.58 L168.35,403.61 L168.85,403.67 L169.35,403.61 L169.85,403.50 L170.35,403.26 L170.85,403.27 L171.35,403.19 L171.86,403.17 L172.36,403.20 L172.86,403.26 L173.36,403.34 L173.86,403.42 L174.36,403.56 L174.86,403.66 L175.36,403.76 L175.86,403.79 L176.37,403.89 L176.87,403.86 L177.37,403.97 L177.87,403.72 L178.37,403.98 L178.87,403.99 L179.37,403.98 L179.87,403.82 L180.38,403.93 L180.88,403.93 L181.38,403.99 L181.88,403.75 L182.38,403.82 L182.88,403.95 L183.38,403.97 L183.88,403.99 L184.39,403.94 L184.89,403.99 L185.39,403.99 L185.89,403.98 L186.39,403.99 L186.89,403.96 L187.39,403.99 L187.89,403.91 L188.39,403.92 L188.90,403.97 L189.40,403.91 L189.90,403.81 L190.40,403.86 L190.90,403.99 L191.40,403.92 L191.90,403.94 L192.40,403.90 L192.91,403.85 L193.41,403.88 L193.91,403.93 L194.41,403.90 L194.91,403.86 L195.41,403.89 L195.91,403.82 L196.41,403.74 L196.91,403.69 L197.42,403.44 L197.92,403.63 L198.42,403.51 L198.92,403.41 L199.42,403.39 L199.92,403.22 L200.42,403.09 L200.92,403.04 L201.43,402.93 L201.93,402.60 L202.43,402.67 L202.93,402.61 L203.43,402.45 L203.93,402.51 L204.43,402.42 L204.93,402.35 L205.44,402.28 L205.94,402.28 L206.44,402.19 L206.94,402.05 L207.44,402.10 L207.94,402.01 L208.44,402.04 L208.94,401.75 L209.44,401.82 L209.95,401.75 L210.45,401.72 L210.95,401.65 L211.45,401.50 L211.95,401.35 L212.45,401.47 L212.95,401.40 L213.45,401.39 L213.96,401.31 L214.46,401.30 L214.96,401.29 L215.46,401.24 L215.96,401.20 L216.46,401.18 L216.96,401.09 L217.46,400.99 L217.97,400.90 L218.47,400.91 L218.97,400.87 L219.47,400.75 L219.97,400.74 L220.47,400.71 L220.97,400.70 L221.47,400.68 L221.97,400.47 L222.48,400.28 L222.98,400.45 L223.48,400.35 L223.98,400.21 L224.48,400.14 L224.98,400.05 L225.48,399.87 L225.98,400.00 L226.49,399.98 L226.99,400.29 L227.49,400.11 L227.99,399.99 L228.49,399.80 L228.99,399.41 L229.49,398.92 L229.99,398.53 L230.49,398.24 L231.00,398.32 L231.50,398.61 L232.00,399.12 L232.50,399.57 L233.00,400.07 L233.50,400.52 L234.00,400.81 L234.50,400.93 L235.01,401.03 L235.51,401.22 L236.01,401.44 L236.51,401.58 L237.01,401.62 L237.51,402.14 L238.01,402.23 L238.51,401.93 L239.02,401.25 L239.52,399.93 L240.02,398.44 L240.52,397.42 L241.02,397.37 L241.52,398.31 L242.02,399.70 L242.52,400.99 L243.02,401.75 L243.53,402.11 L244.03,402.23 L244.53,402.21 L245.03,402.38 L245.53,402.53 L246.03,402.51 L246.53,402.86 L247.03,403.04 L247.54,403.50 L248.04,403.63 L248.54,403.70 L249.04,403.83 L249.54,403.89 L250.04,403.86 L250.54,403.92 L251.04,403.95 L251.55,403.74 L252.05,403.91 L252.55,403.95 L253.05,403.77 L253.55,403.96 L254.05,403.83 L254.55,403.97 L255.05,403.73 L255.55,403.93 L256.06,403.97 L256.56,403.75 L257.06,403.94 L257.56,403.98 L258.06,403.98 L258.56,403.99 L259.06,403.92 L259.56,403.72 L260.07,403.93 L260.57,403.93 L261.07,403.93 L261.57,403.91 L262.07,403.76 L262.57,403.77 L263.07,403.95 L263.57,403.91 L264.07,403.92 L264.58,403.90 L265.08,403.82 L265.58,403.77 L266.08,403.71 L266.58,403.57 L267.08,403.30 L267.58,403.24 L268.08,403.46 L268.59,403.46 L269.09,403.37 L269.59,403.61 L270.09,403.65 L270.59,403.75 L271.09,403.84 L271.59,403.90 L272.09,403.94 L272.60,403.87 L273.10,403.96 L273.60,403.91 L274.10,403.87 L274.60,403.98 L274.60,404.10 Z" fill="#1b4f8a"/>
<text x="106.70" y="409.70" font-size="5.6" stroke="#111" stroke-width="0.05" textLength="16.00" lengthAdjust="spacingAndGlyphs">[0-150]</text>
<line x1="106.70" y1="416.50" x2="274.60" y2="416.50" stroke="#8ed38e" stroke-width="1.2" />
<path d="M106.70,416.90 L106.70,416.51 L107.20,416.58 L107.70,416.50 L108.20,416.72 L108.70,416.72 L109.21,416.78 L109.71,416.59 L110.21,416.72 L110.71,416.72 L111.21,416.56 L111.71,416.72 L112.21,416.78 L112.71,416.67 L113.22,416.75 L113.72,416.75 L114.22,416.74 L114.72,416.72 L115.22,416.76 L115.72,416.79 L116.22,416.78 L116.72,416.74 L117.23,416.77 L117.73,416.53 L118.23,416.77 L118.73,416.76 L119.23,416.75 L119.73,416.65 L120.23,416.71 L120.73,416.78 L121.23,416.73 L121.74,416.72 L122.24,416.67 L122.74,416.72 L123.24,416.66 L123.74,416.76 L124.24,416.72 L124.74,416.58 L125.24,416.80 L125.75,416.52 L126.25,416.76 L126.75,416.51 L127.25,416.79 L127.75,416.75 L128.25,416.73 L128.75,416.59 L129.25,416.77 L129.75,416.77 L130.26,416.75 L130.76,416.71 L131.26,416.68 L131.76,416.59 L132.26,416.45 L132.76,416.31 L133.26,415.95 L133.76,415.38 L134.27,414.95 L134.77,414.33 L135.27,413.70 L135.77,413.26 L136.27,412.97 L136.77,413.02 L137.27,413.24 L137.77,413.80 L138.28,414.36 L138.78,414.76 L139.28,415.57 L139.78,415.95 L140.28,416.29 L140.78,416.51 L141.28,416.67 L141.78,416.72 L142.28,416.70 L142.79,416.73 L143.29,416.72 L143.79,416.76 L144.29,416.60 L144.79,416.66 L145.29,416.60 L145.79,416.39 L146.29,416.16 L146.80,415.89 L147.30,415.54 L147.80,415.28 L148.30,415.08 L148.80,414.94 L149.30,415.07 L149.80,415.29 L150.30,415.55 L150.81,415.90 L151.31,416.17 L151.81,416.21 L152.31,416.58 L152.81,416.63 L153.31,416.71 L153.81,416.74 L154.31,416.75 L154.81,416.76 L155.32,416.72 L155.82,416.78 L156.32,416.80 L156.82,416.53 L157.32,416.74 L157.82,416.74 L158.32,416.80 L158.82,416.76 L159.33,416.76 L159.83,416.76 L160.33,416.57 L160.83,416.71 L161.33,416.74 L161.83,416.71 L162.33,416.66 L162.83,416.59 L163.33,416.51 L163.84,416.39 L164.34,416.22 L164.84,416.12 L165.34,415.71 L165.84,415.78 L166.34,415.78 L166.84,415.54 L167.34,415.70 L167.85,416.02 L168.35,416.10 L168.85,416.28 L169.35,416.46 L169.85,416.53 L170.35,416.64 L170.85,416.70 L171.35,416.69 L171.86,416.76 L172.36,416.71 L172.86,416.60 L173.36,416.76 L173.86,416.60 L174.36,416.60 L174.86,416.74 L175.36,416.72 L175.86,416.78 L176.37,416.74 L176.87,416.73 L177.37,416.79 L177.87,416.74 L178.37,416.75 L178.87,416.73 L179.37,416.74 L179.87,416.56 L180.38,416.57 L180.88,416.77 L181.38,416.75 L181.88,416.75 L182.38,416.77 L182.88,416.72 L183.38,416.80 L183.88,416.72 L184.39,416.74 L184.89,416.79 L185.39,416.67 L185.89,416.61 L186.39,416.77 L186.89,416.73 L187.39,416.78 L187.89,416.55 L188.39,416.79 L188.90,416.71 L189.40,416.51 L189.90,416.65 L190.40,416.75 L190.90,416.76 L191.40,416.74 L191.90,416.68 L192.40,416.74 L192.91,416.71 L193.41,416.72 L193.91,416.65 L194.41,416.56 L194.91,416.72 L195.41,416.77 L195.91,416.73 L196.41,416.77 L196.91,416.79 L197.42,416.78 L197.92,416.73 L198.42,416.74 L198.92,416.77 L199.42,416.74 L199.92,416.73 L200.42,416.78 L200.92,416.52 L201.43,416.69 L201.93,416.79 L202.43,416.67 L202.93,416.76 L203.43,416.79 L203.93,416.74 L204.43,416.71 L204.93,416.69 L205.44,416.70 L205.94,416.72 L206.44,416.75 L206.94,416.75 L207.44,416.73 L207.94,416.74 L208.44,416.73 L208.94,416.74 L209.44,416.72 L209.95,416.67 L210.45,416.75 L210.95,416.70 L211.45,416.76 L211.95,416.70 L212.45,416.64 L212.95,416.67 L213.45,416.68 L213.96,416.69 L214.46,416.57 L214.96,416.50 L215.46,416.22 L215.96,415.96 L216.46,415.47 L216.96,414.90 L217.46,414.26 L217.97,413.66 L218.47,413.34 L218.97,413.17 L219.47,413.29 L219.97,413.47 L220.47,414.06 L220.97,414.44 L221.47,414.71 L221.97,414.86 L222.48,414.64 L222.98,414.84 L223.48,414.70 L223.98,414.47 L224.48,414.57 L224.98,414.49 L225.48,414.43 L225.98,414.32 L226.49,414.00 L226.99,414.00 L227.49,413.50 L227.99,412.89 L228.49,412.00 L228.99,411.04 L229.49,410.02 L229.99,409.67 L230.49,409.42 L231.00,410.04 L231.50,410.74 L232.00,411.44 L232.50,412.51 L233.00,413.11 L233.50,413.58 L234.00,413.71 L234.50,413.92 L235.01,413.98 L235.51,414.06 L236.01,414.05 L236.51,413.94 L237.01,413.66 L237.51,412.99 L238.01,412.43 L238.51,411.63 L239.02,410.99 L239.52,410.38 L240.02,410.73 L240.52,411.33 L241.02,412.20 L241.52,413.36 L242.02,414.41 L242.52,415.22 L243.02,415.84 L243.53,416.20 L244.03,416.48 L244.53,416.58 L245.03,416.57 L245.53,416.66 L246.03,416.68 L246.53,416.69 L247.03,416.67 L247.54,416.67 L248.04,416.72 L248.54,416.71 L249.04,416.57 L249.54,416.76 L250.04,416.65 L250.54,416.61 L251.04,416.75 L251.55,416.61 L252.05,416.73 L252.55,416.52 L253.05,416.76 L253.55,416.71 L254.05,416.72 L254.55,416.73 L255.05,416.74 L255.55,416.67 L256.06,416.72 L256.56,416.78 L257.06,416.73 L257.56,416.73 L258.06,416.74 L258.56,416.78 L259.06,416.79 L259.56,416.77 L260.07,416.72 L260.57,416.80 L261.07,416.73 L261.57,416.71 L262.07,416.79 L262.57,416.78 L263.07,416.56 L263.57,416.74 L264.07,416.79 L264.58,416.80 L265.08,416.55 L265.58,416.76 L266.08,416.72 L266.58,416.78 L267.08,416.73 L267.58,416.76 L268.08,416.56 L268.59,416.51 L269.09,416.54 L269.59,416.80 L270.09,416.73 L270.59,416.79 L271.09,416.72 L271.59,416.59 L272.09,416.67 L272.60,416.78 L273.10,416.72 L273.60,416.71 L274.10,416.79 L274.60,416.72 L274.60,416.90 Z" fill="#3db54a"/>
<text x="106.70" y="422.40" font-size="5.6" stroke="#111" stroke-width="0.05" textLength="16.00" lengthAdjust="spacingAndGlyphs">[0-150]</text>
<line x1="106.70" y1="429.20" x2="274.60" y2="429.20" stroke="#8ed38e" stroke-width="1.2" />
<path d="M106.70,429.60 L106.70,429.47 L107.20,429.46 L107.70,429.46 L108.20,429.48 L108.70,429.50 L109.21,429.40 L109.71,429.43 L110.21,429.43 L110.71,429.48 L111.21,429.43 L111.71,429.50 L112.21,429.31 L112.71,429.48 L113.22,429.48 L113.72,429.47 L114.22,429.44 L114.72,429.41 L115.22,429.41 L115.72,429.43 L116.22,429.43 L116.72,429.47 L117.23,429.49 L117.73,429.28 L118.23,429.42 L118.73,429.42 L119.23,429.43 L119.73,429.44 L120.23,429.49 L120.73,429.48 L121.23,429.47 L121.74,429.44 L122.24,429.47 L122.74,429.41 L123.24,429.44 L123.74,429.43 L124.24,429.47 L124.74,429.50 L125.24,429.22 L125.75,429.44 L126.25,429.27 L126.75,429.31 L127.25,429.45 L127.75,429.45 L128.25,429.47 L128.75,429.38 L129.25,429.46 L129.75,429.36 L130.26,429.49 L130.76,429.44 L131.26,429.33 L131.76,429.43 L132.26,429.32 L132.76,429.09 L133.26,428.66 L133.76,427.86 L134.27,426.85 L134.77,425.74 L135.27,424.62 L135.77,424.37 L136.27,424.71 L136.77,425.63 L137.27,426.70 L137.77,427.79 L138.28,428.57 L138.78,429.04 L139.28,429.33 L139.78,429.38 L140.28,429.45 L140.78,429.42 L141.28,429.49 L141.78,429.48 L142.28,429.46 L142.79,429.47 L143.29,429.41 L143.79,429.41 L144.29,429.17 L144.79,428.96 L145.29,428.85 L145.79,428.69 L146.29,428.43 L146.80,428.05 L147.30,427.80 L147.80,427.65 L148.30,427.68 L148.80,427.83 L149.30,428.17 L149.80,428.48 L150.30,428.76 L150.81,429.05 L151.31,429.18 L151.81,429.29 L152.31,429.16 L152.81,429.46 L153.31,429.26 L153.81,429.21 L154.31,429.48 L154.81,429.45 L155.32,429.48 L155.82,429.49 L156.32,429.43 L156.82,429.46 L157.32,429.49 L157.82,429.38 L158.32,429.38 L158.82,429.43 L159.33,429.49 L159.83,429.49 L160.33,429.46 L160.83,429.44 L161.33,429.41 L161.83,429.45 L162.33,429.37 L162.83,429.30 L163.33,429.17 L163.84,429.07 L164.34,428.82 L164.84,428.42 L165.34,428.23 L165.84,428.11 L166.34,428.25 L166.84,428.23 L167.34,428.17 L167.85,428.50 L168.35,428.72 L168.85,428.94 L169.35,429.08 L169.85,429.26 L170.35,429.34 L170.85,429.30 L171.35,429.40 L171.86,429.30 L172.36,429.46 L172.86,429.46 L173.36,429.49 L173.86,429.23 L174.36,429.47 L174.86,429.41 L175.36,429.49 L175.86,429.42 L176.37,429.41 L176.87,429.25 L177.37,429.41 L177.87,429.50 L178.37,429.49 L178.87,429.41 L179.37,429.42 L179.87,429.43 L180.38,429.43 L180.88,429.43 L181.38,429.40 L181.88,429.37 L182.38,429.27 L182.88,429.48 L183.38,429.49 L183.88,429.50 L184.39,429.49 L184.89,429.42 L185.39,429.46 L185.89,429.50 L186.39,429.48 L186.89,429.49 L187.39,429.46 L187.89,429.45 L188.39,429.43 L188.90,429.47 L189.40,429.21 L189.90,429.44 L190.40,429.42 L190.90,429.31 L191.40,429.48 L191.90,429.42 L192.40,429.47 L192.91,429.43 L193.41,429.47 L193.91,429.34 L194.41,429.50 L194.91,429.46 L195.41,429.45 L195.91,429.44 L196.41,429.49 L196.91,429.48 L197.42,429.41 L197.92,429.49 L198.42,429.47 L198.92,429.44 L199.42,429.48 L199.92,429.50 L200.42,429.42 L200.92,429.48 L201.43,429.37 L201.93,429.48 L202.43,429.44 L202.93,429.49 L203.43,429.23 L203.93,429.48 L204.43,429.47 L204.93,429.42 L205.44,429.47 L205.94,429.42 L206.44,429.34 L206.94,429.47 L207.44,429.46 L207.94,429.49 L208.44,429.42 L208.94,429.44 L209.44,429.20 L209.95,429.38 L210.45,429.45 L210.95,429.45 L211.45,429.45 L211.95,429.40 L212.45,429.41 L212.95,429.26 L213.45,429.42 L213.96,429.35 L214.46,429.28 L214.96,429.16 L215.46,429.01 L215.96,428.69 L216.46,428.35 L216.96,427.84 L217.46,427.41 L217.97,427.08 L218.47,426.91 L218.97,426.98 L219.47,426.96 L219.97,427.46 L220.47,427.60 L220.97,428.00 L221.47,428.15 L221.97,428.08 L222.48,428.16 L222.98,428.12 L223.48,428.02 L223.98,427.97 L224.48,427.85 L224.98,427.85 L225.48,427.68 L225.98,427.76 L226.49,427.65 L226.99,427.55 L227.49,427.40 L227.99,427.11 L228.49,426.52 L228.99,426.02 L229.49,425.60 L229.99,424.98 L230.49,424.92 L231.00,424.68 L231.50,425.15 L232.00,425.51 L232.50,425.91 L233.00,426.36 L233.50,426.77 L234.00,427.00 L234.50,427.17 L235.01,427.35 L235.51,427.37 L236.01,427.42 L236.51,427.28 L237.01,426.92 L237.51,426.68 L238.01,426.17 L238.51,425.57 L239.02,425.01 L239.52,424.72 L240.02,424.85 L240.52,425.31 L241.02,426.01 L241.52,426.63 L242.02,427.65 L242.52,428.29 L243.02,428.50 L243.53,429.03 L244.03,429.19 L244.53,429.33 L245.03,429.15 L245.53,429.36 L246.03,429.41 L246.53,429.41 L247.03,429.37 L247.54,429.38 L248.04,429.29 L248.54,429.39 L249.04,429.43 L249.54,429.36 L250.04,429.38 L250.54,429.48 L251.04,429.42 L251.55,429.43 L252.05,429.44 L252.55,429.44 L253.05,429.38 L253.55,429.40 L254.05,429.41 L254.55,429.41 L255.05,429.45 L255.55,429.47 L256.06,429.39 L256.56,429.43 L257.06,429.46 L257.56,429.47 L258.06,429.44 L258.56,429.47 L259.06,429.48 L259.56,429.45 L260.07,429.48 L260.57,429.40 L261.07,429.47 L261.57,429.27 L262.07,429.30 L262.57,429.43 L263.07,429.44 L263.57,429.47 L264.07,429.24 L264.58,429.48 L265.08,429.27 L265.58,429.45 L266.08,429.47 L266.58,429.33 L267.08,429.45 L267.58,429.38 L268.08,429.49 L268.59,429.45 L269.09,429.50 L269.59,429.30 L270.09,429.41 L270.59,429.50 L271.09,429.50 L271.59,429.49 L272.09,429.30 L272.60,429.45 L273.10,429.48 L273.60,429.27 L274.10,429.41 L274.60,429.32 L274.60,429.60 Z" fill="#3db54a"/>
<text x="106.70" y="434.70" font-size="5.6" stroke="#111" stroke-width="0.05" textLength="16.00" lengthAdjust="spacingAndGlyphs">[0-150]</text>
<line x1="106.70" y1="441.50" x2="274.60" y2="441.50" stroke="#ad8bc6" stroke-width="1.2" />
<path d="M106.70,441.90 L106.70,441.75 L107.20,441.51 L107.70,441.73 L108.20,441.60 L108.70,441.80 L109.21,441.58 L109.71,441.75 L110.21,441.72 L110.71,441.76 L111.21,441.79 L111.71,441.54 L112.21,441.74 L112.71,441.51 L113.22,441.75 L113.72,441.74 L114.22,441.79 L114.72,441.76 L115.22,441.79 L115.72,441.73 L116.22,441.80 L116.72,441.80 L117.23,441.77 L117.73,441.77 L118.23,441.54 L118.73,441.75 L119.23,441.75 L119.73,441.78 L120.23,441.78 L120.73,441.75 L121.23,441.79 L121.74,441.72 L122.24,441.77 L122.74,441.63 L123.24,441.80 L123.74,441.77 L124.24,441.78 L124.74,441.73 L125.24,441.79 L125.75,441.53 L126.25,441.75 L126.75,441.76 L127.25,441.71 L127.75,441.68 L128.25,441.72 L128.75,441.77 L129.25,441.72 L129.75,441.70 L130.26,441.48 L130.76,441.31 L131.26,441.25 L131.76,440.82 L132.26,440.25 L132.76,439.39 L133.26,438.64 L133.76,437.57 L134.27,435.48 L134.77,432.63 L135.27,430.18 L135.77,429.62 L136.27,430.75 L136.77,432.79 L137.27,434.25 L137.77,435.38 L138.28,436.55 L138.78,437.86 L139.28,439.05 L139.78,439.98 L140.28,440.39 L140.78,440.51 L141.28,440.28 L141.78,439.89 L142.28,439.71 L142.79,439.46 L143.29,439.26 L143.79,438.99 L144.29,438.69 L144.79,438.18 L145.29,437.70 L145.79,436.93 L146.29,435.86 L146.80,434.46 L147.30,432.90 L147.80,431.71 L148.30,431.88 L148.80,432.87 L149.30,434.12 L149.80,435.90 L150.30,437.36 L150.81,438.67 L151.31,439.70 L151.81,440.51 L152.31,441.06 L152.81,441.38 L153.31,441.66 L153.81,441.72 L154.31,441.53 L154.81,441.57 L155.32,441.76 L155.82,441.61 L156.32,441.59 L156.82,441.64 L157.32,441.52 L157.82,441.42 L158.32,441.23 L158.82,440.82 L159.33,440.87 L159.83,440.76 L160.33,440.78 L160.83,440.92 L161.33,441.10 L161.83,441.28 L162.33,441.40 L162.83,441.57 L163.33,441.67 L163.84,441.63 L164.34,441.63 L164.84,441.45 L165.34,441.20 L165.84,440.90 L166.34,440.64 L166.84,440.34 L167.34,440.21 L167.85,440.38 L168.35,440.64 L168.85,440.87 L169.35,441.07 L169.85,441.23 L170.35,441.16 L170.85,441.11 L171.35,440.98 L171.86,440.94 L172.36,440.78 L172.86,441.10 L173.36,441.18 L173.86,441.33 L174.36,441.52 L174.86,441.64 L175.36,441.72 L175.86,441.76 L176.37,441.74 L176.87,441.77 L177.37,441.72 L177.87,441.57 L178.37,441.78 L178.87,441.72 L179.37,441.78 L179.87,441.77 L180.38,441.78 L180.88,441.73 L181.38,441.76 L181.88,441.61 L182.38,441.72 L182.88,441.78 L183.38,441.76 L183.88,441.59 L184.39,441.71 L184.89,441.72 L185.39,441.76 L185.89,441.71 L186.39,441.51 L186.89,441.80 L187.39,441.74 L187.89,441.79 L188.39,441.67 L188.90,441.77 L189.40,441.78 L189.90,441.69 L190.40,441.75 L190.90,441.80 L191.40,441.75 L191.90,441.59 L192.40,441.74 L192.91,441.71 L193.41,441.79 L193.91,441.76 L194.41,441.73 L194.91,441.51 L195.41,441.56 L195.91,441.64 L196.41,441.76 L196.91,441.51 L197.42,441.68 L197.92,441.57 L198.42,441.76 L198.92,441.77 L199.42,441.73 L199.92,441.69 L200.42,441.65 L200.92,441.58 L201.43,441.49 L201.93,441.49 L202.43,441.40 L202.93,441.32 L203.43,441.26 L203.93,440.98 L204.43,441.00 L204.93,441.09 L205.44,441.11 L205.94,440.95 L206.44,441.10 L206.94,441.20 L207.44,441.05 L207.94,441.18 L208.44,441.17 L208.94,441.00 L209.44,440.99 L209.95,440.72 L210.45,440.83 L210.95,440.65 L211.45,440.65 L211.95,440.61 L212.45,440.65 L212.95,440.67 L213.45,440.78 L213.96,440.85 L214.46,440.86 L214.96,440.90 L215.46,440.90 L215.96,440.71 L216.46,440.37 L216.96,440.03 L217.46,439.28 L217.97,439.07 L218.47,438.79 L218.97,438.63 L219.47,438.77 L219.97,438.98 L220.47,439.28 L220.97,439.56 L221.47,439.76 L221.97,439.86 L222.48,439.80 L222.98,439.81 L223.48,439.71 L223.98,439.59 L224.48,439.69 L224.98,439.70 L225.48,439.81 L225.98,439.87 L226.49,440.05 L226.99,440.04 L227.49,440.22 L227.99,440.10 L228.49,439.80 L228.99,439.65 L229.49,439.19 L229.99,438.48 L230.49,437.76 L231.00,437.36 L231.50,437.05 L232.00,436.92 L232.50,437.22 L233.00,437.57 L233.50,438.06 L234.00,438.46 L234.50,438.74 L235.01,439.06 L235.51,439.31 L236.01,439.61 L236.51,439.68 L237.01,439.93 L237.51,439.79 L238.01,439.08 L238.51,437.79 L239.02,436.30 L239.52,435.21 L240.02,435.18 L240.52,436.09 L241.02,437.36 L241.52,438.80 L242.02,439.57 L242.52,439.97 L243.02,440.14 L243.53,440.15 L244.03,440.31 L244.53,440.80 L245.03,441.11 L245.53,441.30 L246.03,441.40 L246.53,441.55 L247.03,441.58 L247.54,441.66 L248.04,441.62 L248.54,441.65 L249.04,441.68 L249.54,441.66 L250.04,441.72 L250.54,441.74 L251.04,441.71 L251.55,441.71 L252.05,441.75 L252.55,441.53 L253.05,441.67 L253.55,441.72 L254.05,441.48 L254.55,441.61 L255.05,441.41 L255.55,441.34 L256.06,441.42 L256.56,441.29 L257.06,441.24 L257.56,441.12 L258.06,441.17 L258.56,441.16 L259.06,441.25 L259.56,441.35 L260.07,441.40 L260.57,441.49 L261.07,441.38 L261.57,441.66 L262.07,441.59 L262.57,441.75 L263.07,441.75 L263.57,441.73 L264.07,441.78 L264.58,441.72 L265.08,441.79 L265.58,441.69 L266.08,441.75 L266.58,441.63 L267.08,441.80 L267.58,441.77 L268.08,441.70 L268.59,441.47 L269.09,441.63 L269.59,441.54 L270.09,441.39 L270.59,441.29 L271.09,441.12 L271.59,440.97 L272.09,440.73 L272.60,441.04 L273.10,441.16 L273.60,441.20 L274.10,441.42 L274.60,441.59 L274.60,441.90 Z" fill="#5a2a78"/>
<text x="106.70" y="447.20" font-size="5.6" stroke="#111" stroke-width="0.05" textLength="16.00" lengthAdjust="spacingAndGlyphs">[0-150]</text>
<line x1="106.70" y1="454.00" x2="274.60" y2="454.00" stroke="#ad8bc6" stroke-width="1.2" />
<path d="M106.70,454.40 L106.70,454.28 L107.20,454.20 L107.70,454.26 L108.20,454.26 L108.70,454.21 L109.21,454.21 L109.71,454.16 L110.21,454.00 L110.71,453.78 L111.21,453.49 L111.71,453.32 L112.21,453.24 L112.71,453.45 L113.22,453.80 L113.72,454.03 L114.22,454.16 L114.72,454.22 L115.22,454.24 L115.72,454.29 L116.22,454.02 L116.72,454.24 L117.23,454.25 L117.73,454.24 L118.23,454.26 L118.73,454.29 L119.23,454.25 L119.73,454.27 L120.23,454.23 L120.73,454.27 L121.23,454.25 L121.74,454.24 L122.24,454.28 L122.74,454.24 L123.24,454.23 L123.74,454.25 L124.24,454.29 L124.74,454.22 L125.24,454.05 L125.75,454.18 L126.25,454.26 L126.75,454.29 L127.25,454.22 L127.75,454.29 L128.25,454.14 L128.75,454.12 L129.25,454.27 L129.75,454.20 L130.26,454.14 L130.76,453.93 L131.26,453.78 L131.76,453.45 L132.26,452.92 L132.76,452.24 L133.26,451.15 L133.76,450.39 L134.27,449.20 L134.77,448.04 L135.27,446.99 L135.77,446.23 L136.27,445.91 L136.77,446.03 L137.27,447.19 L137.77,448.44 L138.28,449.95 L138.78,451.14 L139.28,452.37 L139.78,453.06 L140.28,453.51 L140.78,453.64 L141.28,453.35 L141.78,453.42 L142.28,453.33 L142.79,453.12 L143.29,453.05 L143.79,452.94 L144.29,452.83 L144.79,452.28 L145.29,451.95 L145.79,451.16 L146.29,450.42 L146.80,449.57 L147.30,448.96 L147.80,448.62 L148.30,448.62 L148.80,449.06 L149.30,449.78 L149.80,450.70 L150.30,451.68 L150.81,452.22 L151.31,452.86 L151.81,453.59 L152.31,453.86 L152.81,454.02 L153.31,454.20 L153.81,454.25 L154.31,454.22 L154.81,454.29 L155.32,454.21 L155.82,454.22 L156.32,454.15 L156.82,454.22 L157.32,454.25 L157.82,454.25 L158.32,454.27 L158.82,454.27 L159.33,454.30 L159.83,454.22 L160.33,454.23 L160.83,454.21 L161.33,454.28 L161.83,454.22 L162.33,454.27 L162.83,454.17 L163.33,454.12 L163.84,454.06 L164.34,453.83 L164.84,453.65 L165.34,453.47 L165.84,453.30 L166.34,453.26 L166.84,453.21 L167.34,453.24 L167.85,453.53 L168.35,453.70 L168.85,453.70 L169.35,454.03 L169.85,454.13 L170.35,454.24 L170.85,454.15 L171.35,454.01 L171.86,454.23 L172.36,454.29 L172.86,454.28 L173.36,454.29 L173.86,454.23 L174.36,454.30 L174.86,454.23 L175.36,454.24 L175.86,454.25 L176.37,454.23 L176.87,454.28 L177.37,454.28 L177.87,454.26 L178.37,454.14 L178.87,454.26 L179.37,454.22 L179.87,454.23 L180.38,454.24 L180.88,454.27 L181.38,454.21 L181.88,454.22 L182.38,454.28 L182.88,454.24 L183.38,454.28 L183.88,454.21 L184.39,454.14 L184.89,454.10 L185.39,454.23 L185.89,454.23 L186.39,454.29 L186.89,454.24 L187.39,454.22 L187.89,454.04 L188.39,454.21 L188.90,454.23 L189.40,454.13 L189.90,454.23 L190.40,454.28 L190.90,454.25 L191.40,454.23 L191.90,454.24 L192.40,454.27 L192.91,454.12 L193.41,454.28 L193.91,454.09 L194.41,454.23 L194.91,454.02 L195.41,454.22 L195.91,454.22 L196.41,454.27 L196.91,454.28 L197.42,454.18 L197.92,454.26 L198.42,454.06 L198.92,454.05 L199.42,454.29 L199.92,454.21 L200.42,454.28 L200.92,454.09 L201.43,454.28 L201.93,454.24 L202.43,454.21 L202.93,454.20 L203.43,454.25 L203.93,454.20 L204.43,454.27 L204.93,454.26 L205.44,454.24 L205.94,454.08 L206.44,454.25 L206.94,454.17 L207.44,454.15 L207.94,453.99 L208.44,454.01 L208.94,453.94 L209.44,453.73 L209.95,453.47 L210.45,453.21 L210.95,452.97 L211.45,452.86 L211.95,452.96 L212.45,453.05 L212.95,453.31 L213.45,453.50 L213.96,453.65 L214.46,453.58 L214.96,453.43 L215.46,453.04 L215.96,452.36 L216.46,451.83 L216.96,451.03 L217.46,450.52 L217.97,450.22 L218.47,450.31 L218.97,450.74 L219.47,451.35 L219.97,451.60 L220.47,452.06 L220.97,452.42 L221.47,452.41 L221.97,452.37 L222.48,452.27 L222.98,452.23 L223.48,452.20 L223.98,452.33 L224.48,452.45 L224.98,452.63 L225.48,452.79 L225.98,452.83 L226.49,452.80 L226.99,452.54 L227.49,452.14 L227.99,451.44 L228.49,450.54 L228.99,449.57 L229.49,448.78 L229.99,448.17 L230.49,447.95 L231.00,448.21 L231.50,448.77 L232.00,449.41 L232.50,449.95 L233.00,450.42 L233.50,450.72 L234.00,451.06 L234.50,451.45 L235.01,451.70 L235.51,452.03 L236.01,452.31 L236.51,452.49 L237.01,452.36 L237.51,452.03 L238.01,451.39 L238.51,450.55 L239.02,449.82 L239.52,449.40 L240.02,449.42 L240.52,449.88 L241.02,450.72 L241.52,451.70 L242.02,452.50 L242.52,452.95 L243.02,453.62 L243.53,453.83 L244.03,453.97 L244.53,454.09 L245.03,454.08 L245.53,454.09 L246.03,454.19 L246.53,454.13 L247.03,454.14 L247.54,453.95 L248.04,454.12 L248.54,454.13 L249.04,454.14 L249.54,454.09 L250.04,453.95 L250.54,453.81 L251.04,453.67 L251.55,453.46 L252.05,453.32 L252.55,453.27 L253.05,453.27 L253.55,453.43 L254.05,453.50 L254.55,453.82 L255.05,453.98 L255.55,454.15 L256.06,454.00 L256.56,454.13 L257.06,454.21 L257.56,454.22 L258.06,454.26 L258.56,454.23 L259.06,454.24 L259.56,454.24 L260.07,454.05 L260.57,454.23 L261.07,454.27 L261.57,454.26 L262.07,454.23 L262.57,454.26 L263.07,454.28 L263.57,454.30 L264.07,454.22 L264.58,454.26 L265.08,454.12 L265.58,454.21 L266.08,454.28 L266.58,454.22 L267.08,454.26 L267.58,454.29 L268.08,454.28 L268.59,454.27 L269.09,454.28 L269.59,454.22 L270.09,454.20 L270.59,454.25 L271.09,454.26 L271.59,454.29 L272.09,454.24 L272.60,454.26 L273.10,454.28 L273.60,454.28 L274.10,454.29 L274.60,454.30 L274.60,454.40 Z" fill="#5a2a78"/>
<line x1="129.20" y1="460.10" x2="139.80" y2="460.10" stroke="#555" stroke-width="1.3" />
<line x1="142.30" y1="460.10" x2="155.80" y2="460.10" stroke="#555" stroke-width="1.3" />
<text x="120.80" y="468.90" font-size="8.2" stroke="#111" stroke-width="0.05" textLength="18.60" lengthAdjust="spacingAndGlyphs">Enh 1</text>
<text x="144.60" y="468.90" font-size="8.2" stroke="#111" stroke-width="0.05" textLength="19.20" lengthAdjust="spacingAndGlyphs">Enh 2</text>
<line x1="193.00" y1="461.30" x2="223.80" y2="461.30" stroke="#111" stroke-width="1.1" />
<rect x="193.8" y="459.6" width="6.8" height="3.4" rx="1.5" fill="#111"/>
<rect x="209.2" y="459.6" width="6.8" height="3.4" rx="1.5" fill="#111"/>
<path d="M223.6,461.3 L223.6,458.0 L218.2,458.0" fill="none" stroke="#111" stroke-width="0.8"/>
<path d="M216.6,458.0 L218.8,456.8 L218.8,459.2 Z" fill="#111"/>
<text x="196.70" y="471.30" font-size="7.6" stroke="#111" stroke-width="0.05" font-style="italic" textLength="26.30" lengthAdjust="spacingAndGlyphs">CEBPE</text>
<text x="328.00" y="255.70" font-size="11" stroke="#111" stroke-width="0.45" font-weight="bold">G</text>
<text x="389.20" y="261.30" font-size="9.4" stroke="#111" stroke-width="0.05" textLength="49.20" lengthAdjust="spacingAndGlyphs">ChIP-qPCR</text>
<line x1="352.60" y1="264.80" x2="352.60" y2="335.50" stroke="#111" stroke-width="1.0" />
<line x1="352.10" y1="335.00" x2="474.40" y2="335.00" stroke="#111" stroke-width="1.1" />
<line x1="349.80" y1="335.00" x2="352.60" y2="335.00" stroke="#111" stroke-width="1.0" />
<text x="346.70" y="337.75" font-size="7.6" stroke="#111" stroke-width="0.1" text-anchor="end">0</text>
<line x1="349.80" y1="311.97" x2="352.60" y2="311.97" stroke="#111" stroke-width="1.0" />
<text x="346.70" y="314.72" font-size="7.6" stroke="#111" stroke-width="0.1" text-anchor="end">5</text>
<line x1="349.80" y1="288.94" x2="352.60" y2="288.94" stroke="#111" stroke-width="1.0" />
<text x="346.70" y="291.69" font-size="7.6" stroke="#111" stroke-width="0.1" text-anchor="end">10</text>
<line x1="349.80" y1="265.91" x2="352.60" y2="265.91" stroke="#111" stroke-width="1.0" />
<text x="346.70" y="268.66" font-size="7.6" stroke="#111" stroke-width="0.1" text-anchor="end">15</text>
<text stroke="#111" stroke-width="0.2" transform="translate(335.20,298.20) rotate(-90)" x="0" y="0" font-size="8.0" text-anchor="middle" fill="#111" textLength="62.00" lengthAdjust="spacingAndGlyphs">Relative enrichment</text>
<rect x="357.00" y="265.30" width="3.40" height="2.30" fill="#d0173c" />
<text x="362.70" y="268.60" font-size="7.6" stroke="#111" stroke-width="0.05" textLength="12.10" lengthAdjust="spacingAndGlyphs">IgG</text>
<rect x="357.00" y="275.80" width="3.40" height="2.30" fill="#1b5289" />
<text x="362.70" y="279.30" font-size="7.6" stroke="#111" stroke-width="0.05" textLength="23.60" lengthAdjust="spacingAndGlyphs">MEF2D</text>
<rect x="361.00" y="330.85" width="6.20" height="4.15" fill="#d0173c" />
<line x1="364.10" y1="330.39" x2="364.10" y2="331.15" stroke="#111" stroke-width="0.9" />
<line x1="362.50" y1="330.39" x2="365.70" y2="330.39" stroke="#111" stroke-width="0.9" />
<rect x="369.10" y="320.26" width="6.20" height="14.74" fill="#1b5289" />
<line x1="372.20" y1="317.50" x2="372.20" y2="320.56" stroke="#111" stroke-width="0.9" />
<line x1="370.60" y1="317.50" x2="373.80" y2="317.50" stroke="#111" stroke-width="0.9" />
<rect x="390.80" y="330.39" width="6.20" height="4.61" fill="#d0173c" />
<line x1="393.90" y1="328.09" x2="393.90" y2="330.69" stroke="#111" stroke-width="0.9" />
<line x1="392.30" y1="328.09" x2="395.50" y2="328.09" stroke="#111" stroke-width="0.9" />
<rect x="398.80" y="294.47" width="6.20" height="40.53" fill="#1b5289" />
<line x1="401.90" y1="288.48" x2="401.90" y2="294.77" stroke="#111" stroke-width="0.9" />
<line x1="400.30" y1="288.48" x2="403.50" y2="288.48" stroke="#111" stroke-width="0.9" />
<rect x="423.00" y="329.93" width="6.20" height="5.07" fill="#d0173c" />
<line x1="426.10" y1="327.63" x2="426.10" y2="330.23" stroke="#111" stroke-width="0.9" />
<line x1="424.50" y1="327.63" x2="427.70" y2="327.63" stroke="#111" stroke-width="0.9" />
<rect x="431.20" y="333.16" width="6.20" height="1.84" fill="#1b5289" />
<line x1="434.30" y1="330.85" x2="434.30" y2="333.46" stroke="#111" stroke-width="0.9" />
<line x1="432.70" y1="330.85" x2="435.90" y2="330.85" stroke="#111" stroke-width="0.9" />
<rect x="452.70" y="330.39" width="6.20" height="4.61" fill="#d0173c" />
<line x1="455.80" y1="329.47" x2="455.80" y2="330.69" stroke="#111" stroke-width="0.9" />
<line x1="454.20" y1="329.47" x2="457.40" y2="329.47" stroke="#111" stroke-width="0.9" />
<rect x="461.00" y="330.39" width="6.20" height="4.61" fill="#1b5289" />
<line x1="464.10" y1="329.01" x2="464.10" y2="330.69" stroke="#111" stroke-width="0.9" />
<line x1="462.50" y1="329.01" x2="465.70" y2="329.01" stroke="#111" stroke-width="0.9" />
<text x="372.20" y="314.33" font-size="6.6" stroke="#111" stroke-width="0.12" text-anchor="middle" letter-spacing="0.25">***</text>
<text x="402.00" y="287.43" font-size="6.6" stroke="#111" stroke-width="0.12" text-anchor="middle" letter-spacing="0.25">***</text>
<line x1="364.20" y1="335.00" x2="364.20" y2="337.40" stroke="#111" stroke-width="0.9" />
<line x1="372.20" y1="335.00" x2="372.20" y2="337.40" stroke="#111" stroke-width="0.9" />
<line x1="393.90" y1="335.00" x2="393.90" y2="337.40" stroke="#111" stroke-width="0.9" />
<line x1="401.90" y1="335.00" x2="401.90" y2="337.40" stroke="#111" stroke-width="0.9" />
<line x1="425.80" y1="335.00" x2="425.80" y2="337.40" stroke="#111" stroke-width="0.9" />
<line x1="434.20" y1="335.00" x2="434.20" y2="337.40" stroke="#111" stroke-width="0.9" />
<line x1="455.70" y1="335.00" x2="455.70" y2="337.40" stroke="#111" stroke-width="0.9" />
<line x1="464.10" y1="335.00" x2="464.10" y2="337.40" stroke="#111" stroke-width="0.9" />
<text x="417.30" y="320.30" font-size="7.6" stroke="#111" stroke-width="0.05" textLength="56.20" lengthAdjust="spacingAndGlyphs">Negative regions</text>
<path d="M415.0,327.9 L415.0,323.6 L475.9,323.6 L475.9,327.9" fill="none" stroke="#111" stroke-width="1.0"/>
<text x="355.00" y="346.60" font-size="8.2" stroke="#111" stroke-width="0.05" font-style="italic" textLength="26.90" lengthAdjust="spacingAndGlyphs">CEBPE</text>
<text x="385.00" y="346.60" font-size="8.2" stroke="#111" stroke-width="0.05" font-style="italic" textLength="25.40" lengthAdjust="spacingAndGlyphs">CEBPE</text>
<text x="415.80" y="346.60" font-size="8.2" stroke="#111" stroke-width="0.05" font-style="italic" textLength="26.90" lengthAdjust="spacingAndGlyphs">HOXD3</text>
<text x="450.00" y="346.60" font-size="8.2" stroke="#111" stroke-width="0.05" font-style="italic" textLength="26.30" lengthAdjust="spacingAndGlyphs">GATA4</text>
<text x="358.00" y="355.30" font-size="8.2" stroke="#111" stroke-width="0.05" textLength="19.70" lengthAdjust="spacingAndGlyphs">Enh 1</text>
<text x="388.30" y="355.30" font-size="8.2" stroke="#111" stroke-width="0.05" textLength="19.20" lengthAdjust="spacingAndGlyphs">Enh 2</text>
<text x="413.50" y="355.10" font-size="8.2" stroke="#111" stroke-width="0.05" textLength="30.70" lengthAdjust="spacingAndGlyphs">promoter</text>
<text x="447.50" y="355.10" font-size="8.2" stroke="#111" stroke-width="0.05" textLength="30.80" lengthAdjust="spacingAndGlyphs">promoter</text>
<text x="328.00" y="375.10" font-size="11" stroke="#111" stroke-width="0.45" font-weight="bold">H</text>
<text x="383.50" y="374.50" font-size="9.2" stroke="#111" stroke-width="0.05" textLength="61.70" lengthAdjust="spacingAndGlyphs">H3K27ac ChIP</text>
<line x1="353.20" y1="394.60" x2="353.20" y2="451.90" stroke="#111" stroke-width="1.0" />
<line x1="352.70" y1="451.40" x2="474.60" y2="451.40" stroke="#111" stroke-width="1.1" />
<line x1="350.40" y1="451.40" x2="353.20" y2="451.40" stroke="#111" stroke-width="1.0" />
<text x="347.80" y="454.15" font-size="7.6" stroke="#111" stroke-width="0.1" text-anchor="end">0.0</text>
<line x1="350.40" y1="437.07" x2="353.20" y2="437.07" stroke="#111" stroke-width="1.0" />
<text x="347.80" y="439.82" font-size="7.6" stroke="#111" stroke-width="0.1" text-anchor="end">0.5</text>
<line x1="350.40" y1="422.74" x2="353.20" y2="422.74" stroke="#111" stroke-width="1.0" />
<text x="347.80" y="425.49" font-size="7.6" stroke="#111" stroke-width="0.1" text-anchor="end">1.0</text>
<line x1="350.40" y1="408.41" x2="353.20" y2="408.41" stroke="#111" stroke-width="1.0" />
<text x="347.80" y="411.16" font-size="7.6" stroke="#111" stroke-width="0.1" text-anchor="end">1.5</text>
<line x1="350.40" y1="394.08" x2="353.20" y2="394.08" stroke="#111" stroke-width="1.0" />
<text x="347.80" y="396.83" font-size="7.6" stroke="#111" stroke-width="0.1" text-anchor="end">2.0</text>
<text stroke="#111" stroke-width="0.2" transform="translate(333.20,422.20) rotate(-90)" x="0" y="0" font-size="8.8" text-anchor="middle" fill="#111" textLength="23.00" lengthAdjust="spacingAndGlyphs">% Input</text>
<rect x="358.00" y="383.00" width="7.80" height="5.50" fill="#d0173c" />
<text x="368.00" y="388.00" font-size="7.6" stroke="#111" stroke-width="0.05" textLength="20.30" lengthAdjust="spacingAndGlyphs"><tspan>sg</tspan><tspan font-style="italic" stroke-width="0.25">Luc</tspan></text>
<rect x="358.00" y="392.60" width="7.80" height="5.50" fill="#1b5289" />
<text x="368.00" y="397.60" font-size="7.6" stroke="#111" stroke-width="0.05" textLength="50.00" lengthAdjust="spacingAndGlyphs"><tspan>sg</tspan><tspan font-style="italic" stroke-width="0.25">MEF2D</tspan><tspan> e5.1</tspan></text>
<rect x="358.00" y="402.00" width="7.80" height="5.50" fill="#3dba4b" />
<text x="368.00" y="406.80" font-size="7.6" stroke="#111" stroke-width="0.05" textLength="50.00" lengthAdjust="spacingAndGlyphs"><tspan>sg</tspan><tspan font-style="italic" stroke-width="0.25">MEF2D</tspan><tspan> e2.1</tspan></text>
<rect x="359.40" y="450.54" width="6.60" height="0.86" fill="#d0173c" />
<line x1="362.70" y1="449.11" x2="362.70" y2="450.84" stroke="#111" stroke-width="0.9" />
<line x1="361.00" y1="449.11" x2="364.40" y2="449.11" stroke="#111" stroke-width="0.9" />
<rect x="370.40" y="450.83" width="6.60" height="0.57" fill="#1b5289" />
<line x1="373.70" y1="450.25" x2="373.70" y2="451.13" stroke="#111" stroke-width="0.9" />
<line x1="372.00" y1="450.25" x2="375.40" y2="450.25" stroke="#111" stroke-width="0.9" />
<rect x="381.50" y="451.11" width="6.60" height="0.29" fill="#3dba4b" />
<line x1="384.80" y1="450.54" x2="384.80" y2="451.41" stroke="#111" stroke-width="0.9" />
<line x1="383.10" y1="450.54" x2="386.50" y2="450.54" stroke="#111" stroke-width="0.9" />
<rect x="399.80" y="447.39" width="6.60" height="4.01" fill="#d0173c" />
<line x1="403.10" y1="445.09" x2="403.10" y2="447.69" stroke="#111" stroke-width="0.9" />
<line x1="401.40" y1="445.09" x2="404.80" y2="445.09" stroke="#111" stroke-width="0.9" />
<rect x="410.40" y="435.64" width="6.60" height="15.76" fill="#1b5289" />
<line x1="413.70" y1="433.34" x2="413.70" y2="435.94" stroke="#111" stroke-width="0.9" />
<line x1="412.00" y1="433.34" x2="415.40" y2="433.34" stroke="#111" stroke-width="0.9" />
<rect x="421.50" y="427.61" width="6.60" height="23.79" fill="#3dba4b" />
<line x1="424.80" y1="424.75" x2="424.80" y2="427.91" stroke="#111" stroke-width="0.9" />
<line x1="423.10" y1="424.75" x2="426.50" y2="424.75" stroke="#111" stroke-width="0.9" />
<rect x="440.00" y="442.23" width="6.60" height="9.17" fill="#d0173c" />
<line x1="443.30" y1="440.22" x2="443.30" y2="442.53" stroke="#111" stroke-width="0.9" />
<line x1="441.60" y1="440.22" x2="445.00" y2="440.22" stroke="#111" stroke-width="0.9" />
<rect x="451.00" y="403.82" width="6.60" height="47.58" fill="#1b5289" />
<line x1="454.30" y1="393.22" x2="454.30" y2="404.12" stroke="#111" stroke-width="0.9" />
<line x1="452.60" y1="393.22" x2="456.00" y2="393.22" stroke="#111" stroke-width="0.9" />
<rect x="462.00" y="401.53" width="6.60" height="49.87" fill="#3dba4b" />
<line x1="465.30" y1="394.65" x2="465.30" y2="401.83" stroke="#111" stroke-width="0.9" />
<line x1="463.60" y1="394.65" x2="467.00" y2="394.65" stroke="#111" stroke-width="0.9" />
<text x="413.60" y="431.53" font-size="6.6" stroke="#111" stroke-width="0.12" text-anchor="middle" letter-spacing="0.25">***</text>
<text x="425.00" y="422.13" font-size="6.6" stroke="#111" stroke-width="0.12" text-anchor="middle" letter-spacing="0.25">***</text>
<text x="454.40" y="392.23" font-size="6.6" stroke="#111" stroke-width="0.12" text-anchor="middle" letter-spacing="0.25">***</text>
<text x="465.40" y="392.23" font-size="6.6" stroke="#111" stroke-width="0.12" text-anchor="middle" letter-spacing="0.25">***</text>
<line x1="373.60" y1="451.40" x2="373.60" y2="453.80" stroke="#111" stroke-width="0.9" />
<line x1="413.80" y1="451.40" x2="413.80" y2="453.80" stroke="#111" stroke-width="0.9" />
<line x1="454.40" y1="451.40" x2="454.40" y2="453.80" stroke="#111" stroke-width="0.9" />
<text x="352.70" y="462.80" font-size="7.6" stroke="#111" stroke-width="0.05" textLength="41.90" lengthAdjust="spacingAndGlyphs">Gene desert</text>
<text x="350.80" y="473.00" font-size="7.6" stroke="#111" stroke-width="0.05" textLength="45.20" lengthAdjust="spacingAndGlyphs">(Neg. control)</text>
<text x="404.80" y="462.80" font-size="7.6" stroke="#111" stroke-width="0.05" textLength="16.40" lengthAdjust="spacingAndGlyphs">Enh1</text>
<text x="445.60" y="462.80" font-size="7.6" stroke="#111" stroke-width="0.05" textLength="17.30" lengthAdjust="spacingAndGlyphs">Enh2</text>
<line x1="405.80" y1="465.90" x2="467.30" y2="465.90" stroke="#111" stroke-width="1.0" />
<text x="407.30" y="473.60" font-size="7.6" stroke="#111" stroke-width="0.05" textLength="59.00" lengthAdjust="spacingAndGlyphs"><tspan font-style="italic">CEBPE</tspan><tspan> enhancer</tspan></text>
<text x="17.00" y="491.70" font-size="10.2" stroke="#111" stroke-width="0.45" font-weight="bold">I</text>
<text x="54.50" y="498.80" font-size="9.0" stroke="#111" stroke-width="0.05" textLength="46.80" lengthAdjust="spacingAndGlyphs">TCGA AML</text>
<g fill="#1d5591"><rect x="69.16" y="541.25" width="1.8" height="1.8"/><rect x="87.61" y="551.07" width="1.8" height="1.8"/><rect x="79.49" y="549.57" width="1.8" height="1.8"/><rect x="91.91" y="536.64" width="1.8" height="1.8"/><rect x="94.46" y="541.32" width="1.8" height="1.8"/><rect x="84.90" y="538.50" width="1.8" height="1.8"/><rect x="73.56" y="534.12" width="1.8" height="1.8"/><rect x="68.38" y="536.33" width="1.8" height="1.8"/><rect x="87.88" y="536.89" width="1.8" height="1.8"/><rect x="76.83" y="522.26" width="1.8" height="1.8"/><rect x="81.51" y="539.79" width="1.8" height="1.8"/><rect x="82.52" y="539.56" width="1.8" height="1.8"/><rect x="77.08" y="537.67" width="1.8" height="1.8"/><rect x="101.14" y="539.18" width="1.8" height="1.8"/><rect x="82.68" y="532.35" width="1.8" height="1.8"/><rect x="101.05" y="540.65" width="1.8" height="1.8"/><rect x="74.70" y="520.21" width="1.8" height="1.8"/><rect x="66.36" y="536.09" width="1.8" height="1.8"/><rect x="87.58" y="523.38" width="1.8" height="1.8"/><rect x="71.44" y="549.35" width="1.8" height="1.8"/><rect x="87.53" y="540.34" width="1.8" height="1.8"/><rect x="77.06" y="532.75" width="1.8" height="1.8"/><rect x="83.16" y="534.74" width="1.8" height="1.8"/><rect x="76.62" y="527.68" width="1.8" height="1.8"/><rect x="95.95" y="538.31" width="1.8" height="1.8"/><rect x="76.41" y="531.01" width="1.8" height="1.8"/><rect x="85.69" y="543.19" width="1.8" height="1.8"/><rect x="76.33" y="529.08" width="1.8" height="1.8"/><rect x="79.96" y="537.99" width="1.8" height="1.8"/><rect x="83.05" y="536.68" width="1.8" height="1.8"/><rect x="80.90" y="547.82" width="1.8" height="1.8"/><rect x="98.38" y="537.68" width="1.8" height="1.8"/><rect x="72.18" y="528.86" width="1.8" height="1.8"/><rect x="84.01" y="536.53" width="1.8" height="1.8"/><rect x="91.38" y="524.11" width="1.8" height="1.8"/><rect x="86.45" y="527.43" width="1.8" height="1.8"/><rect x="102.46" y="545.69" width="1.8" height="1.8"/><rect x="75.70" y="530.64" width="1.8" height="1.8"/><rect x="63.88" y="535.10" width="1.8" height="1.8"/><rect x="93.83" y="531.86" width="1.8" height="1.8"/><rect x="86.71" y="548.52" width="1.8" height="1.8"/><rect x="104.39" y="536.49" width="1.8" height="1.8"/><rect x="88.58" y="534.35" width="1.8" height="1.8"/><rect x="63.80" y="542.15" width="1.8" height="1.8"/><rect x="68.78" y="522.65" width="1.8" height="1.8"/><rect x="72.63" y="536.32" width="1.8" height="1.8"/><rect x="78.38" y="532.30" width="1.8" height="1.8"/><rect x="85.92" y="535.31" width="1.8" height="1.8"/><rect x="68.33" y="553.17" width="1.8" height="1.8"/><rect x="82.59" y="534.79" width="1.8" height="1.8"/><rect x="93.21" y="538.70" width="1.8" height="1.8"/><rect x="74.83" y="532.71" width="1.8" height="1.8"/><rect x="65.41" y="540.02" width="1.8" height="1.8"/><rect x="70.88" y="532.84" width="1.8" height="1.8"/><rect x="101.80" y="534.80" width="1.8" height="1.8"/><rect x="92.32" y="536.49" width="1.8" height="1.8"/><rect x="83.71" y="539.30" width="1.8" height="1.8"/><rect x="78.12" y="550.41" width="1.8" height="1.8"/><rect x="68.92" y="542.06" width="1.8" height="1.8"/><rect x="89.28" y="533.45" width="1.8" height="1.8"/><rect x="92.32" y="528.52" width="1.8" height="1.8"/><rect x="77.88" y="529.29" width="1.8" height="1.8"/><rect x="100.44" y="539.26" width="1.8" height="1.8"/><rect x="91.77" y="538.85" width="1.8" height="1.8"/><rect x="64.83" y="532.90" width="1.8" height="1.8"/><rect x="72.72" y="534.21" width="1.8" height="1.8"/><rect x="76.30" y="533.49" width="1.8" height="1.8"/><rect x="59.59" y="520.20" width="1.8" height="1.8"/><rect x="94.50" y="540.40" width="1.8" height="1.8"/><rect x="71.85" y="534.71" width="1.8" height="1.8"/><rect x="87.67" y="534.64" width="1.8" height="1.8"/><rect x="84.93" y="548.69" width="1.8" height="1.8"/><rect x="69.64" y="526.26" width="1.8" height="1.8"/><rect x="83.32" y="545.73" width="1.8" height="1.8"/><rect x="72.26" y="543.55" width="1.8" height="1.8"/><rect x="70.73" y="527.41" width="1.8" height="1.8"/><rect x="78.71" y="528.96" width="1.8" height="1.8"/><rect x="82.82" y="545.64" width="1.8" height="1.8"/><rect x="74.37" y="521.08" width="1.8" height="1.8"/><rect x="73.17" y="541.38" width="1.8" height="1.8"/><rect x="93.45" y="537.56" width="1.8" height="1.8"/><rect x="80.86" y="527.11" width="1.8" height="1.8"/><rect x="63.04" y="530.78" width="1.8" height="1.8"/><rect x="70.21" y="543.12" width="1.8" height="1.8"/><rect x="72.65" y="527.75" width="1.8" height="1.8"/><rect x="79.49" y="547.25" width="1.8" height="1.8"/><rect x="69.63" y="524.97" width="1.8" height="1.8"/><rect x="91.35" y="544.52" width="1.8" height="1.8"/><rect x="105.64" y="542.28" width="1.8" height="1.8"/><rect x="68.75" y="535.09" width="1.8" height="1.8"/><rect x="90.48" y="527.69" width="1.8" height="1.8"/><rect x="91.42" y="540.43" width="1.8" height="1.8"/><rect x="75.20" y="544.26" width="1.8" height="1.8"/><rect x="80.17" y="539.72" width="1.8" height="1.8"/><rect x="83.42" y="544.37" width="1.8" height="1.8"/><rect x="75.65" y="540.78" width="1.8" height="1.8"/><rect x="68.64" y="541.55" width="1.8" height="1.8"/><rect x="70.53" y="541.84" width="1.8" height="1.8"/><rect x="86.73" y="536.44" width="1.8" height="1.8"/><rect x="67.44" y="530.87" width="1.8" height="1.8"/><rect x="83.86" y="527.58" width="1.8" height="1.8"/><rect x="78.94" y="537.14" width="1.8" height="1.8"/><rect x="73.89" y="534.28" width="1.8" height="1.8"/><rect x="85.96" y="535.86" width="1.8" height="1.8"/><rect x="78.33" y="532.25" width="1.8" height="1.8"/><rect x="81.86" y="534.77" width="1.8" height="1.8"/><rect x="71.39" y="533.38" width="1.8" height="1.8"/><rect x="70.75" y="539.78" width="1.8" height="1.8"/><rect x="82.57" y="523.37" width="1.8" height="1.8"/><rect x="91.10" y="537.72" width="1.8" height="1.8"/><rect x="79.10" y="529.75" width="1.8" height="1.8"/><rect x="95.05" y="530.81" width="1.8" height="1.8"/><rect x="79.03" y="534.69" width="1.8" height="1.8"/><rect x="77.56" y="537.39" width="1.8" height="1.8"/><rect x="72.20" y="536.33" width="1.8" height="1.8"/><rect x="58.95" y="540.13" width="1.8" height="1.8"/><rect x="85.27" y="542.56" width="1.8" height="1.8"/><rect x="86.44" y="545.02" width="1.8" height="1.8"/><rect x="77.16" y="533.11" width="1.8" height="1.8"/><rect x="70.33" y="538.91" width="1.8" height="1.8"/><rect x="106.17" y="544.32" width="1.8" height="1.8"/><rect x="73.72" y="538.57" width="1.8" height="1.8"/><rect x="81.27" y="536.37" width="1.8" height="1.8"/><rect x="90.97" y="532.82" width="1.8" height="1.8"/><rect x="76.81" y="537.71" width="1.8" height="1.8"/><rect x="66.48" y="543.15" width="1.8" height="1.8"/><rect x="73.38" y="530.45" width="1.8" height="1.8"/><rect x="82.15" y="531.38" width="1.8" height="1.8"/><rect x="90.53" y="538.67" width="1.8" height="1.8"/><rect x="102.37" y="542.74" width="1.8" height="1.8"/><rect x="74.54" y="537.81" width="1.8" height="1.8"/><rect x="92.53" y="538.81" width="1.8" height="1.8"/><rect x="73.38" y="532.28" width="1.8" height="1.8"/><rect x="92.48" y="538.65" width="1.8" height="1.8"/><rect x="78.35" y="529.04" width="1.8" height="1.8"/><rect x="90.96" y="531.87" width="1.8" height="1.8"/><rect x="73.13" y="533.18" width="1.8" height="1.8"/><rect x="84.62" y="547.83" width="1.8" height="1.8"/><rect x="93.19" y="537.45" width="1.8" height="1.8"/><rect x="77.45" y="521.61" width="1.8" height="1.8"/><rect x="82.42" y="540.83" width="1.8" height="1.8"/><rect x="80.28" y="532.56" width="1.8" height="1.8"/><rect x="89.22" y="537.80" width="1.8" height="1.8"/><rect x="72.11" y="539.08" width="1.8" height="1.8"/><rect x="72.59" y="541.35" width="1.8" height="1.8"/><rect x="80.72" y="539.15" width="1.8" height="1.8"/><rect x="81.48" y="541.34" width="1.8" height="1.8"/><rect x="72.09" y="535.91" width="1.8" height="1.8"/><rect x="77.37" y="528.48" width="1.8" height="1.8"/><rect x="71.71" y="533.44" width="1.8" height="1.8"/><rect x="79.45" y="551.74" width="1.8" height="1.8"/><rect x="88.40" y="536.21" width="1.8" height="1.8"/><rect x="55.49" y="531.67" width="1.8" height="1.8"/><rect x="90.85" y="546.35" width="1.8" height="1.8"/><rect x="99.65" y="536.36" width="1.8" height="1.8"/><rect x="66.50" y="532.08" width="1.8" height="1.8"/><rect x="75.74" y="552.04" width="1.8" height="1.8"/><rect x="54.96" y="535.41" width="1.8" height="1.8"/><rect x="71.37" y="531.22" width="1.8" height="1.8"/><rect x="84.43" y="543.45" width="1.8" height="1.8"/><rect x="73.75" y="519.43" width="1.8" height="1.8"/><rect x="99.78" y="530.09" width="1.8" height="1.8"/><rect x="75.78" y="548.29" width="1.8" height="1.8"/><rect x="75.43" y="520.53" width="1.8" height="1.8"/><rect x="85.29" y="541.03" width="1.8" height="1.8"/><rect x="65.66" y="536.23" width="1.8" height="1.8"/><rect x="69.71" y="537.85" width="1.8" height="1.8"/><rect x="88.56" y="526.76" width="1.8" height="1.8"/><rect x="81.55" y="541.57" width="1.8" height="1.8"/><rect x="82.57" y="519.09" width="1.8" height="1.8"/></g>
<line x1="39.30" y1="529.40" x2="117.20" y2="543.70" stroke="#dc1e3a" stroke-width="1.7" stroke-dasharray="1.6,1.0"/>
<line x1="35.20" y1="514.50" x2="35.20" y2="574.30" stroke="#111" stroke-width="1.1" />
<line x1="34.70" y1="573.80" x2="121.25" y2="573.80" stroke="#111" stroke-width="1.1" />
<line x1="32.30" y1="515.00" x2="35.20" y2="515.00" stroke="#111" stroke-width="1.0" />
<text x="28.50" y="517.70" font-size="7.6" stroke="#111" stroke-width="0.05" text-anchor="end">8</text>
<line x1="32.30" y1="529.70" x2="35.20" y2="529.70" stroke="#111" stroke-width="1.0" />
<text x="28.50" y="532.40" font-size="7.6" stroke="#111" stroke-width="0.05" text-anchor="end">4</text>
<line x1="32.30" y1="544.40" x2="35.20" y2="544.40" stroke="#111" stroke-width="1.0" />
<text x="28.50" y="547.10" font-size="7.6" stroke="#111" stroke-width="0.05" text-anchor="end">0</text>
<line x1="32.30" y1="559.10" x2="35.20" y2="559.10" stroke="#111" stroke-width="1.0" />
<text x="28.50" y="561.80" font-size="7.6" stroke="#111" stroke-width="0.05" text-anchor="end">−4</text>
<line x1="32.30" y1="573.80" x2="35.20" y2="573.80" stroke="#111" stroke-width="1.0" />
<text x="28.50" y="576.50" font-size="7.6" stroke="#111" stroke-width="0.05" text-anchor="end">−8</text>
<line x1="35.20" y1="573.80" x2="35.20" y2="576.70" stroke="#111" stroke-width="1.0" />
<text x="35.20" y="584.40" font-size="7.6" stroke="#111" stroke-width="0.05" text-anchor="middle">2</text>
<line x1="63.72" y1="573.80" x2="63.72" y2="576.70" stroke="#111" stroke-width="1.0" />
<text x="63.72" y="584.40" font-size="7.6" stroke="#111" stroke-width="0.05" text-anchor="middle">4</text>
<line x1="92.23" y1="573.80" x2="92.23" y2="576.70" stroke="#111" stroke-width="1.0" />
<text x="92.23" y="584.40" font-size="7.6" stroke="#111" stroke-width="0.05" text-anchor="middle">6</text>
<line x1="120.75" y1="573.80" x2="120.75" y2="576.70" stroke="#111" stroke-width="1.0" />
<text x="120.75" y="584.40" font-size="7.6" stroke="#111" stroke-width="0.05" text-anchor="middle">8</text>
<text x="49.20" y="596.00" font-size="8.7" stroke="#111" stroke-width="0.3" textLength="57.80" lengthAdjust="spacingAndGlyphs"><tspan>MEF2D (log</tspan><tspan font-size="4.6" dy="1.8">2</tspan><tspan dy="-1.8"> RPKM)</tspan></text>
<text stroke="#111" stroke-width="0.3" transform="translate(16.30,544.40) rotate(-90)" font-size="8.7" text-anchor="middle" textLength="56" lengthAdjust="spacingAndGlyphs">CEBPE (log<tspan font-size="4.6" dy="1.8">2</tspan><tspan dy="-1.8"> RPKM)</tspan></text>
<text x="38.00" y="563.30" font-size="7.7" stroke="#111" stroke-width="0.05" textLength="37.00" lengthAdjust="spacing"><tspan font-style="italic">R</tspan><tspan> = −0.25</tspan></text>
<text x="38.00" y="570.20" font-size="7.7" stroke="#111" stroke-width="0.05" textLength="44.50" lengthAdjust="spacing"><tspan font-style="italic">P</tspan><tspan> = 1.2 ×10</tspan><tspan font-size="4.4" dy="-2.9" fill="#555">−3</tspan></text>
<text x="144.60" y="491.70" font-size="10.2" stroke="#111" stroke-width="0.45" font-weight="bold">J</text>
<text x="187.00" y="498.80" font-size="9.0" stroke="#111" stroke-width="0.05" textLength="37.50" lengthAdjust="spacingAndGlyphs">BeatAML</text>
<text x="162.00" y="508.10" font-size="9.0" stroke="#111" stroke-width="0.05" textLength="87.50" lengthAdjust="spacingAndGlyphs">Bone marrow aspirate</text>
<g fill="#1d5591"><rect x="199.62" y="528.14" width="1.8" height="1.8"/><rect x="200.02" y="533.10" width="1.8" height="1.8"/><rect x="190.59" y="530.35" width="1.8" height="1.8"/><rect x="217.95" y="532.82" width="1.8" height="1.8"/><rect x="216.94" y="533.63" width="1.8" height="1.8"/><rect x="208.34" y="532.04" width="1.8" height="1.8"/><rect x="180.72" y="521.81" width="1.8" height="1.8"/><rect x="209.84" y="530.54" width="1.8" height="1.8"/><rect x="180.39" y="537.04" width="1.8" height="1.8"/><rect x="191.13" y="531.97" width="1.8" height="1.8"/><rect x="207.14" y="533.13" width="1.8" height="1.8"/><rect x="210.03" y="537.30" width="1.8" height="1.8"/><rect x="207.19" y="530.55" width="1.8" height="1.8"/><rect x="194.19" y="519.80" width="1.8" height="1.8"/><rect x="210.51" y="526.58" width="1.8" height="1.8"/><rect x="194.74" y="534.39" width="1.8" height="1.8"/><rect x="198.44" y="531.51" width="1.8" height="1.8"/><rect x="211.52" y="532.40" width="1.8" height="1.8"/><rect x="197.06" y="536.20" width="1.8" height="1.8"/><rect x="196.07" y="523.15" width="1.8" height="1.8"/><rect x="192.22" y="528.03" width="1.8" height="1.8"/><rect x="208.77" y="542.00" width="1.8" height="1.8"/><rect x="203.70" y="524.39" width="1.8" height="1.8"/><rect x="176.06" y="527.68" width="1.8" height="1.8"/><rect x="201.63" y="536.42" width="1.8" height="1.8"/><rect x="209.72" y="533.81" width="1.8" height="1.8"/><rect x="183.42" y="522.59" width="1.8" height="1.8"/><rect x="212.02" y="528.40" width="1.8" height="1.8"/><rect x="222.35" y="534.19" width="1.8" height="1.8"/><rect x="204.65" y="539.94" width="1.8" height="1.8"/><rect x="211.30" y="537.41" width="1.8" height="1.8"/><rect x="196.98" y="538.00" width="1.8" height="1.8"/><rect x="190.08" y="532.11" width="1.8" height="1.8"/><rect x="220.32" y="547.82" width="1.8" height="1.8"/><rect x="183.52" y="526.08" width="1.8" height="1.8"/><rect x="222.39" y="532.93" width="1.8" height="1.8"/><rect x="177.59" y="540.96" width="1.8" height="1.8"/><rect x="207.84" y="537.35" width="1.8" height="1.8"/><rect x="188.04" y="522.76" width="1.8" height="1.8"/><rect x="217.81" y="534.36" width="1.8" height="1.8"/><rect x="206.34" y="530.12" width="1.8" height="1.8"/><rect x="224.41" y="533.15" width="1.8" height="1.8"/><rect x="210.00" y="530.29" width="1.8" height="1.8"/><rect x="182.03" y="519.60" width="1.8" height="1.8"/><rect x="215.85" y="531.73" width="1.8" height="1.8"/><rect x="176.60" y="529.64" width="1.8" height="1.8"/><rect x="214.34" y="545.16" width="1.8" height="1.8"/><rect x="200.58" y="525.37" width="1.8" height="1.8"/><rect x="185.48" y="518.45" width="1.8" height="1.8"/><rect x="210.45" y="534.50" width="1.8" height="1.8"/><rect x="207.40" y="529.10" width="1.8" height="1.8"/><rect x="204.66" y="525.55" width="1.8" height="1.8"/><rect x="194.19" y="532.35" width="1.8" height="1.8"/><rect x="217.01" y="534.95" width="1.8" height="1.8"/><rect x="191.25" y="523.67" width="1.8" height="1.8"/><rect x="222.69" y="539.02" width="1.8" height="1.8"/><rect x="184.56" y="528.51" width="1.8" height="1.8"/><rect x="201.05" y="533.23" width="1.8" height="1.8"/><rect x="221.87" y="542.26" width="1.8" height="1.8"/><rect x="219.94" y="543.24" width="1.8" height="1.8"/><rect x="192.50" y="525.81" width="1.8" height="1.8"/><rect x="218.17" y="530.32" width="1.8" height="1.8"/><rect x="207.68" y="532.14" width="1.8" height="1.8"/><rect x="205.09" y="529.01" width="1.8" height="1.8"/><rect x="200.69" y="529.76" width="1.8" height="1.8"/><rect x="210.72" y="533.67" width="1.8" height="1.8"/><rect x="213.29" y="530.93" width="1.8" height="1.8"/><rect x="229.99" y="536.15" width="1.8" height="1.8"/><rect x="197.32" y="532.82" width="1.8" height="1.8"/><rect x="202.87" y="526.45" width="1.8" height="1.8"/><rect x="198.54" y="528.63" width="1.8" height="1.8"/><rect x="227.67" y="552.63" width="1.8" height="1.8"/><rect x="187.99" y="527.07" width="1.8" height="1.8"/><rect x="208.39" y="531.74" width="1.8" height="1.8"/><rect x="197.27" y="526.76" width="1.8" height="1.8"/><rect x="206.83" y="535.86" width="1.8" height="1.8"/><rect x="235.61" y="537.25" width="1.8" height="1.8"/><rect x="195.62" y="530.83" width="1.8" height="1.8"/><rect x="200.03" y="531.61" width="1.8" height="1.8"/><rect x="166.49" y="526.48" width="1.8" height="1.8"/><rect x="216.56" y="541.89" width="1.8" height="1.8"/><rect x="202.16" y="526.11" width="1.8" height="1.8"/><rect x="214.52" y="525.76" width="1.8" height="1.8"/><rect x="180.25" y="528.82" width="1.8" height="1.8"/><rect x="198.48" y="527.22" width="1.8" height="1.8"/><rect x="217.68" y="551.05" width="1.8" height="1.8"/><rect x="217.64" y="543.77" width="1.8" height="1.8"/><rect x="212.20" y="542.80" width="1.8" height="1.8"/><rect x="205.41" y="525.43" width="1.8" height="1.8"/><rect x="201.05" y="530.35" width="1.8" height="1.8"/><rect x="213.73" y="533.53" width="1.8" height="1.8"/><rect x="201.86" y="522.63" width="1.8" height="1.8"/><rect x="217.10" y="536.86" width="1.8" height="1.8"/><rect x="239.84" y="547.05" width="1.8" height="1.8"/><rect x="215.31" y="536.28" width="1.8" height="1.8"/><rect x="204.82" y="528.18" width="1.8" height="1.8"/><rect x="206.03" y="528.85" width="1.8" height="1.8"/><rect x="182.58" y="536.16" width="1.8" height="1.8"/><rect x="211.29" y="539.48" width="1.8" height="1.8"/><rect x="189.29" y="537.45" width="1.8" height="1.8"/><rect x="220.02" y="531.40" width="1.8" height="1.8"/><rect x="222.79" y="541.94" width="1.8" height="1.8"/><rect x="203.06" y="538.65" width="1.8" height="1.8"/><rect x="213.31" y="524.91" width="1.8" height="1.8"/><rect x="191.12" y="520.03" width="1.8" height="1.8"/><rect x="216.29" y="535.99" width="1.8" height="1.8"/><rect x="176.63" y="517.64" width="1.8" height="1.8"/><rect x="201.76" y="535.19" width="1.8" height="1.8"/><rect x="208.40" y="530.74" width="1.8" height="1.8"/><rect x="223.12" y="542.50" width="1.8" height="1.8"/><rect x="218.28" y="526.64" width="1.8" height="1.8"/><rect x="222.51" y="537.42" width="1.8" height="1.8"/><rect x="193.08" y="523.66" width="1.8" height="1.8"/><rect x="204.59" y="531.55" width="1.8" height="1.8"/><rect x="222.13" y="537.82" width="1.8" height="1.8"/><rect x="172.27" y="527.20" width="1.8" height="1.8"/><rect x="178.21" y="521.46" width="1.8" height="1.8"/><rect x="207.30" y="536.50" width="1.8" height="1.8"/><rect x="202.92" y="527.00" width="1.8" height="1.8"/><rect x="204.11" y="524.36" width="1.8" height="1.8"/><rect x="202.23" y="525.62" width="1.8" height="1.8"/><rect x="223.04" y="527.00" width="1.8" height="1.8"/><rect x="194.05" y="524.70" width="1.8" height="1.8"/><rect x="177.91" y="532.59" width="1.8" height="1.8"/><rect x="176.75" y="519.65" width="1.8" height="1.8"/><rect x="186.54" y="528.25" width="1.8" height="1.8"/><rect x="200.47" y="531.51" width="1.8" height="1.8"/><rect x="195.12" y="528.75" width="1.8" height="1.8"/><rect x="227.05" y="537.13" width="1.8" height="1.8"/><rect x="210.17" y="527.66" width="1.8" height="1.8"/><rect x="200.40" y="538.74" width="1.8" height="1.8"/><rect x="195.61" y="523.92" width="1.8" height="1.8"/><rect x="180.99" y="530.43" width="1.8" height="1.8"/><rect x="216.55" y="530.34" width="1.8" height="1.8"/><rect x="203.15" y="527.21" width="1.8" height="1.8"/><rect x="205.27" y="539.38" width="1.8" height="1.8"/><rect x="182.09" y="530.92" width="1.8" height="1.8"/><rect x="215.41" y="538.07" width="1.8" height="1.8"/><rect x="190.96" y="533.72" width="1.8" height="1.8"/><rect x="182.52" y="527.95" width="1.8" height="1.8"/><rect x="187.24" y="526.19" width="1.8" height="1.8"/><rect x="171.42" y="522.80" width="1.8" height="1.8"/><rect x="194.45" y="541.41" width="1.8" height="1.8"/><rect x="212.76" y="535.76" width="1.8" height="1.8"/><rect x="173.17" y="530.28" width="1.8" height="1.8"/><rect x="206.95" y="535.52" width="1.8" height="1.8"/><rect x="213.50" y="529.91" width="1.8" height="1.8"/><rect x="211.98" y="532.04" width="1.8" height="1.8"/><rect x="220.92" y="532.11" width="1.8" height="1.8"/><rect x="209.10" y="545.57" width="1.8" height="1.8"/><rect x="215.06" y="526.96" width="1.8" height="1.8"/><rect x="199.07" y="533.79" width="1.8" height="1.8"/><rect x="229.05" y="548.20" width="1.8" height="1.8"/><rect x="209.33" y="519.09" width="1.8" height="1.8"/><rect x="190.62" y="525.04" width="1.8" height="1.8"/><rect x="228.33" y="538.39" width="1.8" height="1.8"/><rect x="210.57" y="528.33" width="1.8" height="1.8"/><rect x="190.91" y="529.69" width="1.8" height="1.8"/><rect x="206.97" y="527.96" width="1.8" height="1.8"/><rect x="202.59" y="532.97" width="1.8" height="1.8"/><rect x="189.43" y="530.94" width="1.8" height="1.8"/><rect x="215.00" y="534.05" width="1.8" height="1.8"/><rect x="191.62" y="534.28" width="1.8" height="1.8"/><rect x="238.78" y="533.35" width="1.8" height="1.8"/><rect x="211.59" y="549.14" width="1.8" height="1.8"/><rect x="211.38" y="531.00" width="1.8" height="1.8"/><rect x="225.62" y="534.55" width="1.8" height="1.8"/><rect x="202.15" y="528.65" width="1.8" height="1.8"/><rect x="177.00" y="519.92" width="1.8" height="1.8"/><rect x="207.40" y="537.05" width="1.8" height="1.8"/><rect x="220.81" y="525.32" width="1.8" height="1.8"/><rect x="184.26" y="531.58" width="1.8" height="1.8"/><rect x="206.95" y="531.74" width="1.8" height="1.8"/><rect x="197.71" y="536.45" width="1.8" height="1.8"/><rect x="231.46" y="532.29" width="1.8" height="1.8"/><rect x="187.05" y="536.21" width="1.8" height="1.8"/><rect x="225.87" y="531.30" width="1.8" height="1.8"/><rect x="227.45" y="532.71" width="1.8" height="1.8"/><rect x="191.36" y="527.74" width="1.8" height="1.8"/><rect x="174.11" y="529.75" width="1.8" height="1.8"/><rect x="202.26" y="528.67" width="1.8" height="1.8"/><rect x="193.30" y="530.44" width="1.8" height="1.8"/><rect x="209.19" y="531.11" width="1.8" height="1.8"/><rect x="211.60" y="532.65" width="1.8" height="1.8"/><rect x="198.71" y="526.30" width="1.8" height="1.8"/><rect x="203.71" y="536.94" width="1.8" height="1.8"/><rect x="194.66" y="530.02" width="1.8" height="1.8"/><rect x="201.58" y="530.67" width="1.8" height="1.8"/><rect x="203.04" y="530.89" width="1.8" height="1.8"/><rect x="201.25" y="538.93" width="1.8" height="1.8"/><rect x="208.70" y="527.01" width="1.8" height="1.8"/><rect x="208.87" y="534.37" width="1.8" height="1.8"/><rect x="209.03" y="538.98" width="1.8" height="1.8"/><rect x="177.64" y="525.80" width="1.8" height="1.8"/><rect x="190.58" y="524.74" width="1.8" height="1.8"/><rect x="188.52" y="544.10" width="1.8" height="1.8"/><rect x="189.12" y="519.47" width="1.8" height="1.8"/><rect x="197.93" y="538.83" width="1.8" height="1.8"/><rect x="192.82" y="526.54" width="1.8" height="1.8"/><rect x="209.71" y="532.40" width="1.8" height="1.8"/><rect x="222.93" y="532.30" width="1.8" height="1.8"/><rect x="202.77" y="528.35" width="1.8" height="1.8"/><rect x="225.22" y="531.26" width="1.8" height="1.8"/><rect x="216.77" y="541.43" width="1.8" height="1.8"/><rect x="201.06" y="527.18" width="1.8" height="1.8"/><rect x="199.08" y="524.73" width="1.8" height="1.8"/><rect x="211.04" y="528.40" width="1.8" height="1.8"/><rect x="200.20" y="516.29" width="1.8" height="1.8"/><rect x="219.67" y="536.98" width="1.8" height="1.8"/><rect x="204.26" y="516.93" width="1.8" height="1.8"/><rect x="198.45" y="525.74" width="1.8" height="1.8"/><rect x="216.19" y="534.88" width="1.8" height="1.8"/><rect x="187.41" y="527.27" width="1.8" height="1.8"/><rect x="207.87" y="526.38" width="1.8" height="1.8"/><rect x="213.54" y="534.17" width="1.8" height="1.8"/><rect x="214.49" y="531.36" width="1.8" height="1.8"/><rect x="205.81" y="532.23" width="1.8" height="1.8"/><rect x="199.79" y="527.15" width="1.8" height="1.8"/><rect x="188.92" y="532.42" width="1.8" height="1.8"/><rect x="203.12" y="540.56" width="1.8" height="1.8"/><rect x="197.21" y="542.43" width="1.8" height="1.8"/><rect x="193.90" y="526.50" width="1.8" height="1.8"/><rect x="210.64" y="533.98" width="1.8" height="1.8"/><rect x="199.94" y="539.56" width="1.8" height="1.8"/><rect x="227.54" y="534.47" width="1.8" height="1.8"/><rect x="217.70" y="540.46" width="1.8" height="1.8"/><rect x="200.57" y="542.08" width="1.8" height="1.8"/><rect x="213.51" y="528.81" width="1.8" height="1.8"/><rect x="177.62" y="526.45" width="1.8" height="1.8"/><rect x="211.50" y="544.23" width="1.8" height="1.8"/><rect x="178.59" y="532.63" width="1.8" height="1.8"/><rect x="194.62" y="538.27" width="1.8" height="1.8"/><rect x="203.47" y="530.56" width="1.8" height="1.8"/><rect x="211.55" y="529.73" width="1.8" height="1.8"/><rect x="223.19" y="529.66" width="1.8" height="1.8"/><rect x="185.47" y="530.90" width="1.8" height="1.8"/><rect x="188.84" y="535.03" width="1.8" height="1.8"/><rect x="201.96" y="531.65" width="1.8" height="1.8"/><rect x="209.62" y="542.77" width="1.8" height="1.8"/><rect x="186.47" y="528.29" width="1.8" height="1.8"/><rect x="203.06" y="539.59" width="1.8" height="1.8"/><rect x="205.34" y="544.71" width="1.8" height="1.8"/><rect x="218.15" y="535.61" width="1.8" height="1.8"/><rect x="204.93" y="543.71" width="1.8" height="1.8"/><rect x="203.48" y="564.78" width="1.8" height="1.8"/><rect x="189.96" y="533.40" width="1.8" height="1.8"/><rect x="181.21" y="529.99" width="1.8" height="1.8"/><rect x="208.87" y="551.83" width="1.8" height="1.8"/><rect x="202.20" y="539.45" width="1.8" height="1.8"/><rect x="214.10" y="532.13" width="1.8" height="1.8"/><rect x="205.79" y="545.75" width="1.8" height="1.8"/><rect x="203.98" y="537.21" width="1.8" height="1.8"/><rect x="218.70" y="536.34" width="1.8" height="1.8"/><rect x="194.30" y="548.74" width="1.8" height="1.8"/><rect x="200.15" y="543.49" width="1.8" height="1.8"/><rect x="187.78" y="534.57" width="1.8" height="1.8"/><rect x="198.17" y="534.29" width="1.8" height="1.8"/><rect x="215.17" y="543.02" width="1.8" height="1.8"/><rect x="245.33" y="547.96" width="1.8" height="1.8"/><rect x="224.85" y="539.34" width="1.8" height="1.8"/><rect x="225.10" y="565.41" width="1.8" height="1.8"/><rect x="193.81" y="531.96" width="1.8" height="1.8"/><rect x="216.49" y="514.63" width="1.8" height="1.8"/><rect x="211.80" y="524.72" width="1.8" height="1.8"/><rect x="219.24" y="529.64" width="1.8" height="1.8"/><rect x="214.94" y="540.30" width="1.8" height="1.8"/><rect x="214.93" y="549.90" width="1.8" height="1.8"/><rect x="226.19" y="551.47" width="1.8" height="1.8"/><rect x="210.57" y="515.72" width="1.8" height="1.8"/><rect x="202.66" y="536.06" width="1.8" height="1.8"/><rect x="225.88" y="540.54" width="1.8" height="1.8"/><rect x="192.87" y="531.66" width="1.8" height="1.8"/><rect x="216.15" y="531.51" width="1.8" height="1.8"/><rect x="193.46" y="516.21" width="1.8" height="1.8"/><rect x="234.32" y="542.27" width="1.8" height="1.8"/><rect x="210.90" y="542.34" width="1.8" height="1.8"/><rect x="230.09" y="548.98" width="1.8" height="1.8"/><rect x="217.69" y="544.21" width="1.8" height="1.8"/><rect x="194.78" y="527.24" width="1.8" height="1.8"/><rect x="228.74" y="541.48" width="1.8" height="1.8"/><rect x="195.05" y="526.33" width="1.8" height="1.8"/><rect x="205.57" y="533.60" width="1.8" height="1.8"/><rect x="231.91" y="530.20" width="1.8" height="1.8"/><rect x="206.46" y="528.82" width="1.8" height="1.8"/><rect x="195.56" y="535.34" width="1.8" height="1.8"/><rect x="229.28" y="554.13" width="1.8" height="1.8"/><rect x="181.19" y="548.96" width="1.8" height="1.8"/><rect x="226.09" y="545.64" width="1.8" height="1.8"/></g>
<line x1="167.30" y1="524.20" x2="242.30" y2="544.30" stroke="#dc1e3a" stroke-width="1.7" stroke-dasharray="1.6,1.0"/>
<line x1="163.75" y1="514.00" x2="163.75" y2="573.50" stroke="#111" stroke-width="1.1" />
<line x1="163.25" y1="573.00" x2="248.00" y2="573.00" stroke="#111" stroke-width="1.1" />
<line x1="160.85" y1="514.50" x2="163.75" y2="514.50" stroke="#111" stroke-width="1.0" />
<text x="157.55" y="517.20" font-size="7.6" stroke="#111" stroke-width="0.05" text-anchor="end">10</text>
<line x1="160.85" y1="534.00" x2="163.75" y2="534.00" stroke="#111" stroke-width="1.0" />
<text x="157.55" y="536.70" font-size="7.6" stroke="#111" stroke-width="0.05" text-anchor="end">5</text>
<line x1="160.85" y1="553.50" x2="163.75" y2="553.50" stroke="#111" stroke-width="1.0" />
<text x="157.55" y="556.20" font-size="7.6" stroke="#111" stroke-width="0.05" text-anchor="end">0</text>
<line x1="160.85" y1="573.00" x2="163.75" y2="573.00" stroke="#111" stroke-width="1.0" />
<text x="157.55" y="575.70" font-size="7.6" stroke="#111" stroke-width="0.05" text-anchor="end">−5</text>
<line x1="163.75" y1="573.00" x2="163.75" y2="575.90" stroke="#111" stroke-width="1.0" />
<text x="163.75" y="584.40" font-size="7.6" stroke="#111" stroke-width="0.05" text-anchor="middle">5</text>
<line x1="180.50" y1="573.00" x2="180.50" y2="575.90" stroke="#111" stroke-width="1.0" />
<text x="180.50" y="584.40" font-size="7.6" stroke="#111" stroke-width="0.05" text-anchor="middle">6</text>
<line x1="197.25" y1="573.00" x2="197.25" y2="575.90" stroke="#111" stroke-width="1.0" />
<text x="197.25" y="584.40" font-size="7.6" stroke="#111" stroke-width="0.05" text-anchor="middle">7</text>
<line x1="214.00" y1="573.00" x2="214.00" y2="575.90" stroke="#111" stroke-width="1.0" />
<text x="214.00" y="584.40" font-size="7.6" stroke="#111" stroke-width="0.05" text-anchor="middle">8</text>
<line x1="230.75" y1="573.00" x2="230.75" y2="575.90" stroke="#111" stroke-width="1.0" />
<text x="230.75" y="584.40" font-size="7.6" stroke="#111" stroke-width="0.05" text-anchor="middle">9</text>
<line x1="247.50" y1="573.00" x2="247.50" y2="575.90" stroke="#111" stroke-width="1.0" />
<text x="247.50" y="584.40" font-size="7.6" stroke="#111" stroke-width="0.05" text-anchor="middle">10</text>
<text x="177.00" y="596.00" font-size="8.7" stroke="#111" stroke-width="0.3" textLength="58.00" lengthAdjust="spacingAndGlyphs"><tspan>MEF2D (log</tspan><tspan font-size="4.6" dy="1.8">2</tspan><tspan dy="-1.8"> RPKM)</tspan></text>
<text stroke="#111" stroke-width="0.3" transform="translate(144.85,543.75) rotate(-90)" font-size="8.7" text-anchor="middle" textLength="56" lengthAdjust="spacingAndGlyphs">CEBPE (log<tspan font-size="4.6" dy="1.8">2</tspan><tspan dy="-1.8"> RPKM)</tspan></text>
<text x="166.10" y="562.80" font-size="7.7" stroke="#111" stroke-width="0.05" textLength="32.40" lengthAdjust="spacing"><tspan font-style="italic">R</tspan><tspan> = −0.46</tspan></text>
<text x="166.10" y="569.70" font-size="7.7" stroke="#111" stroke-width="0.05" textLength="47.10" lengthAdjust="spacing"><tspan font-style="italic">P</tspan><tspan> = 2.6 ×10</tspan><tspan font-size="4.4" dy="-2.9" fill="#555">−14</tspan></text>
<text x="278.00" y="491.70" font-size="10.2" stroke="#111" stroke-width="0.45" font-weight="bold">K</text>
<text x="321.30" y="498.80" font-size="9.0" stroke="#111" stroke-width="0.05" textLength="36.20" lengthAdjust="spacingAndGlyphs">BeatAML</text>
<text x="306.30" y="508.10" font-size="9.0" stroke="#111" stroke-width="0.05" textLength="66.20" lengthAdjust="spacingAndGlyphs">Peripheral blood</text>
<g fill="#1d5591"><rect x="322.96" y="534.13" width="1.8" height="1.8"/><rect x="345.54" y="532.27" width="1.8" height="1.8"/><rect x="344.41" y="541.91" width="1.8" height="1.8"/><rect x="335.80" y="541.23" width="1.8" height="1.8"/><rect x="319.27" y="537.61" width="1.8" height="1.8"/><rect x="342.01" y="539.83" width="1.8" height="1.8"/><rect x="329.27" y="544.64" width="1.8" height="1.8"/><rect x="331.55" y="542.16" width="1.8" height="1.8"/><rect x="332.84" y="535.42" width="1.8" height="1.8"/><rect x="309.54" y="532.10" width="1.8" height="1.8"/><rect x="317.77" y="540.28" width="1.8" height="1.8"/><rect x="320.00" y="527.29" width="1.8" height="1.8"/><rect x="339.20" y="537.31" width="1.8" height="1.8"/><rect x="325.02" y="545.88" width="1.8" height="1.8"/><rect x="328.65" y="536.02" width="1.8" height="1.8"/><rect x="331.74" y="533.75" width="1.8" height="1.8"/><rect x="328.88" y="525.44" width="1.8" height="1.8"/><rect x="339.05" y="527.26" width="1.8" height="1.8"/><rect x="334.93" y="540.87" width="1.8" height="1.8"/><rect x="323.95" y="530.54" width="1.8" height="1.8"/><rect x="342.98" y="540.76" width="1.8" height="1.8"/><rect x="336.57" y="541.64" width="1.8" height="1.8"/><rect x="328.25" y="539.22" width="1.8" height="1.8"/><rect x="313.56" y="539.52" width="1.8" height="1.8"/><rect x="332.85" y="537.85" width="1.8" height="1.8"/><rect x="343.37" y="537.72" width="1.8" height="1.8"/><rect x="336.70" y="539.55" width="1.8" height="1.8"/><rect x="309.70" y="531.24" width="1.8" height="1.8"/><rect x="323.54" y="532.55" width="1.8" height="1.8"/><rect x="329.59" y="539.95" width="1.8" height="1.8"/><rect x="327.01" y="538.87" width="1.8" height="1.8"/><rect x="312.72" y="543.19" width="1.8" height="1.8"/><rect x="344.60" y="539.44" width="1.8" height="1.8"/><rect x="327.96" y="539.54" width="1.8" height="1.8"/><rect x="328.70" y="515.70" width="1.8" height="1.8"/><rect x="337.61" y="540.19" width="1.8" height="1.8"/><rect x="325.61" y="552.32" width="1.8" height="1.8"/><rect x="333.62" y="529.70" width="1.8" height="1.8"/><rect x="341.77" y="539.71" width="1.8" height="1.8"/><rect x="326.27" y="544.63" width="1.8" height="1.8"/><rect x="333.13" y="541.59" width="1.8" height="1.8"/><rect x="320.89" y="523.99" width="1.8" height="1.8"/><rect x="322.90" y="539.33" width="1.8" height="1.8"/><rect x="308.32" y="519.79" width="1.8" height="1.8"/><rect x="330.73" y="538.61" width="1.8" height="1.8"/><rect x="335.22" y="545.13" width="1.8" height="1.8"/><rect x="326.06" y="534.70" width="1.8" height="1.8"/><rect x="324.06" y="533.92" width="1.8" height="1.8"/><rect x="344.55" y="537.26" width="1.8" height="1.8"/><rect x="346.59" y="535.80" width="1.8" height="1.8"/><rect x="349.86" y="542.05" width="1.8" height="1.8"/><rect x="336.66" y="547.23" width="1.8" height="1.8"/><rect x="330.54" y="542.88" width="1.8" height="1.8"/><rect x="331.64" y="545.36" width="1.8" height="1.8"/><rect x="335.58" y="522.30" width="1.8" height="1.8"/><rect x="324.53" y="532.33" width="1.8" height="1.8"/><rect x="338.65" y="545.44" width="1.8" height="1.8"/><rect x="329.40" y="541.19" width="1.8" height="1.8"/><rect x="336.80" y="544.23" width="1.8" height="1.8"/><rect x="358.59" y="540.90" width="1.8" height="1.8"/><rect x="343.88" y="527.68" width="1.8" height="1.8"/><rect x="346.22" y="543.59" width="1.8" height="1.8"/><rect x="336.04" y="539.48" width="1.8" height="1.8"/><rect x="335.05" y="532.91" width="1.8" height="1.8"/><rect x="312.34" y="543.66" width="1.8" height="1.8"/><rect x="329.07" y="534.58" width="1.8" height="1.8"/><rect x="327.38" y="538.38" width="1.8" height="1.8"/><rect x="343.49" y="537.52" width="1.8" height="1.8"/><rect x="331.23" y="540.51" width="1.8" height="1.8"/><rect x="317.43" y="530.78" width="1.8" height="1.8"/><rect x="333.35" y="545.41" width="1.8" height="1.8"/><rect x="337.14" y="542.66" width="1.8" height="1.8"/><rect x="328.73" y="548.70" width="1.8" height="1.8"/><rect x="341.09" y="546.58" width="1.8" height="1.8"/><rect x="335.06" y="538.12" width="1.8" height="1.8"/><rect x="326.33" y="537.42" width="1.8" height="1.8"/><rect x="329.56" y="539.72" width="1.8" height="1.8"/><rect x="333.82" y="543.66" width="1.8" height="1.8"/><rect x="338.73" y="540.15" width="1.8" height="1.8"/><rect x="320.00" y="532.41" width="1.8" height="1.8"/><rect x="327.71" y="534.42" width="1.8" height="1.8"/><rect x="308.16" y="529.25" width="1.8" height="1.8"/><rect x="308.99" y="534.87" width="1.8" height="1.8"/><rect x="363.87" y="544.41" width="1.8" height="1.8"/><rect x="342.18" y="546.97" width="1.8" height="1.8"/><rect x="320.06" y="535.97" width="1.8" height="1.8"/><rect x="335.61" y="540.86" width="1.8" height="1.8"/><rect x="324.59" y="542.70" width="1.8" height="1.8"/><rect x="327.42" y="526.74" width="1.8" height="1.8"/><rect x="331.60" y="541.38" width="1.8" height="1.8"/><rect x="329.00" y="544.52" width="1.8" height="1.8"/><rect x="318.11" y="533.55" width="1.8" height="1.8"/><rect x="345.46" y="539.57" width="1.8" height="1.8"/><rect x="317.96" y="524.21" width="1.8" height="1.8"/><rect x="334.70" y="526.82" width="1.8" height="1.8"/><rect x="330.66" y="547.34" width="1.8" height="1.8"/><rect x="334.41" y="540.44" width="1.8" height="1.8"/><rect x="321.04" y="540.35" width="1.8" height="1.8"/><rect x="327.96" y="543.35" width="1.8" height="1.8"/><rect x="338.41" y="538.56" width="1.8" height="1.8"/><rect x="327.49" y="539.70" width="1.8" height="1.8"/><rect x="341.16" y="538.74" width="1.8" height="1.8"/><rect x="320.16" y="533.22" width="1.8" height="1.8"/><rect x="349.71" y="541.98" width="1.8" height="1.8"/><rect x="323.59" y="525.67" width="1.8" height="1.8"/><rect x="357.52" y="545.37" width="1.8" height="1.8"/><rect x="309.13" y="541.26" width="1.8" height="1.8"/><rect x="351.52" y="545.52" width="1.8" height="1.8"/><rect x="339.82" y="536.97" width="1.8" height="1.8"/><rect x="334.53" y="527.57" width="1.8" height="1.8"/><rect x="335.01" y="534.90" width="1.8" height="1.8"/><rect x="336.40" y="537.59" width="1.8" height="1.8"/><rect x="358.05" y="553.40" width="1.8" height="1.8"/><rect x="320.91" y="527.06" width="1.8" height="1.8"/><rect x="320.44" y="533.20" width="1.8" height="1.8"/><rect x="322.68" y="528.57" width="1.8" height="1.8"/><rect x="333.14" y="533.61" width="1.8" height="1.8"/><rect x="325.81" y="537.01" width="1.8" height="1.8"/><rect x="309.95" y="525.62" width="1.8" height="1.8"/><rect x="337.14" y="539.56" width="1.8" height="1.8"/><rect x="333.55" y="541.10" width="1.8" height="1.8"/><rect x="332.31" y="525.38" width="1.8" height="1.8"/><rect x="326.83" y="539.74" width="1.8" height="1.8"/><rect x="340.04" y="538.95" width="1.8" height="1.8"/><rect x="326.84" y="525.35" width="1.8" height="1.8"/><rect x="350.02" y="545.77" width="1.8" height="1.8"/><rect x="351.52" y="553.42" width="1.8" height="1.8"/><rect x="348.69" y="554.13" width="1.8" height="1.8"/><rect x="336.88" y="540.52" width="1.8" height="1.8"/><rect x="329.32" y="532.98" width="1.8" height="1.8"/><rect x="323.14" y="540.45" width="1.8" height="1.8"/><rect x="321.45" y="524.66" width="1.8" height="1.8"/><rect x="326.89" y="534.12" width="1.8" height="1.8"/><rect x="330.61" y="530.61" width="1.8" height="1.8"/><rect x="322.39" y="541.04" width="1.8" height="1.8"/><rect x="326.43" y="535.11" width="1.8" height="1.8"/><rect x="325.14" y="532.87" width="1.8" height="1.8"/><rect x="338.53" y="533.03" width="1.8" height="1.8"/><rect x="338.47" y="530.58" width="1.8" height="1.8"/><rect x="329.48" y="540.72" width="1.8" height="1.8"/><rect x="325.99" y="540.89" width="1.8" height="1.8"/><rect x="319.42" y="531.54" width="1.8" height="1.8"/><rect x="334.00" y="552.94" width="1.8" height="1.8"/><rect x="331.75" y="542.95" width="1.8" height="1.8"/><rect x="323.64" y="537.43" width="1.8" height="1.8"/><rect x="345.20" y="541.46" width="1.8" height="1.8"/><rect x="312.51" y="529.94" width="1.8" height="1.8"/><rect x="323.92" y="524.53" width="1.8" height="1.8"/><rect x="327.87" y="537.42" width="1.8" height="1.8"/><rect x="330.76" y="543.42" width="1.8" height="1.8"/><rect x="328.66" y="537.93" width="1.8" height="1.8"/><rect x="355.19" y="544.53" width="1.8" height="1.8"/><rect x="338.01" y="539.27" width="1.8" height="1.8"/><rect x="334.82" y="536.70" width="1.8" height="1.8"/><rect x="347.30" y="562.78" width="1.8" height="1.8"/><rect x="326.46" y="542.15" width="1.8" height="1.8"/><rect x="341.65" y="546.54" width="1.8" height="1.8"/><rect x="342.71" y="534.00" width="1.8" height="1.8"/><rect x="327.40" y="532.87" width="1.8" height="1.8"/><rect x="328.20" y="531.25" width="1.8" height="1.8"/><rect x="338.20" y="531.89" width="1.8" height="1.8"/><rect x="341.37" y="547.74" width="1.8" height="1.8"/><rect x="347.79" y="542.67" width="1.8" height="1.8"/><rect x="343.92" y="541.12" width="1.8" height="1.8"/><rect x="342.57" y="549.23" width="1.8" height="1.8"/><rect x="346.67" y="549.08" width="1.8" height="1.8"/><rect x="331.66" y="534.60" width="1.8" height="1.8"/><rect x="317.91" y="531.03" width="1.8" height="1.8"/><rect x="333.49" y="532.88" width="1.8" height="1.8"/><rect x="332.36" y="544.74" width="1.8" height="1.8"/><rect x="322.24" y="540.41" width="1.8" height="1.8"/><rect x="334.57" y="539.88" width="1.8" height="1.8"/><rect x="339.30" y="529.91" width="1.8" height="1.8"/><rect x="330.25" y="540.52" width="1.8" height="1.8"/><rect x="337.08" y="536.52" width="1.8" height="1.8"/><rect x="311.46" y="535.98" width="1.8" height="1.8"/><rect x="333.89" y="534.57" width="1.8" height="1.8"/><rect x="328.30" y="543.77" width="1.8" height="1.8"/><rect x="353.88" y="565.65" width="1.8" height="1.8"/><rect x="347.23" y="547.27" width="1.8" height="1.8"/><rect x="328.88" y="537.40" width="1.8" height="1.8"/><rect x="336.11" y="546.01" width="1.8" height="1.8"/><rect x="318.54" y="532.12" width="1.8" height="1.8"/><rect x="345.02" y="544.34" width="1.8" height="1.8"/><rect x="355.15" y="554.10" width="1.8" height="1.8"/><rect x="340.62" y="537.87" width="1.8" height="1.8"/><rect x="345.67" y="550.03" width="1.8" height="1.8"/><rect x="338.84" y="541.35" width="1.8" height="1.8"/><rect x="309.42" y="534.51" width="1.8" height="1.8"/><rect x="317.87" y="536.55" width="1.8" height="1.8"/><rect x="338.63" y="541.11" width="1.8" height="1.8"/><rect x="351.06" y="539.70" width="1.8" height="1.8"/><rect x="326.57" y="538.94" width="1.8" height="1.8"/><rect x="336.55" y="544.59" width="1.8" height="1.8"/><rect x="338.29" y="536.24" width="1.8" height="1.8"/><rect x="342.52" y="540.11" width="1.8" height="1.8"/><rect x="334.52" y="546.46" width="1.8" height="1.8"/><rect x="335.35" y="539.88" width="1.8" height="1.8"/><rect x="335.09" y="536.05" width="1.8" height="1.8"/><rect x="326.45" y="538.73" width="1.8" height="1.8"/><rect x="326.35" y="543.78" width="1.8" height="1.8"/><rect x="315.41" y="539.62" width="1.8" height="1.8"/><rect x="338.13" y="555.03" width="1.8" height="1.8"/><rect x="338.17" y="534.95" width="1.8" height="1.8"/><rect x="342.32" y="543.26" width="1.8" height="1.8"/><rect x="329.90" y="530.25" width="1.8" height="1.8"/><rect x="340.73" y="529.25" width="1.8" height="1.8"/><rect x="329.51" y="539.91" width="1.8" height="1.8"/><rect x="344.42" y="544.05" width="1.8" height="1.8"/><rect x="332.14" y="529.20" width="1.8" height="1.8"/><rect x="341.34" y="543.22" width="1.8" height="1.8"/><rect x="339.15" y="540.23" width="1.8" height="1.8"/><rect x="344.03" y="539.15" width="1.8" height="1.8"/><rect x="325.03" y="524.10" width="1.8" height="1.8"/><rect x="332.95" y="537.58" width="1.8" height="1.8"/><rect x="327.41" y="536.24" width="1.8" height="1.8"/><rect x="329.79" y="533.27" width="1.8" height="1.8"/><rect x="338.74" y="531.88" width="1.8" height="1.8"/><rect x="341.42" y="543.84" width="1.8" height="1.8"/><rect x="326.71" y="541.33" width="1.8" height="1.8"/><rect x="352.29" y="549.25" width="1.8" height="1.8"/><rect x="360.41" y="541.11" width="1.8" height="1.8"/><rect x="336.61" y="536.08" width="1.8" height="1.8"/><rect x="364.78" y="542.76" width="1.8" height="1.8"/><rect x="331.79" y="547.68" width="1.8" height="1.8"/><rect x="312.83" y="539.93" width="1.8" height="1.8"/><rect x="356.91" y="536.07" width="1.8" height="1.8"/><rect x="325.96" y="561.00" width="1.8" height="1.8"/><rect x="354.18" y="538.00" width="1.8" height="1.8"/><rect x="305.57" y="533.66" width="1.8" height="1.8"/><rect x="320.46" y="524.20" width="1.8" height="1.8"/><rect x="346.83" y="547.19" width="1.8" height="1.8"/><rect x="302.88" y="534.18" width="1.8" height="1.8"/><rect x="376.20" y="541.61" width="1.8" height="1.8"/><rect x="328.83" y="526.93" width="1.8" height="1.8"/><rect x="328.94" y="519.47" width="1.8" height="1.8"/><rect x="310.32" y="537.15" width="1.8" height="1.8"/><rect x="360.71" y="531.28" width="1.8" height="1.8"/><rect x="345.46" y="555.28" width="1.8" height="1.8"/><rect x="337.45" y="531.42" width="1.8" height="1.8"/><rect x="330.00" y="536.67" width="1.8" height="1.8"/><rect x="350.56" y="545.23" width="1.8" height="1.8"/><rect x="344.82" y="542.86" width="1.8" height="1.8"/><rect x="318.89" y="550.40" width="1.8" height="1.8"/><rect x="325.45" y="545.45" width="1.8" height="1.8"/><rect x="351.81" y="541.09" width="1.8" height="1.8"/><rect x="306.74" y="516.89" width="1.8" height="1.8"/><rect x="373.61" y="551.37" width="1.8" height="1.8"/><rect x="344.74" y="541.71" width="1.8" height="1.8"/><rect x="348.03" y="540.02" width="1.8" height="1.8"/><rect x="343.18" y="540.34" width="1.8" height="1.8"/><rect x="326.26" y="540.26" width="1.8" height="1.8"/><rect x="323.81" y="543.02" width="1.8" height="1.8"/><rect x="347.87" y="521.75" width="1.8" height="1.8"/><rect x="312.96" y="536.76" width="1.8" height="1.8"/><rect x="351.19" y="528.76" width="1.8" height="1.8"/><rect x="343.31" y="545.05" width="1.8" height="1.8"/><rect x="313.26" y="531.67" width="1.8" height="1.8"/><rect x="309.95" y="530.79" width="1.8" height="1.8"/></g>
<line x1="299.60" y1="529.00" x2="383.50" y2="556.40" stroke="#dc1e3a" stroke-width="1.7" stroke-dasharray="1.6,1.0"/>
<line x1="297.00" y1="514.00" x2="297.00" y2="573.50" stroke="#111" stroke-width="1.1" />
<line x1="296.50" y1="573.00" x2="381.75" y2="573.00" stroke="#111" stroke-width="1.1" />
<line x1="294.10" y1="514.50" x2="297.00" y2="514.50" stroke="#111" stroke-width="1.0" />
<text x="290.80" y="517.20" font-size="7.6" stroke="#111" stroke-width="0.05" text-anchor="end">10</text>
<line x1="294.10" y1="534.00" x2="297.00" y2="534.00" stroke="#111" stroke-width="1.0" />
<text x="290.80" y="536.70" font-size="7.6" stroke="#111" stroke-width="0.05" text-anchor="end">5</text>
<line x1="294.10" y1="553.50" x2="297.00" y2="553.50" stroke="#111" stroke-width="1.0" />
<text x="290.80" y="556.20" font-size="7.6" stroke="#111" stroke-width="0.05" text-anchor="end">0</text>
<line x1="294.10" y1="573.00" x2="297.00" y2="573.00" stroke="#111" stroke-width="1.0" />
<text x="290.80" y="575.70" font-size="7.6" stroke="#111" stroke-width="0.05" text-anchor="end">−5</text>
<line x1="297.00" y1="573.00" x2="297.00" y2="575.90" stroke="#111" stroke-width="1.0" />
<text x="297.00" y="584.40" font-size="7.6" stroke="#111" stroke-width="0.05" text-anchor="middle">5</text>
<line x1="311.04" y1="573.00" x2="311.04" y2="575.90" stroke="#111" stroke-width="1.0" />
<text x="311.04" y="584.40" font-size="7.6" stroke="#111" stroke-width="0.05" text-anchor="middle">6</text>
<line x1="325.08" y1="573.00" x2="325.08" y2="575.90" stroke="#111" stroke-width="1.0" />
<text x="325.08" y="584.40" font-size="7.6" stroke="#111" stroke-width="0.05" text-anchor="middle">7</text>
<line x1="339.12" y1="573.00" x2="339.12" y2="575.90" stroke="#111" stroke-width="1.0" />
<text x="339.12" y="584.40" font-size="7.6" stroke="#111" stroke-width="0.05" text-anchor="middle">8</text>
<line x1="353.17" y1="573.00" x2="353.17" y2="575.90" stroke="#111" stroke-width="1.0" />
<text x="353.17" y="584.40" font-size="7.6" stroke="#111" stroke-width="0.05" text-anchor="middle">9</text>
<line x1="367.21" y1="573.00" x2="367.21" y2="575.90" stroke="#111" stroke-width="1.0" />
<text x="367.21" y="584.40" font-size="7.6" stroke="#111" stroke-width="0.05" text-anchor="middle">10</text>
<line x1="381.25" y1="573.00" x2="381.25" y2="575.90" stroke="#111" stroke-width="1.0" />
<text x="381.25" y="584.40" font-size="7.6" stroke="#111" stroke-width="0.05" text-anchor="middle">11</text>
<text x="310.50" y="596.00" font-size="8.7" stroke="#111" stroke-width="0.3" textLength="57.50" lengthAdjust="spacingAndGlyphs"><tspan>MEF2D (log</tspan><tspan font-size="4.6" dy="1.8">2</tspan><tspan dy="-1.8"> RPKM)</tspan></text>
<text stroke="#111" stroke-width="0.3" transform="translate(278.10,543.75) rotate(-90)" font-size="8.7" text-anchor="middle" textLength="56" lengthAdjust="spacingAndGlyphs">CEBPE (log<tspan font-size="4.6" dy="1.8">2</tspan><tspan dy="-1.8"> RPKM)</tspan></text>
<text x="300.10" y="562.40" font-size="7.7" stroke="#111" stroke-width="0.05" textLength="29.80" lengthAdjust="spacing"><tspan font-style="italic">R</tspan><tspan> = -0.42</tspan></text>
<text x="300.10" y="569.30" font-size="7.7" stroke="#111" stroke-width="0.05" textLength="47.10" lengthAdjust="spacing"><tspan font-style="italic">P</tspan><tspan> = 4.8 ×10</tspan><tspan font-size="4.4" dy="-2.9" fill="#555">−10</tspan></text>
<text x="405.30" y="491.70" font-size="10.2" stroke="#111" stroke-width="0.45" font-weight="bold">L</text>
<text x="453.00" y="498.80" font-size="9.0" stroke="#111" stroke-width="0.05" textLength="24.50" lengthAdjust="spacingAndGlyphs">B-ALL</text>
<text x="417.50" y="508.10" font-size="9.0" stroke="#111" stroke-width="0.05" textLength="95.50" lengthAdjust="spacingAndGlyphs">PeCan (St. Jude Cloud)</text>
<g fill="#1d5591"><rect x="470.61" y="533.86" width="1.7" height="1.7"/><rect x="466.20" y="545.41" width="1.7" height="1.7"/><rect x="472.96" y="537.93" width="1.7" height="1.7"/><rect x="473.89" y="538.59" width="1.7" height="1.7"/><rect x="470.82" y="541.93" width="1.7" height="1.7"/><rect x="466.85" y="539.16" width="1.7" height="1.7"/><rect x="469.29" y="535.39" width="1.7" height="1.7"/><rect x="475.70" y="545.96" width="1.7" height="1.7"/><rect x="476.23" y="541.27" width="1.7" height="1.7"/><rect x="478.92" y="536.07" width="1.7" height="1.7"/><rect x="475.37" y="547.89" width="1.7" height="1.7"/><rect x="475.99" y="547.23" width="1.7" height="1.7"/><rect x="481.86" y="545.49" width="1.7" height="1.7"/><rect x="470.64" y="532.19" width="1.7" height="1.7"/><rect x="460.57" y="536.13" width="1.7" height="1.7"/><rect x="464.98" y="539.68" width="1.7" height="1.7"/><rect x="466.74" y="535.47" width="1.7" height="1.7"/><rect x="469.93" y="537.79" width="1.7" height="1.7"/><rect x="475.97" y="547.82" width="1.7" height="1.7"/><rect x="480.83" y="543.53" width="1.7" height="1.7"/><rect x="461.24" y="539.06" width="1.7" height="1.7"/><rect x="477.47" y="537.53" width="1.7" height="1.7"/><rect x="467.46" y="537.97" width="1.7" height="1.7"/><rect x="473.42" y="536.12" width="1.7" height="1.7"/><rect x="471.01" y="535.58" width="1.7" height="1.7"/><rect x="466.15" y="540.83" width="1.7" height="1.7"/><rect x="476.17" y="538.20" width="1.7" height="1.7"/><rect x="471.58" y="537.25" width="1.7" height="1.7"/><rect x="473.23" y="537.10" width="1.7" height="1.7"/><rect x="479.40" y="540.02" width="1.7" height="1.7"/><rect x="477.19" y="542.97" width="1.7" height="1.7"/><rect x="468.30" y="548.02" width="1.7" height="1.7"/><rect x="474.54" y="540.45" width="1.7" height="1.7"/><rect x="475.34" y="548.29" width="1.7" height="1.7"/><rect x="468.76" y="541.00" width="1.7" height="1.7"/><rect x="460.24" y="532.49" width="1.7" height="1.7"/><rect x="479.79" y="547.29" width="1.7" height="1.7"/><rect x="474.77" y="533.75" width="1.7" height="1.7"/><rect x="464.06" y="533.36" width="1.7" height="1.7"/><rect x="482.17" y="535.49" width="1.7" height="1.7"/><rect x="463.08" y="541.26" width="1.7" height="1.7"/><rect x="473.25" y="535.35" width="1.7" height="1.7"/><rect x="463.75" y="540.22" width="1.7" height="1.7"/><rect x="464.68" y="533.07" width="1.7" height="1.7"/><rect x="468.28" y="536.33" width="1.7" height="1.7"/><rect x="476.08" y="536.40" width="1.7" height="1.7"/><rect x="474.61" y="539.23" width="1.7" height="1.7"/><rect x="479.42" y="540.18" width="1.7" height="1.7"/><rect x="463.71" y="539.35" width="1.7" height="1.7"/><rect x="477.78" y="541.02" width="1.7" height="1.7"/><rect x="469.62" y="538.05" width="1.7" height="1.7"/><rect x="493.42" y="546.65" width="1.7" height="1.7"/><rect x="475.04" y="538.89" width="1.7" height="1.7"/><rect x="470.15" y="534.41" width="1.7" height="1.7"/><rect x="477.47" y="539.88" width="1.7" height="1.7"/><rect x="463.11" y="531.95" width="1.7" height="1.7"/><rect x="476.88" y="541.63" width="1.7" height="1.7"/><rect x="454.40" y="534.53" width="1.7" height="1.7"/><rect x="464.01" y="538.21" width="1.7" height="1.7"/><rect x="468.58" y="542.05" width="1.7" height="1.7"/><rect x="478.49" y="541.34" width="1.7" height="1.7"/><rect x="479.94" y="546.13" width="1.7" height="1.7"/><rect x="470.66" y="533.88" width="1.7" height="1.7"/><rect x="474.02" y="543.33" width="1.7" height="1.7"/><rect x="466.10" y="540.33" width="1.7" height="1.7"/><rect x="471.35" y="536.81" width="1.7" height="1.7"/><rect x="472.84" y="537.01" width="1.7" height="1.7"/><rect x="477.36" y="540.97" width="1.7" height="1.7"/><rect x="480.29" y="539.40" width="1.7" height="1.7"/><rect x="470.70" y="540.04" width="1.7" height="1.7"/><rect x="471.78" y="542.68" width="1.7" height="1.7"/><rect x="463.16" y="536.88" width="1.7" height="1.7"/><rect x="468.55" y="536.35" width="1.7" height="1.7"/><rect x="468.00" y="538.15" width="1.7" height="1.7"/><rect x="473.18" y="542.05" width="1.7" height="1.7"/><rect x="473.14" y="543.05" width="1.7" height="1.7"/><rect x="469.09" y="535.66" width="1.7" height="1.7"/><rect x="474.41" y="540.56" width="1.7" height="1.7"/><rect x="466.76" y="535.36" width="1.7" height="1.7"/><rect x="484.86" y="552.56" width="1.7" height="1.7"/><rect x="478.71" y="541.02" width="1.7" height="1.7"/><rect x="479.02" y="537.29" width="1.7" height="1.7"/><rect x="465.25" y="530.70" width="1.7" height="1.7"/><rect x="468.01" y="539.56" width="1.7" height="1.7"/><rect x="475.94" y="541.37" width="1.7" height="1.7"/><rect x="473.60" y="542.38" width="1.7" height="1.7"/><rect x="465.10" y="537.59" width="1.7" height="1.7"/><rect x="464.75" y="532.15" width="1.7" height="1.7"/><rect x="473.44" y="534.61" width="1.7" height="1.7"/><rect x="463.74" y="545.60" width="1.7" height="1.7"/><rect x="457.01" y="536.67" width="1.7" height="1.7"/><rect x="463.46" y="535.71" width="1.7" height="1.7"/><rect x="462.35" y="542.38" width="1.7" height="1.7"/><rect x="473.67" y="541.92" width="1.7" height="1.7"/><rect x="476.26" y="537.89" width="1.7" height="1.7"/><rect x="474.15" y="545.38" width="1.7" height="1.7"/><rect x="466.20" y="528.90" width="1.7" height="1.7"/><rect x="470.36" y="538.13" width="1.7" height="1.7"/><rect x="472.65" y="540.13" width="1.7" height="1.7"/><rect x="470.72" y="541.69" width="1.7" height="1.7"/><rect x="468.48" y="546.82" width="1.7" height="1.7"/><rect x="482.69" y="543.58" width="1.7" height="1.7"/><rect x="463.30" y="535.02" width="1.7" height="1.7"/><rect x="476.18" y="546.93" width="1.7" height="1.7"/><rect x="468.46" y="532.71" width="1.7" height="1.7"/><rect x="475.37" y="539.15" width="1.7" height="1.7"/><rect x="478.31" y="542.31" width="1.7" height="1.7"/><rect x="469.92" y="532.76" width="1.7" height="1.7"/><rect x="470.64" y="539.71" width="1.7" height="1.7"/><rect x="475.98" y="540.92" width="1.7" height="1.7"/><rect x="463.82" y="529.66" width="1.7" height="1.7"/><rect x="471.37" y="532.41" width="1.7" height="1.7"/><rect x="475.14" y="544.45" width="1.7" height="1.7"/><rect x="481.89" y="543.60" width="1.7" height="1.7"/><rect x="466.25" y="538.14" width="1.7" height="1.7"/><rect x="457.91" y="533.80" width="1.7" height="1.7"/><rect x="467.11" y="539.30" width="1.7" height="1.7"/><rect x="466.05" y="535.24" width="1.7" height="1.7"/><rect x="474.17" y="536.15" width="1.7" height="1.7"/><rect x="482.65" y="542.00" width="1.7" height="1.7"/><rect x="472.44" y="538.73" width="1.7" height="1.7"/><rect x="466.55" y="540.32" width="1.7" height="1.7"/><rect x="476.74" y="544.75" width="1.7" height="1.7"/><rect x="459.25" y="537.26" width="1.7" height="1.7"/><rect x="473.49" y="534.38" width="1.7" height="1.7"/><rect x="467.19" y="542.08" width="1.7" height="1.7"/><rect x="472.45" y="540.59" width="1.7" height="1.7"/><rect x="473.45" y="542.35" width="1.7" height="1.7"/><rect x="473.12" y="542.50" width="1.7" height="1.7"/><rect x="478.21" y="540.65" width="1.7" height="1.7"/><rect x="475.53" y="542.69" width="1.7" height="1.7"/><rect x="462.52" y="536.83" width="1.7" height="1.7"/><rect x="471.47" y="535.26" width="1.7" height="1.7"/><rect x="478.07" y="541.87" width="1.7" height="1.7"/><rect x="471.51" y="543.65" width="1.7" height="1.7"/><rect x="471.54" y="538.85" width="1.7" height="1.7"/><rect x="469.12" y="543.28" width="1.7" height="1.7"/><rect x="480.09" y="546.07" width="1.7" height="1.7"/><rect x="482.50" y="538.39" width="1.7" height="1.7"/><rect x="481.79" y="546.28" width="1.7" height="1.7"/><rect x="475.85" y="546.60" width="1.7" height="1.7"/><rect x="469.45" y="545.16" width="1.7" height="1.7"/><rect x="467.05" y="540.32" width="1.7" height="1.7"/><rect x="477.98" y="537.41" width="1.7" height="1.7"/><rect x="469.38" y="540.18" width="1.7" height="1.7"/><rect x="465.69" y="542.45" width="1.7" height="1.7"/><rect x="460.24" y="537.06" width="1.7" height="1.7"/><rect x="475.59" y="544.05" width="1.7" height="1.7"/><rect x="474.11" y="545.13" width="1.7" height="1.7"/><rect x="465.27" y="539.91" width="1.7" height="1.7"/><rect x="477.43" y="543.66" width="1.7" height="1.7"/><rect x="476.66" y="542.74" width="1.7" height="1.7"/><rect x="464.60" y="545.57" width="1.7" height="1.7"/><rect x="468.67" y="542.67" width="1.7" height="1.7"/><rect x="477.55" y="539.87" width="1.7" height="1.7"/><rect x="461.18" y="533.18" width="1.7" height="1.7"/><rect x="475.13" y="552.41" width="1.7" height="1.7"/><rect x="464.99" y="536.75" width="1.7" height="1.7"/><rect x="461.46" y="539.51" width="1.7" height="1.7"/><rect x="475.03" y="539.87" width="1.7" height="1.7"/><rect x="474.58" y="538.29" width="1.7" height="1.7"/><rect x="466.03" y="528.58" width="1.7" height="1.7"/><rect x="475.03" y="532.38" width="1.7" height="1.7"/><rect x="469.98" y="537.06" width="1.7" height="1.7"/><rect x="473.86" y="541.09" width="1.7" height="1.7"/><rect x="473.68" y="539.42" width="1.7" height="1.7"/><rect x="476.88" y="540.18" width="1.7" height="1.7"/><rect x="472.03" y="538.00" width="1.7" height="1.7"/><rect x="480.92" y="542.42" width="1.7" height="1.7"/><rect x="475.54" y="540.47" width="1.7" height="1.7"/><rect x="459.11" y="539.47" width="1.7" height="1.7"/><rect x="465.80" y="543.49" width="1.7" height="1.7"/><rect x="467.70" y="545.56" width="1.7" height="1.7"/><rect x="473.38" y="542.48" width="1.7" height="1.7"/><rect x="479.48" y="540.75" width="1.7" height="1.7"/><rect x="463.52" y="538.16" width="1.7" height="1.7"/><rect x="471.94" y="542.59" width="1.7" height="1.7"/><rect x="469.34" y="543.38" width="1.7" height="1.7"/><rect x="466.98" y="537.28" width="1.7" height="1.7"/><rect x="469.52" y="534.41" width="1.7" height="1.7"/><rect x="458.14" y="538.76" width="1.7" height="1.7"/><rect x="469.27" y="533.28" width="1.7" height="1.7"/><rect x="478.71" y="539.07" width="1.7" height="1.7"/><rect x="477.82" y="535.50" width="1.7" height="1.7"/><rect x="475.90" y="542.10" width="1.7" height="1.7"/><rect x="472.76" y="543.05" width="1.7" height="1.7"/><rect x="470.15" y="537.94" width="1.7" height="1.7"/><rect x="468.38" y="538.45" width="1.7" height="1.7"/><rect x="468.81" y="544.16" width="1.7" height="1.7"/><rect x="462.42" y="534.29" width="1.7" height="1.7"/><rect x="471.75" y="536.66" width="1.7" height="1.7"/><rect x="470.90" y="539.70" width="1.7" height="1.7"/><rect x="473.22" y="541.72" width="1.7" height="1.7"/><rect x="480.28" y="538.66" width="1.7" height="1.7"/><rect x="474.04" y="544.75" width="1.7" height="1.7"/><rect x="468.10" y="538.01" width="1.7" height="1.7"/><rect x="478.84" y="542.33" width="1.7" height="1.7"/><rect x="471.30" y="537.78" width="1.7" height="1.7"/><rect x="472.20" y="540.73" width="1.7" height="1.7"/><rect x="464.30" y="532.86" width="1.7" height="1.7"/><rect x="471.10" y="541.82" width="1.7" height="1.7"/><rect x="470.76" y="544.89" width="1.7" height="1.7"/><rect x="460.76" y="543.58" width="1.7" height="1.7"/><rect x="473.74" y="545.83" width="1.7" height="1.7"/><rect x="472.08" y="544.78" width="1.7" height="1.7"/><rect x="460.08" y="538.83" width="1.7" height="1.7"/><rect x="466.65" y="541.17" width="1.7" height="1.7"/><rect x="482.26" y="542.55" width="1.7" height="1.7"/><rect x="467.56" y="535.35" width="1.7" height="1.7"/><rect x="469.27" y="534.54" width="1.7" height="1.7"/><rect x="461.40" y="532.61" width="1.7" height="1.7"/><rect x="464.43" y="540.67" width="1.7" height="1.7"/><rect x="472.57" y="544.54" width="1.7" height="1.7"/><rect x="460.88" y="538.25" width="1.7" height="1.7"/><rect x="469.36" y="545.78" width="1.7" height="1.7"/><rect x="477.43" y="545.10" width="1.7" height="1.7"/><rect x="467.31" y="539.64" width="1.7" height="1.7"/><rect x="471.53" y="535.91" width="1.7" height="1.7"/><rect x="457.58" y="535.68" width="1.7" height="1.7"/><rect x="476.83" y="540.78" width="1.7" height="1.7"/><rect x="470.73" y="544.17" width="1.7" height="1.7"/><rect x="473.33" y="542.53" width="1.7" height="1.7"/><rect x="472.05" y="544.38" width="1.7" height="1.7"/><rect x="469.18" y="539.91" width="1.7" height="1.7"/><rect x="461.80" y="533.01" width="1.7" height="1.7"/><rect x="470.40" y="544.76" width="1.7" height="1.7"/><rect x="469.58" y="538.97" width="1.7" height="1.7"/><rect x="469.00" y="543.35" width="1.7" height="1.7"/><rect x="469.74" y="544.85" width="1.7" height="1.7"/><rect x="460.61" y="532.08" width="1.7" height="1.7"/><rect x="481.97" y="536.03" width="1.7" height="1.7"/><rect x="485.49" y="539.12" width="1.7" height="1.7"/><rect x="465.26" y="540.35" width="1.7" height="1.7"/><rect x="478.14" y="543.99" width="1.7" height="1.7"/><rect x="468.94" y="539.35" width="1.7" height="1.7"/><rect x="473.83" y="546.15" width="1.7" height="1.7"/><rect x="471.36" y="538.12" width="1.7" height="1.7"/><rect x="458.17" y="531.51" width="1.7" height="1.7"/><rect x="476.03" y="544.68" width="1.7" height="1.7"/><rect x="482.77" y="541.95" width="1.7" height="1.7"/><rect x="474.20" y="534.86" width="1.7" height="1.7"/><rect x="454.84" y="534.85" width="1.7" height="1.7"/><rect x="477.91" y="536.51" width="1.7" height="1.7"/><rect x="470.94" y="540.62" width="1.7" height="1.7"/><rect x="466.30" y="539.77" width="1.7" height="1.7"/><rect x="465.72" y="547.69" width="1.7" height="1.7"/><rect x="467.44" y="542.77" width="1.7" height="1.7"/><rect x="467.35" y="540.59" width="1.7" height="1.7"/><rect x="468.07" y="538.62" width="1.7" height="1.7"/><rect x="470.73" y="541.26" width="1.7" height="1.7"/><rect x="467.23" y="539.17" width="1.7" height="1.7"/><rect x="469.17" y="539.87" width="1.7" height="1.7"/><rect x="479.90" y="541.76" width="1.7" height="1.7"/><rect x="468.63" y="547.24" width="1.7" height="1.7"/><rect x="461.94" y="548.70" width="1.7" height="1.7"/><rect x="476.73" y="537.40" width="1.7" height="1.7"/><rect x="468.58" y="541.01" width="1.7" height="1.7"/><rect x="474.16" y="538.67" width="1.7" height="1.7"/><rect x="460.13" y="537.55" width="1.7" height="1.7"/><rect x="469.16" y="544.30" width="1.7" height="1.7"/><rect x="480.12" y="539.83" width="1.7" height="1.7"/><rect x="467.31" y="538.96" width="1.7" height="1.7"/><rect x="467.66" y="540.87" width="1.7" height="1.7"/><rect x="468.65" y="535.19" width="1.7" height="1.7"/><rect x="471.18" y="541.84" width="1.7" height="1.7"/><rect x="466.82" y="537.61" width="1.7" height="1.7"/><rect x="465.61" y="544.58" width="1.7" height="1.7"/><rect x="470.26" y="533.47" width="1.7" height="1.7"/><rect x="466.83" y="538.01" width="1.7" height="1.7"/><rect x="469.90" y="534.78" width="1.7" height="1.7"/><rect x="474.16" y="545.89" width="1.7" height="1.7"/><rect x="482.21" y="543.40" width="1.7" height="1.7"/><rect x="465.34" y="540.14" width="1.7" height="1.7"/><rect x="471.54" y="535.88" width="1.7" height="1.7"/><rect x="469.37" y="542.33" width="1.7" height="1.7"/><rect x="479.56" y="536.44" width="1.7" height="1.7"/><rect x="468.89" y="538.74" width="1.7" height="1.7"/><rect x="473.52" y="541.91" width="1.7" height="1.7"/><rect x="465.34" y="534.08" width="1.7" height="1.7"/><rect x="464.20" y="545.01" width="1.7" height="1.7"/><rect x="474.85" y="536.58" width="1.7" height="1.7"/><rect x="476.33" y="544.61" width="1.7" height="1.7"/><rect x="469.59" y="543.77" width="1.7" height="1.7"/><rect x="467.82" y="548.58" width="1.7" height="1.7"/><rect x="465.62" y="532.84" width="1.7" height="1.7"/><rect x="463.72" y="530.88" width="1.7" height="1.7"/><rect x="472.26" y="548.03" width="1.7" height="1.7"/><rect x="477.14" y="545.59" width="1.7" height="1.7"/><rect x="474.67" y="541.77" width="1.7" height="1.7"/><rect x="468.93" y="539.97" width="1.7" height="1.7"/><rect x="462.79" y="540.35" width="1.7" height="1.7"/><rect x="468.62" y="532.19" width="1.7" height="1.7"/><rect x="467.51" y="537.55" width="1.7" height="1.7"/><rect x="474.06" y="536.05" width="1.7" height="1.7"/><rect x="469.69" y="538.71" width="1.7" height="1.7"/><rect x="465.26" y="528.16" width="1.7" height="1.7"/><rect x="461.70" y="536.00" width="1.7" height="1.7"/><rect x="468.98" y="538.63" width="1.7" height="1.7"/><rect x="467.84" y="540.69" width="1.7" height="1.7"/><rect x="477.48" y="538.17" width="1.7" height="1.7"/><rect x="470.74" y="540.36" width="1.7" height="1.7"/><rect x="472.38" y="540.62" width="1.7" height="1.7"/><rect x="474.01" y="537.84" width="1.7" height="1.7"/><rect x="474.22" y="547.10" width="1.7" height="1.7"/><rect x="470.88" y="544.04" width="1.7" height="1.7"/><rect x="474.05" y="541.98" width="1.7" height="1.7"/><rect x="473.13" y="540.90" width="1.7" height="1.7"/><rect x="477.18" y="536.48" width="1.7" height="1.7"/><rect x="472.33" y="546.15" width="1.7" height="1.7"/><rect x="471.28" y="532.14" width="1.7" height="1.7"/><rect x="466.87" y="538.89" width="1.7" height="1.7"/><rect x="486.80" y="538.15" width="1.7" height="1.7"/><rect x="475.35" y="540.33" width="1.7" height="1.7"/><rect x="462.85" y="530.88" width="1.7" height="1.7"/><rect x="477.07" y="548.39" width="1.7" height="1.7"/><rect x="470.50" y="540.21" width="1.7" height="1.7"/><rect x="470.85" y="542.42" width="1.7" height="1.7"/><rect x="487.05" y="548.30" width="1.7" height="1.7"/><rect x="480.56" y="540.35" width="1.7" height="1.7"/><rect x="471.32" y="538.19" width="1.7" height="1.7"/><rect x="476.00" y="544.48" width="1.7" height="1.7"/><rect x="468.91" y="534.45" width="1.7" height="1.7"/><rect x="477.28" y="540.26" width="1.7" height="1.7"/><rect x="463.68" y="543.97" width="1.7" height="1.7"/><rect x="480.79" y="537.20" width="1.7" height="1.7"/><rect x="474.56" y="539.40" width="1.7" height="1.7"/><rect x="469.22" y="537.31" width="1.7" height="1.7"/><rect x="478.94" y="539.30" width="1.7" height="1.7"/><rect x="467.85" y="537.44" width="1.7" height="1.7"/><rect x="467.91" y="539.15" width="1.7" height="1.7"/><rect x="464.32" y="547.03" width="1.7" height="1.7"/><rect x="464.67" y="537.11" width="1.7" height="1.7"/><rect x="466.29" y="536.23" width="1.7" height="1.7"/><rect x="467.76" y="537.65" width="1.7" height="1.7"/><rect x="468.38" y="533.36" width="1.7" height="1.7"/><rect x="468.80" y="539.05" width="1.7" height="1.7"/><rect x="478.59" y="536.35" width="1.7" height="1.7"/><rect x="463.96" y="531.85" width="1.7" height="1.7"/><rect x="464.58" y="541.61" width="1.7" height="1.7"/><rect x="466.02" y="534.31" width="1.7" height="1.7"/><rect x="464.59" y="535.52" width="1.7" height="1.7"/><rect x="474.00" y="541.50" width="1.7" height="1.7"/><rect x="474.26" y="532.69" width="1.7" height="1.7"/><rect x="481.57" y="546.39" width="1.7" height="1.7"/><rect x="473.06" y="541.98" width="1.7" height="1.7"/><rect x="470.52" y="541.75" width="1.7" height="1.7"/><rect x="474.83" y="544.33" width="1.7" height="1.7"/><rect x="463.50" y="537.27" width="1.7" height="1.7"/><rect x="473.41" y="535.80" width="1.7" height="1.7"/><rect x="475.65" y="544.63" width="1.7" height="1.7"/><rect x="465.54" y="536.82" width="1.7" height="1.7"/><rect x="473.05" y="537.58" width="1.7" height="1.7"/><rect x="479.76" y="551.29" width="1.7" height="1.7"/><rect x="467.48" y="536.54" width="1.7" height="1.7"/><rect x="464.57" y="531.24" width="1.7" height="1.7"/><rect x="470.85" y="537.40" width="1.7" height="1.7"/><rect x="470.08" y="538.11" width="1.7" height="1.7"/><rect x="473.94" y="538.57" width="1.7" height="1.7"/><rect x="462.69" y="544.67" width="1.7" height="1.7"/><rect x="470.87" y="536.63" width="1.7" height="1.7"/><rect x="469.83" y="540.06" width="1.7" height="1.7"/><rect x="478.17" y="539.44" width="1.7" height="1.7"/><rect x="465.41" y="537.38" width="1.7" height="1.7"/><rect x="470.07" y="539.24" width="1.7" height="1.7"/><rect x="470.92" y="537.46" width="1.7" height="1.7"/><rect x="471.33" y="538.54" width="1.7" height="1.7"/><rect x="471.62" y="540.77" width="1.7" height="1.7"/><rect x="467.82" y="537.70" width="1.7" height="1.7"/><rect x="474.25" y="534.60" width="1.7" height="1.7"/><rect x="487.11" y="547.40" width="1.7" height="1.7"/><rect x="467.30" y="534.50" width="1.7" height="1.7"/><rect x="468.81" y="538.58" width="1.7" height="1.7"/><rect x="463.45" y="535.06" width="1.7" height="1.7"/><rect x="462.22" y="533.11" width="1.7" height="1.7"/><rect x="466.17" y="537.34" width="1.7" height="1.7"/><rect x="477.68" y="545.12" width="1.7" height="1.7"/><rect x="470.71" y="531.35" width="1.7" height="1.7"/><rect x="462.62" y="536.64" width="1.7" height="1.7"/><rect x="458.87" y="534.61" width="1.7" height="1.7"/><rect x="470.37" y="543.94" width="1.7" height="1.7"/><rect x="463.93" y="532.68" width="1.7" height="1.7"/><rect x="475.65" y="545.91" width="1.7" height="1.7"/><rect x="476.57" y="545.10" width="1.7" height="1.7"/><rect x="466.40" y="536.75" width="1.7" height="1.7"/><rect x="470.72" y="537.60" width="1.7" height="1.7"/><rect x="478.28" y="544.50" width="1.7" height="1.7"/><rect x="474.91" y="539.80" width="1.7" height="1.7"/><rect x="460.96" y="533.54" width="1.7" height="1.7"/><rect x="477.77" y="547.24" width="1.7" height="1.7"/><rect x="469.39" y="535.43" width="1.7" height="1.7"/><rect x="477.10" y="543.08" width="1.7" height="1.7"/><rect x="469.96" y="540.62" width="1.7" height="1.7"/><rect x="463.69" y="537.06" width="1.7" height="1.7"/><rect x="484.74" y="549.58" width="1.7" height="1.7"/><rect x="471.25" y="543.52" width="1.7" height="1.7"/><rect x="480.95" y="549.29" width="1.7" height="1.7"/><rect x="477.07" y="539.92" width="1.7" height="1.7"/><rect x="466.03" y="539.43" width="1.7" height="1.7"/><rect x="471.81" y="533.32" width="1.7" height="1.7"/><rect x="473.19" y="535.79" width="1.7" height="1.7"/><rect x="478.16" y="541.61" width="1.7" height="1.7"/><rect x="471.70" y="540.22" width="1.7" height="1.7"/><rect x="481.78" y="538.01" width="1.7" height="1.7"/><rect x="477.62" y="544.37" width="1.7" height="1.7"/><rect x="469.67" y="536.35" width="1.7" height="1.7"/><rect x="470.30" y="544.84" width="1.7" height="1.7"/><rect x="461.99" y="535.14" width="1.7" height="1.7"/><rect x="476.27" y="539.30" width="1.7" height="1.7"/><rect x="481.25" y="549.10" width="1.7" height="1.7"/><rect x="460.14" y="535.93" width="1.7" height="1.7"/><rect x="476.92" y="544.92" width="1.7" height="1.7"/><rect x="473.01" y="539.12" width="1.7" height="1.7"/><rect x="468.41" y="542.27" width="1.7" height="1.7"/><rect x="469.32" y="539.59" width="1.7" height="1.7"/><rect x="476.00" y="542.50" width="1.7" height="1.7"/><rect x="465.28" y="542.23" width="1.7" height="1.7"/><rect x="468.48" y="537.03" width="1.7" height="1.7"/><rect x="465.94" y="539.67" width="1.7" height="1.7"/><rect x="474.65" y="539.93" width="1.7" height="1.7"/><rect x="484.29" y="542.03" width="1.7" height="1.7"/><rect x="475.33" y="532.86" width="1.7" height="1.7"/><rect x="459.50" y="543.01" width="1.7" height="1.7"/><rect x="466.38" y="537.92" width="1.7" height="1.7"/><rect x="478.78" y="539.59" width="1.7" height="1.7"/><rect x="467.93" y="544.53" width="1.7" height="1.7"/><rect x="473.59" y="541.69" width="1.7" height="1.7"/><rect x="465.12" y="542.93" width="1.7" height="1.7"/><rect x="475.65" y="542.45" width="1.7" height="1.7"/><rect x="472.47" y="540.76" width="1.7" height="1.7"/><rect x="466.37" y="540.34" width="1.7" height="1.7"/><rect x="467.27" y="539.05" width="1.7" height="1.7"/><rect x="466.77" y="536.20" width="1.7" height="1.7"/><rect x="464.87" y="537.11" width="1.7" height="1.7"/><rect x="471.92" y="537.88" width="1.7" height="1.7"/><rect x="452.03" y="531.57" width="1.7" height="1.7"/><rect x="473.25" y="542.45" width="1.7" height="1.7"/><rect x="468.79" y="540.88" width="1.7" height="1.7"/><rect x="461.62" y="525.50" width="1.7" height="1.7"/><rect x="469.60" y="537.94" width="1.7" height="1.7"/><rect x="463.35" y="539.50" width="1.7" height="1.7"/><rect x="455.81" y="535.83" width="1.7" height="1.7"/><rect x="465.15" y="538.40" width="1.7" height="1.7"/><rect x="473.32" y="535.65" width="1.7" height="1.7"/><rect x="470.88" y="544.52" width="1.7" height="1.7"/><rect x="467.43" y="536.92" width="1.7" height="1.7"/><rect x="482.21" y="553.44" width="1.7" height="1.7"/><rect x="462.57" y="540.45" width="1.7" height="1.7"/><rect x="469.48" y="537.40" width="1.7" height="1.7"/><rect x="479.39" y="540.64" width="1.7" height="1.7"/><rect x="479.58" y="545.58" width="1.7" height="1.7"/><rect x="465.32" y="545.02" width="1.7" height="1.7"/><rect x="465.45" y="536.02" width="1.7" height="1.7"/><rect x="470.38" y="532.36" width="1.7" height="1.7"/><rect x="468.33" y="543.53" width="1.7" height="1.7"/><rect x="473.70" y="549.27" width="1.7" height="1.7"/><rect x="475.44" y="540.52" width="1.7" height="1.7"/><rect x="461.33" y="535.66" width="1.7" height="1.7"/><rect x="471.51" y="535.85" width="1.7" height="1.7"/><rect x="468.43" y="541.92" width="1.7" height="1.7"/><rect x="470.08" y="540.85" width="1.7" height="1.7"/><rect x="463.45" y="534.65" width="1.7" height="1.7"/><rect x="476.12" y="545.06" width="1.7" height="1.7"/><rect x="466.39" y="543.47" width="1.7" height="1.7"/><rect x="467.00" y="542.11" width="1.7" height="1.7"/><rect x="469.81" y="537.68" width="1.7" height="1.7"/><rect x="479.47" y="546.97" width="1.7" height="1.7"/><rect x="465.00" y="543.39" width="1.7" height="1.7"/><rect x="469.60" y="537.24" width="1.7" height="1.7"/><rect x="464.19" y="538.69" width="1.7" height="1.7"/><rect x="463.51" y="544.00" width="1.7" height="1.7"/><rect x="466.38" y="536.11" width="1.7" height="1.7"/><rect x="467.48" y="546.62" width="1.7" height="1.7"/><rect x="463.37" y="539.67" width="1.7" height="1.7"/><rect x="482.25" y="548.97" width="1.7" height="1.7"/><rect x="487.60" y="542.15" width="1.7" height="1.7"/><rect x="477.80" y="539.25" width="1.7" height="1.7"/><rect x="453.55" y="534.48" width="1.7" height="1.7"/><rect x="471.36" y="538.86" width="1.7" height="1.7"/><rect x="477.93" y="543.19" width="1.7" height="1.7"/><rect x="464.70" y="536.89" width="1.7" height="1.7"/><rect x="470.90" y="538.95" width="1.7" height="1.7"/><rect x="467.01" y="539.63" width="1.7" height="1.7"/><rect x="450.25" y="533.42" width="1.7" height="1.7"/><rect x="476.57" y="542.01" width="1.7" height="1.7"/><rect x="469.52" y="537.74" width="1.7" height="1.7"/><rect x="468.05" y="540.54" width="1.7" height="1.7"/><rect x="481.03" y="536.84" width="1.7" height="1.7"/><rect x="458.75" y="539.07" width="1.7" height="1.7"/><rect x="472.03" y="537.86" width="1.7" height="1.7"/><rect x="462.58" y="540.13" width="1.7" height="1.7"/><rect x="474.42" y="536.83" width="1.7" height="1.7"/><rect x="464.26" y="539.57" width="1.7" height="1.7"/><rect x="468.45" y="535.21" width="1.7" height="1.7"/><rect x="473.38" y="539.53" width="1.7" height="1.7"/><rect x="482.35" y="540.77" width="1.7" height="1.7"/><rect x="471.19" y="534.11" width="1.7" height="1.7"/><rect x="481.03" y="537.67" width="1.7" height="1.7"/><rect x="482.45" y="542.23" width="1.7" height="1.7"/><rect x="457.59" y="537.43" width="1.7" height="1.7"/><rect x="471.93" y="540.61" width="1.7" height="1.7"/><rect x="475.72" y="540.46" width="1.7" height="1.7"/><rect x="483.36" y="541.63" width="1.7" height="1.7"/><rect x="477.04" y="537.18" width="1.7" height="1.7"/><rect x="480.45" y="544.92" width="1.7" height="1.7"/><rect x="480.32" y="542.99" width="1.7" height="1.7"/><rect x="458.10" y="529.11" width="1.7" height="1.7"/><rect x="472.83" y="535.62" width="1.7" height="1.7"/><rect x="464.32" y="535.34" width="1.7" height="1.7"/><rect x="466.39" y="528.99" width="1.7" height="1.7"/><rect x="480.96" y="543.36" width="1.7" height="1.7"/><rect x="455.60" y="534.95" width="1.7" height="1.7"/><rect x="473.05" y="540.96" width="1.7" height="1.7"/><rect x="473.44" y="541.92" width="1.7" height="1.7"/><rect x="475.19" y="539.58" width="1.7" height="1.7"/><rect x="466.14" y="535.14" width="1.7" height="1.7"/><rect x="474.61" y="541.69" width="1.7" height="1.7"/><rect x="466.62" y="542.25" width="1.7" height="1.7"/><rect x="485.99" y="535.31" width="1.7" height="1.7"/><rect x="476.20" y="543.37" width="1.7" height="1.7"/><rect x="475.92" y="544.58" width="1.7" height="1.7"/><rect x="464.43" y="545.85" width="1.7" height="1.7"/><rect x="467.31" y="541.62" width="1.7" height="1.7"/><rect x="477.88" y="540.65" width="1.7" height="1.7"/><rect x="466.71" y="540.07" width="1.7" height="1.7"/><rect x="470.15" y="539.99" width="1.7" height="1.7"/><rect x="471.03" y="535.45" width="1.7" height="1.7"/><rect x="461.31" y="536.22" width="1.7" height="1.7"/><rect x="471.75" y="537.00" width="1.7" height="1.7"/><rect x="470.60" y="542.98" width="1.7" height="1.7"/><rect x="476.34" y="537.16" width="1.7" height="1.7"/><rect x="466.19" y="534.20" width="1.7" height="1.7"/><rect x="487.70" y="547.13" width="1.7" height="1.7"/><rect x="475.52" y="551.51" width="1.7" height="1.7"/><rect x="472.76" y="544.04" width="1.7" height="1.7"/><rect x="474.16" y="541.74" width="1.7" height="1.7"/><rect x="473.07" y="536.07" width="1.7" height="1.7"/><rect x="477.32" y="538.16" width="1.7" height="1.7"/><rect x="467.00" y="539.43" width="1.7" height="1.7"/><rect x="471.05" y="541.58" width="1.7" height="1.7"/><rect x="466.10" y="538.17" width="1.7" height="1.7"/><rect x="474.43" y="541.83" width="1.7" height="1.7"/><rect x="463.84" y="533.47" width="1.7" height="1.7"/><rect x="467.26" y="531.82" width="1.7" height="1.7"/><rect x="473.07" y="539.55" width="1.7" height="1.7"/><rect x="479.21" y="542.08" width="1.7" height="1.7"/><rect x="463.38" y="536.93" width="1.7" height="1.7"/><rect x="458.37" y="534.59" width="1.7" height="1.7"/><rect x="471.91" y="538.05" width="1.7" height="1.7"/><rect x="471.30" y="532.60" width="1.7" height="1.7"/><rect x="472.33" y="542.12" width="1.7" height="1.7"/><rect x="490.22" y="545.84" width="1.7" height="1.7"/><rect x="476.15" y="542.15" width="1.7" height="1.7"/><rect x="469.23" y="539.62" width="1.7" height="1.7"/><rect x="467.27" y="538.90" width="1.7" height="1.7"/><rect x="469.64" y="541.58" width="1.7" height="1.7"/><rect x="465.96" y="539.74" width="1.7" height="1.7"/><rect x="455.74" y="534.09" width="1.7" height="1.7"/><rect x="454.17" y="536.23" width="1.7" height="1.7"/><rect x="470.32" y="542.48" width="1.7" height="1.7"/><rect x="470.95" y="532.69" width="1.7" height="1.7"/><rect x="471.75" y="542.31" width="1.7" height="1.7"/><rect x="473.11" y="543.65" width="1.7" height="1.7"/><rect x="458.96" y="539.56" width="1.7" height="1.7"/><rect x="474.58" y="542.23" width="1.7" height="1.7"/><rect x="474.28" y="538.54" width="1.7" height="1.7"/><rect x="458.22" y="542.20" width="1.7" height="1.7"/><rect x="465.02" y="543.52" width="1.7" height="1.7"/><rect x="474.31" y="544.96" width="1.7" height="1.7"/><rect x="463.10" y="532.54" width="1.7" height="1.7"/><rect x="461.61" y="542.60" width="1.7" height="1.7"/><rect x="478.25" y="542.26" width="1.7" height="1.7"/><rect x="469.30" y="537.69" width="1.7" height="1.7"/><rect x="466.40" y="540.22" width="1.7" height="1.7"/><rect x="468.16" y="534.77" width="1.7" height="1.7"/><rect x="469.87" y="545.44" width="1.7" height="1.7"/><rect x="462.25" y="535.79" width="1.7" height="1.7"/><rect x="461.42" y="543.18" width="1.7" height="1.7"/><rect x="466.14" y="545.36" width="1.7" height="1.7"/><rect x="471.87" y="532.56" width="1.7" height="1.7"/><rect x="482.78" y="543.32" width="1.7" height="1.7"/><rect x="479.81" y="542.18" width="1.7" height="1.7"/><rect x="470.59" y="537.49" width="1.7" height="1.7"/><rect x="471.01" y="542.05" width="1.7" height="1.7"/><rect x="470.05" y="541.10" width="1.7" height="1.7"/><rect x="472.82" y="536.69" width="1.7" height="1.7"/><rect x="462.77" y="539.83" width="1.7" height="1.7"/><rect x="463.07" y="531.39" width="1.7" height="1.7"/><rect x="475.24" y="540.79" width="1.7" height="1.7"/><rect x="464.33" y="534.49" width="1.7" height="1.7"/><rect x="463.68" y="544.39" width="1.7" height="1.7"/><rect x="465.82" y="533.78" width="1.7" height="1.7"/><rect x="469.79" y="541.70" width="1.7" height="1.7"/><rect x="466.53" y="535.41" width="1.7" height="1.7"/><rect x="464.87" y="540.84" width="1.7" height="1.7"/><rect x="473.92" y="538.81" width="1.7" height="1.7"/><rect x="469.88" y="538.10" width="1.7" height="1.7"/><rect x="472.94" y="548.79" width="1.7" height="1.7"/><rect x="470.71" y="542.58" width="1.7" height="1.7"/><rect x="469.78" y="540.07" width="1.7" height="1.7"/><rect x="472.33" y="537.43" width="1.7" height="1.7"/><rect x="464.32" y="540.83" width="1.7" height="1.7"/><rect x="467.53" y="539.44" width="1.7" height="1.7"/><rect x="460.65" y="536.79" width="1.7" height="1.7"/><rect x="475.41" y="543.99" width="1.7" height="1.7"/><rect x="458.99" y="533.69" width="1.7" height="1.7"/><rect x="479.44" y="541.06" width="1.7" height="1.7"/><rect x="480.33" y="538.59" width="1.7" height="1.7"/><rect x="470.06" y="540.98" width="1.7" height="1.7"/><rect x="485.66" y="541.98" width="1.7" height="1.7"/><rect x="468.24" y="534.22" width="1.7" height="1.7"/><rect x="465.71" y="540.14" width="1.7" height="1.7"/><rect x="479.41" y="538.87" width="1.7" height="1.7"/><rect x="467.76" y="535.35" width="1.7" height="1.7"/><rect x="475.89" y="550.22" width="1.7" height="1.7"/><rect x="469.87" y="536.14" width="1.7" height="1.7"/><rect x="472.26" y="544.55" width="1.7" height="1.7"/><rect x="475.95" y="543.83" width="1.7" height="1.7"/><rect x="476.06" y="540.43" width="1.7" height="1.7"/><rect x="477.85" y="545.13" width="1.7" height="1.7"/><rect x="482.78" y="544.75" width="1.7" height="1.7"/><rect x="469.48" y="541.68" width="1.7" height="1.7"/><rect x="470.05" y="539.23" width="1.7" height="1.7"/><rect x="468.91" y="536.90" width="1.7" height="1.7"/><rect x="474.57" y="541.91" width="1.7" height="1.7"/><rect x="470.39" y="539.04" width="1.7" height="1.7"/><rect x="476.74" y="536.74" width="1.7" height="1.7"/><rect x="464.98" y="535.40" width="1.7" height="1.7"/><rect x="475.34" y="546.74" width="1.7" height="1.7"/><rect x="473.63" y="534.44" width="1.7" height="1.7"/><rect x="467.76" y="543.69" width="1.7" height="1.7"/><rect x="457.08" y="535.66" width="1.7" height="1.7"/><rect x="469.34" y="540.22" width="1.7" height="1.7"/><rect x="476.12" y="546.39" width="1.7" height="1.7"/><rect x="470.02" y="532.91" width="1.7" height="1.7"/><rect x="480.52" y="545.55" width="1.7" height="1.7"/><rect x="459.40" y="535.25" width="1.7" height="1.7"/><rect x="472.98" y="539.91" width="1.7" height="1.7"/><rect x="464.84" y="535.33" width="1.7" height="1.7"/><rect x="465.37" y="542.65" width="1.7" height="1.7"/><rect x="465.08" y="538.51" width="1.7" height="1.7"/><rect x="470.31" y="544.69" width="1.7" height="1.7"/><rect x="473.34" y="535.69" width="1.7" height="1.7"/><rect x="460.28" y="534.78" width="1.7" height="1.7"/><rect x="465.74" y="549.14" width="1.7" height="1.7"/><rect x="471.83" y="544.86" width="1.7" height="1.7"/><rect x="468.62" y="542.05" width="1.7" height="1.7"/><rect x="452.79" y="538.23" width="1.7" height="1.7"/><rect x="476.01" y="538.65" width="1.7" height="1.7"/><rect x="462.06" y="534.53" width="1.7" height="1.7"/><rect x="474.71" y="535.56" width="1.7" height="1.7"/><rect x="483.56" y="537.30" width="1.7" height="1.7"/><rect x="479.13" y="539.72" width="1.7" height="1.7"/><rect x="471.10" y="544.93" width="1.7" height="1.7"/><rect x="470.44" y="536.06" width="1.7" height="1.7"/><rect x="476.65" y="544.39" width="1.7" height="1.7"/><rect x="456.56" y="539.15" width="1.7" height="1.7"/><rect x="459.60" y="535.66" width="1.7" height="1.7"/><rect x="461.49" y="541.28" width="1.7" height="1.7"/><rect x="468.73" y="540.69" width="1.7" height="1.7"/><rect x="471.90" y="537.09" width="1.7" height="1.7"/><rect x="472.69" y="535.30" width="1.7" height="1.7"/><rect x="465.90" y="536.50" width="1.7" height="1.7"/><rect x="489.61" y="544.27" width="1.7" height="1.7"/><rect x="466.84" y="538.39" width="1.7" height="1.7"/><rect x="469.71" y="540.99" width="1.7" height="1.7"/><rect x="480.40" y="535.40" width="1.7" height="1.7"/><rect x="468.19" y="542.25" width="1.7" height="1.7"/><rect x="477.99" y="537.42" width="1.7" height="1.7"/><rect x="471.47" y="536.59" width="1.7" height="1.7"/><rect x="469.47" y="534.02" width="1.7" height="1.7"/><rect x="471.25" y="538.69" width="1.7" height="1.7"/><rect x="475.67" y="545.30" width="1.7" height="1.7"/><rect x="472.77" y="539.47" width="1.7" height="1.7"/><rect x="477.59" y="544.45" width="1.7" height="1.7"/><rect x="458.20" y="538.52" width="1.7" height="1.7"/><rect x="474.14" y="540.63" width="1.7" height="1.7"/><rect x="473.78" y="534.94" width="1.7" height="1.7"/><rect x="477.33" y="538.60" width="1.7" height="1.7"/><rect x="472.89" y="544.34" width="1.7" height="1.7"/><rect x="470.22" y="540.68" width="1.7" height="1.7"/><rect x="465.06" y="537.66" width="1.7" height="1.7"/><rect x="468.29" y="542.57" width="1.7" height="1.7"/><rect x="463.97" y="544.85" width="1.7" height="1.7"/><rect x="481.72" y="546.23" width="1.7" height="1.7"/><rect x="466.75" y="548.26" width="1.7" height="1.7"/><rect x="469.99" y="539.27" width="1.7" height="1.7"/><rect x="473.18" y="544.09" width="1.7" height="1.7"/><rect x="463.29" y="529.31" width="1.7" height="1.7"/><rect x="468.41" y="537.89" width="1.7" height="1.7"/><rect x="471.57" y="540.27" width="1.7" height="1.7"/><rect x="480.47" y="540.93" width="1.7" height="1.7"/><rect x="475.90" y="535.91" width="1.7" height="1.7"/><rect x="476.42" y="541.55" width="1.7" height="1.7"/><rect x="464.10" y="534.42" width="1.7" height="1.7"/><rect x="470.81" y="545.76" width="1.7" height="1.7"/><rect x="475.43" y="534.09" width="1.7" height="1.7"/><rect x="477.60" y="540.59" width="1.7" height="1.7"/><rect x="481.47" y="541.10" width="1.7" height="1.7"/><rect x="464.45" y="537.15" width="1.7" height="1.7"/><rect x="475.50" y="542.48" width="1.7" height="1.7"/><rect x="465.60" y="543.23" width="1.7" height="1.7"/><rect x="480.97" y="540.13" width="1.7" height="1.7"/><rect x="465.60" y="532.90" width="1.7" height="1.7"/><rect x="471.27" y="543.55" width="1.7" height="1.7"/><rect x="466.02" y="535.90" width="1.7" height="1.7"/><rect x="477.78" y="539.05" width="1.7" height="1.7"/><rect x="468.69" y="549.01" width="1.7" height="1.7"/><rect x="463.66" y="535.94" width="1.7" height="1.7"/><rect x="464.30" y="542.95" width="1.7" height="1.7"/><rect x="462.98" y="545.85" width="1.7" height="1.7"/><rect x="480.09" y="551.25" width="1.7" height="1.7"/><rect x="463.70" y="535.90" width="1.7" height="1.7"/><rect x="474.91" y="537.05" width="1.7" height="1.7"/><rect x="465.23" y="538.41" width="1.7" height="1.7"/><rect x="483.03" y="546.96" width="1.7" height="1.7"/><rect x="473.44" y="543.67" width="1.7" height="1.7"/><rect x="460.24" y="540.33" width="1.7" height="1.7"/><rect x="464.64" y="534.66" width="1.7" height="1.7"/><rect x="476.52" y="532.93" width="1.7" height="1.7"/><rect x="464.94" y="539.92" width="1.7" height="1.7"/><rect x="474.35" y="543.38" width="1.7" height="1.7"/><rect x="464.78" y="538.78" width="1.7" height="1.7"/><rect x="477.12" y="544.61" width="1.7" height="1.7"/><rect x="482.25" y="545.87" width="1.7" height="1.7"/><rect x="477.59" y="538.62" width="1.7" height="1.7"/><rect x="467.52" y="538.71" width="1.7" height="1.7"/><rect x="479.49" y="547.64" width="1.7" height="1.7"/><rect x="478.37" y="543.05" width="1.7" height="1.7"/><rect x="476.86" y="537.26" width="1.7" height="1.7"/><rect x="473.80" y="543.45" width="1.7" height="1.7"/><rect x="471.59" y="544.60" width="1.7" height="1.7"/><rect x="457.47" y="528.40" width="1.7" height="1.7"/><rect x="465.84" y="548.17" width="1.7" height="1.7"/><rect x="473.02" y="547.83" width="1.7" height="1.7"/><rect x="473.63" y="534.45" width="1.7" height="1.7"/><rect x="479.95" y="538.80" width="1.7" height="1.7"/><rect x="468.74" y="542.89" width="1.7" height="1.7"/><rect x="457.02" y="540.52" width="1.7" height="1.7"/><rect x="469.01" y="542.31" width="1.7" height="1.7"/><rect x="481.92" y="544.88" width="1.7" height="1.7"/><rect x="469.04" y="535.46" width="1.7" height="1.7"/><rect x="467.33" y="535.26" width="1.7" height="1.7"/><rect x="474.42" y="544.25" width="1.7" height="1.7"/><rect x="476.24" y="542.74" width="1.7" height="1.7"/><rect x="467.92" y="536.38" width="1.7" height="1.7"/><rect x="471.88" y="542.03" width="1.7" height="1.7"/><rect x="477.50" y="535.98" width="1.7" height="1.7"/><rect x="471.04" y="542.20" width="1.7" height="1.7"/><rect x="469.20" y="538.73" width="1.7" height="1.7"/><rect x="478.46" y="548.88" width="1.7" height="1.7"/><rect x="481.92" y="541.64" width="1.7" height="1.7"/><rect x="471.49" y="528.86" width="1.7" height="1.7"/><rect x="479.91" y="534.95" width="1.7" height="1.7"/><rect x="468.90" y="534.49" width="1.7" height="1.7"/><rect x="460.39" y="538.74" width="1.7" height="1.7"/><rect x="464.50" y="532.44" width="1.7" height="1.7"/><rect x="474.04" y="546.33" width="1.7" height="1.7"/><rect x="477.73" y="540.65" width="1.7" height="1.7"/><rect x="475.04" y="528.55" width="1.7" height="1.7"/><rect x="459.66" y="532.50" width="1.7" height="1.7"/><rect x="466.89" y="537.15" width="1.7" height="1.7"/><rect x="474.84" y="535.33" width="1.7" height="1.7"/><rect x="476.95" y="539.14" width="1.7" height="1.7"/><rect x="455.69" y="536.98" width="1.7" height="1.7"/><rect x="472.38" y="541.64" width="1.7" height="1.7"/><rect x="466.95" y="535.44" width="1.7" height="1.7"/><rect x="471.64" y="541.94" width="1.7" height="1.7"/><rect x="469.34" y="542.46" width="1.7" height="1.7"/><rect x="466.43" y="540.80" width="1.7" height="1.7"/><rect x="477.07" y="535.07" width="1.7" height="1.7"/><rect x="474.34" y="544.09" width="1.7" height="1.7"/><rect x="468.14" y="537.09" width="1.7" height="1.7"/><rect x="467.31" y="535.49" width="1.7" height="1.7"/><rect x="481.44" y="537.12" width="1.7" height="1.7"/><rect x="466.56" y="537.52" width="1.7" height="1.7"/><rect x="470.91" y="537.58" width="1.7" height="1.7"/><rect x="464.70" y="537.30" width="1.7" height="1.7"/><rect x="472.67" y="543.79" width="1.7" height="1.7"/><rect x="472.00" y="537.91" width="1.7" height="1.7"/><rect x="470.20" y="541.91" width="1.7" height="1.7"/><rect x="472.69" y="539.11" width="1.7" height="1.7"/><rect x="465.68" y="539.21" width="1.7" height="1.7"/><rect x="470.98" y="543.64" width="1.7" height="1.7"/><rect x="473.80" y="543.23" width="1.7" height="1.7"/><rect x="463.22" y="532.88" width="1.7" height="1.7"/><rect x="479.00" y="547.63" width="1.7" height="1.7"/><rect x="468.03" y="543.12" width="1.7" height="1.7"/><rect x="458.19" y="531.91" width="1.7" height="1.7"/><rect x="467.85" y="535.46" width="1.7" height="1.7"/><rect x="468.05" y="543.53" width="1.7" height="1.7"/><rect x="475.90" y="543.39" width="1.7" height="1.7"/><rect x="476.02" y="547.24" width="1.7" height="1.7"/><rect x="480.33" y="536.25" width="1.7" height="1.7"/><rect x="466.60" y="547.14" width="1.7" height="1.7"/><rect x="458.27" y="537.21" width="1.7" height="1.7"/><rect x="457.93" y="537.72" width="1.7" height="1.7"/><rect x="472.49" y="542.85" width="1.7" height="1.7"/><rect x="473.98" y="542.41" width="1.7" height="1.7"/><rect x="465.36" y="538.37" width="1.7" height="1.7"/><rect x="466.33" y="537.30" width="1.7" height="1.7"/><rect x="467.71" y="530.96" width="1.7" height="1.7"/><rect x="463.83" y="535.82" width="1.7" height="1.7"/><rect x="476.09" y="541.93" width="1.7" height="1.7"/><rect x="469.39" y="550.30" width="1.7" height="1.7"/><rect x="454.26" y="544.58" width="1.7" height="1.7"/><rect x="478.95" y="543.42" width="1.7" height="1.7"/><rect x="480.76" y="556.64" width="1.7" height="1.7"/><rect x="474.62" y="549.06" width="1.7" height="1.7"/><rect x="456.43" y="532.29" width="1.7" height="1.7"/><rect x="487.23" y="551.74" width="1.7" height="1.7"/><rect x="481.20" y="548.64" width="1.7" height="1.7"/><rect x="462.06" y="555.68" width="1.7" height="1.7"/><rect x="479.48" y="537.88" width="1.7" height="1.7"/><rect x="468.38" y="534.38" width="1.7" height="1.7"/><rect x="480.11" y="552.44" width="1.7" height="1.7"/><rect x="480.92" y="541.02" width="1.7" height="1.7"/><rect x="466.46" y="545.23" width="1.7" height="1.7"/><rect x="475.45" y="551.23" width="1.7" height="1.7"/><rect x="461.09" y="538.86" width="1.7" height="1.7"/><rect x="492.45" y="548.54" width="1.7" height="1.7"/><rect x="467.53" y="546.81" width="1.7" height="1.7"/><rect x="486.47" y="555.73" width="1.7" height="1.7"/><rect x="463.85" y="546.18" width="1.7" height="1.7"/><rect x="470.43" y="548.48" width="1.7" height="1.7"/><rect x="470.90" y="543.23" width="1.7" height="1.7"/><rect x="484.69" y="545.11" width="1.7" height="1.7"/><rect x="455.17" y="540.72" width="1.7" height="1.7"/><rect x="462.97" y="550.28" width="1.7" height="1.7"/><rect x="468.38" y="549.40" width="1.7" height="1.7"/><rect x="472.09" y="548.72" width="1.7" height="1.7"/><rect x="485.48" y="550.77" width="1.7" height="1.7"/><rect x="459.93" y="535.51" width="1.7" height="1.7"/><rect x="465.50" y="539.50" width="1.7" height="1.7"/><rect x="456.47" y="552.92" width="1.7" height="1.7"/><rect x="456.36" y="546.89" width="1.7" height="1.7"/><rect x="454.68" y="526.00" width="1.7" height="1.7"/><rect x="486.93" y="554.88" width="1.7" height="1.7"/><rect x="490.33" y="542.15" width="1.7" height="1.7"/><rect x="463.37" y="544.33" width="1.7" height="1.7"/><rect x="477.83" y="555.16" width="1.7" height="1.7"/><rect x="478.70" y="554.90" width="1.7" height="1.7"/><rect x="482.84" y="532.16" width="1.7" height="1.7"/><rect x="474.96" y="536.23" width="1.7" height="1.7"/><rect x="473.37" y="541.72" width="1.7" height="1.7"/><rect x="463.36" y="540.79" width="1.7" height="1.7"/><rect x="486.67" y="540.40" width="1.7" height="1.7"/><rect x="461.20" y="544.14" width="1.7" height="1.7"/><rect x="477.69" y="540.34" width="1.7" height="1.7"/><rect x="472.07" y="554.40" width="1.7" height="1.7"/><rect x="466.26" y="537.80" width="1.7" height="1.7"/><rect x="481.62" y="552.31" width="1.7" height="1.7"/><rect x="476.29" y="534.71" width="1.7" height="1.7"/><rect x="463.52" y="550.14" width="1.7" height="1.7"/><rect x="471.58" y="535.67" width="1.7" height="1.7"/><rect x="471.29" y="541.99" width="1.7" height="1.7"/><rect x="459.64" y="538.26" width="1.7" height="1.7"/><rect x="452.72" y="537.24" width="1.7" height="1.7"/><rect x="468.27" y="531.85" width="1.7" height="1.7"/><rect x="479.16" y="557.56" width="1.7" height="1.7"/><rect x="486.29" y="532.45" width="1.7" height="1.7"/><rect x="473.84" y="542.90" width="1.7" height="1.7"/><rect x="466.36" y="545.52" width="1.7" height="1.7"/><rect x="470.11" y="539.70" width="1.7" height="1.7"/><rect x="473.72" y="546.58" width="1.7" height="1.7"/><rect x="460.72" y="519.55" width="1.7" height="1.7"/><rect x="482.94" y="539.59" width="1.7" height="1.7"/><rect x="466.99" y="547.54" width="1.7" height="1.7"/><rect x="468.91" y="546.14" width="1.7" height="1.7"/><rect x="481.55" y="560.12" width="1.7" height="1.7"/><rect x="471.95" y="545.98" width="1.7" height="1.7"/><rect x="470.31" y="539.54" width="1.7" height="1.7"/><rect x="474.44" y="545.11" width="1.7" height="1.7"/><rect x="475.32" y="563.25" width="1.7" height="1.7"/><rect x="478.85" y="548.82" width="1.7" height="1.7"/><rect x="476.23" y="548.22" width="1.7" height="1.7"/><rect x="458.79" y="534.34" width="1.7" height="1.7"/><rect x="466.60" y="540.23" width="1.7" height="1.7"/><rect x="465.77" y="546.67" width="1.7" height="1.7"/><rect x="482.54" y="559.32" width="1.7" height="1.7"/><rect x="487.82" y="542.67" width="1.7" height="1.7"/><rect x="474.35" y="539.84" width="1.7" height="1.7"/><rect x="495.16" y="553.54" width="1.7" height="1.7"/><rect x="455.47" y="545.23" width="1.7" height="1.7"/><rect x="466.96" y="545.49" width="1.7" height="1.7"/><rect x="459.22" y="540.44" width="1.7" height="1.7"/><rect x="479.23" y="542.34" width="1.7" height="1.7"/><rect x="473.87" y="555.53" width="1.7" height="1.7"/><rect x="477.35" y="544.18" width="1.7" height="1.7"/><rect x="477.64" y="546.66" width="1.7" height="1.7"/><rect x="484.00" y="556.69" width="1.7" height="1.7"/><rect x="470.92" y="537.91" width="1.7" height="1.7"/><rect x="469.20" y="540.47" width="1.7" height="1.7"/><rect x="483.35" y="526.90" width="1.7" height="1.7"/><rect x="455.10" y="537.87" width="1.7" height="1.7"/><rect x="474.69" y="549.95" width="1.7" height="1.7"/><rect x="472.43" y="557.92" width="1.7" height="1.7"/><rect x="480.41" y="543.54" width="1.7" height="1.7"/><rect x="463.75" y="535.01" width="1.7" height="1.7"/><rect x="463.28" y="544.04" width="1.7" height="1.7"/><rect x="493.29" y="564.17" width="1.7" height="1.7"/><rect x="453.68" y="534.93" width="1.7" height="1.7"/><rect x="474.63" y="528.58" width="1.7" height="1.7"/><rect x="487.14" y="545.97" width="1.7" height="1.7"/><rect x="460.70" y="546.04" width="1.7" height="1.7"/><rect x="468.95" y="532.56" width="1.7" height="1.7"/><rect x="466.45" y="540.68" width="1.7" height="1.7"/><rect x="460.23" y="535.51" width="1.7" height="1.7"/><rect x="491.68" y="551.96" width="1.7" height="1.7"/><rect x="469.35" y="551.09" width="1.7" height="1.7"/><rect x="470.58" y="548.76" width="1.7" height="1.7"/><rect x="461.28" y="529.98" width="1.7" height="1.7"/><rect x="471.43" y="541.59" width="1.7" height="1.7"/><rect x="475.09" y="544.54" width="1.7" height="1.7"/><rect x="472.27" y="546.63" width="1.7" height="1.7"/><rect x="477.12" y="553.23" width="1.7" height="1.7"/><rect x="463.89" y="541.81" width="1.7" height="1.7"/><rect x="472.74" y="556.46" width="1.7" height="1.7"/><rect x="466.20" y="549.82" width="1.7" height="1.7"/><rect x="471.45" y="534.38" width="1.7" height="1.7"/><rect x="462.46" y="537.60" width="1.7" height="1.7"/><rect x="484.42" y="550.21" width="1.7" height="1.7"/><rect x="477.10" y="553.68" width="1.7" height="1.7"/><rect x="455.87" y="531.83" width="1.7" height="1.7"/><rect x="473.44" y="531.73" width="1.7" height="1.7"/><rect x="471.76" y="549.45" width="1.7" height="1.7"/><rect x="481.25" y="533.71" width="1.7" height="1.7"/><rect x="481.30" y="552.00" width="1.7" height="1.7"/><rect x="475.30" y="540.48" width="1.7" height="1.7"/><rect x="466.63" y="544.31" width="1.7" height="1.7"/><rect x="485.49" y="545.09" width="1.7" height="1.7"/><rect x="475.64" y="547.28" width="1.7" height="1.7"/><rect x="475.18" y="546.01" width="1.7" height="1.7"/><rect x="474.26" y="540.99" width="1.7" height="1.7"/><rect x="465.16" y="540.28" width="1.7" height="1.7"/><rect x="466.37" y="541.58" width="1.7" height="1.7"/><rect x="458.25" y="540.17" width="1.7" height="1.7"/><rect x="468.60" y="539.02" width="1.7" height="1.7"/><rect x="469.07" y="554.42" width="1.7" height="1.7"/><rect x="472.39" y="568.69" width="1.7" height="1.7"/><rect x="465.38" y="533.69" width="1.7" height="1.7"/><rect x="464.60" y="545.43" width="1.7" height="1.7"/><rect x="463.38" y="538.57" width="1.7" height="1.7"/><rect x="465.03" y="536.61" width="1.7" height="1.7"/><rect x="475.92" y="555.72" width="1.7" height="1.7"/><rect x="488.59" y="559.71" width="1.7" height="1.7"/><rect x="470.13" y="538.23" width="1.7" height="1.7"/><rect x="452.77" y="539.93" width="1.7" height="1.7"/><rect x="478.83" y="541.04" width="1.7" height="1.7"/><rect x="468.65" y="542.75" width="1.7" height="1.7"/><rect x="485.18" y="559.55" width="1.7" height="1.7"/><rect x="465.69" y="529.90" width="1.7" height="1.7"/><rect x="474.01" y="541.24" width="1.7" height="1.7"/><rect x="467.53" y="547.71" width="1.7" height="1.7"/><rect x="460.89" y="530.24" width="1.7" height="1.7"/><rect x="473.27" y="555.22" width="1.7" height="1.7"/><rect x="478.44" y="551.16" width="1.7" height="1.7"/><rect x="482.82" y="559.17" width="1.7" height="1.7"/><rect x="466.34" y="544.52" width="1.7" height="1.7"/><rect x="457.35" y="535.32" width="1.7" height="1.7"/><rect x="480.25" y="549.63" width="1.7" height="1.7"/><rect x="461.24" y="553.59" width="1.7" height="1.7"/><rect x="478.06" y="547.92" width="1.7" height="1.7"/><rect x="467.02" y="541.71" width="1.7" height="1.7"/><rect x="475.47" y="558.00" width="1.7" height="1.7"/><rect x="481.74" y="550.57" width="1.7" height="1.7"/><rect x="472.41" y="545.85" width="1.7" height="1.7"/><rect x="474.68" y="536.74" width="1.7" height="1.7"/><rect x="462.15" y="542.87" width="1.7" height="1.7"/><rect x="461.86" y="544.35" width="1.7" height="1.7"/><rect x="471.35" y="545.81" width="1.7" height="1.7"/><rect x="473.65" y="546.72" width="1.7" height="1.7"/><rect x="485.35" y="547.90" width="1.7" height="1.7"/><rect x="488.19" y="549.63" width="1.7" height="1.7"/><rect x="464.51" y="534.83" width="1.7" height="1.7"/><rect x="483.88" y="554.58" width="1.7" height="1.7"/><rect x="473.60" y="549.75" width="1.7" height="1.7"/><rect x="464.75" y="538.00" width="1.7" height="1.7"/><rect x="474.71" y="537.00" width="1.7" height="1.7"/><rect x="467.10" y="536.68" width="1.7" height="1.7"/><rect x="483.79" y="547.10" width="1.7" height="1.7"/></g>
<line x1="439.40" y1="532.10" x2="494.80" y2="551.90" stroke="#dc1e3a" stroke-width="1.7" stroke-dasharray="1.6,1.0"/>
<line x1="423.00" y1="514.00" x2="423.00" y2="573.50" stroke="#111" stroke-width="1.1" />
<line x1="422.50" y1="573.00" x2="508.00" y2="573.00" stroke="#111" stroke-width="1.1" />
<line x1="420.10" y1="514.50" x2="423.00" y2="514.50" stroke="#111" stroke-width="1.0" />
<text x="417.00" y="517.20" font-size="7.6" stroke="#111" stroke-width="0.05" text-anchor="end">10</text>
<line x1="420.10" y1="529.12" x2="423.00" y2="529.12" stroke="#111" stroke-width="1.0" />
<text x="417.00" y="531.83" font-size="7.6" stroke="#111" stroke-width="0.05" text-anchor="end">5</text>
<line x1="420.10" y1="543.75" x2="423.00" y2="543.75" stroke="#111" stroke-width="1.0" />
<text x="417.00" y="546.45" font-size="7.6" stroke="#111" stroke-width="0.05" text-anchor="end">0</text>
<line x1="420.10" y1="558.38" x2="423.00" y2="558.38" stroke="#111" stroke-width="1.0" />
<text x="417.00" y="561.08" font-size="7.6" stroke="#111" stroke-width="0.05" text-anchor="end">−5</text>
<line x1="420.10" y1="573.00" x2="423.00" y2="573.00" stroke="#111" stroke-width="1.0" />
<text x="417.00" y="575.70" font-size="7.6" stroke="#111" stroke-width="0.05" text-anchor="end">−10</text>
<line x1="423.00" y1="573.00" x2="423.00" y2="575.90" stroke="#111" stroke-width="1.0" />
<text x="423.00" y="584.40" font-size="7.6" stroke="#111" stroke-width="0.05" text-anchor="middle">0</text>
<line x1="439.90" y1="573.00" x2="439.90" y2="575.90" stroke="#111" stroke-width="1.0" />
<text x="439.90" y="584.40" font-size="7.6" stroke="#111" stroke-width="0.05" text-anchor="middle">2</text>
<line x1="456.80" y1="573.00" x2="456.80" y2="575.90" stroke="#111" stroke-width="1.0" />
<text x="456.80" y="584.40" font-size="7.6" stroke="#111" stroke-width="0.05" text-anchor="middle">4</text>
<line x1="473.70" y1="573.00" x2="473.70" y2="575.90" stroke="#111" stroke-width="1.0" />
<text x="473.70" y="584.40" font-size="7.6" stroke="#111" stroke-width="0.05" text-anchor="middle">6</text>
<line x1="490.60" y1="573.00" x2="490.60" y2="575.90" stroke="#111" stroke-width="1.0" />
<text x="490.60" y="584.40" font-size="7.6" stroke="#111" stroke-width="0.05" text-anchor="middle">8</text>
<line x1="507.50" y1="573.00" x2="507.50" y2="575.90" stroke="#111" stroke-width="1.0" />
<text x="507.50" y="584.40" font-size="7.6" stroke="#111" stroke-width="0.05" text-anchor="middle">10</text>
<text x="435.00" y="596.00" font-size="8.7" stroke="#111" stroke-width="0.3" textLength="58.00" lengthAdjust="spacingAndGlyphs"><tspan>MEF2D (log</tspan><tspan font-size="4.6" dy="1.8">2</tspan><tspan dy="-1.8"> RPKM)</tspan></text>
<text stroke="#111" stroke-width="0.3" transform="translate(404.10,543.75) rotate(-90)" font-size="8.7" text-anchor="middle" textLength="56" lengthAdjust="spacingAndGlyphs">CEBPE (log<tspan font-size="4.6" dy="1.8">2</tspan><tspan dy="-1.8"> RPKM)</tspan></text>
<text x="424.70" y="560.70" font-size="7.7" stroke="#111" stroke-width="0.05" textLength="29.40" lengthAdjust="spacing"><tspan font-style="italic">R</tspan><tspan> = -0.47</tspan></text>
<text x="424.70" y="567.10" font-size="7.7" stroke="#111" stroke-width="0.05" textLength="47.60" lengthAdjust="spacing"><tspan font-style="italic">P</tspan><tspan> = 2.8 ×10</tspan><tspan font-size="4.4" dy="-2.9" fill="#555">−28</tspan></text>
<rect x="0" y="0" width="1.3" height="609" fill="#000"/>
<rect x="0" y="0" width="520" height="1.4" fill="#000"/>
<rect x="518.3" y="0" width="1.7" height="609" fill="#000"/>
<rect x="0" y="607.5" width="520" height="1.5" fill="#000"/>
</svg>
</body></html>
